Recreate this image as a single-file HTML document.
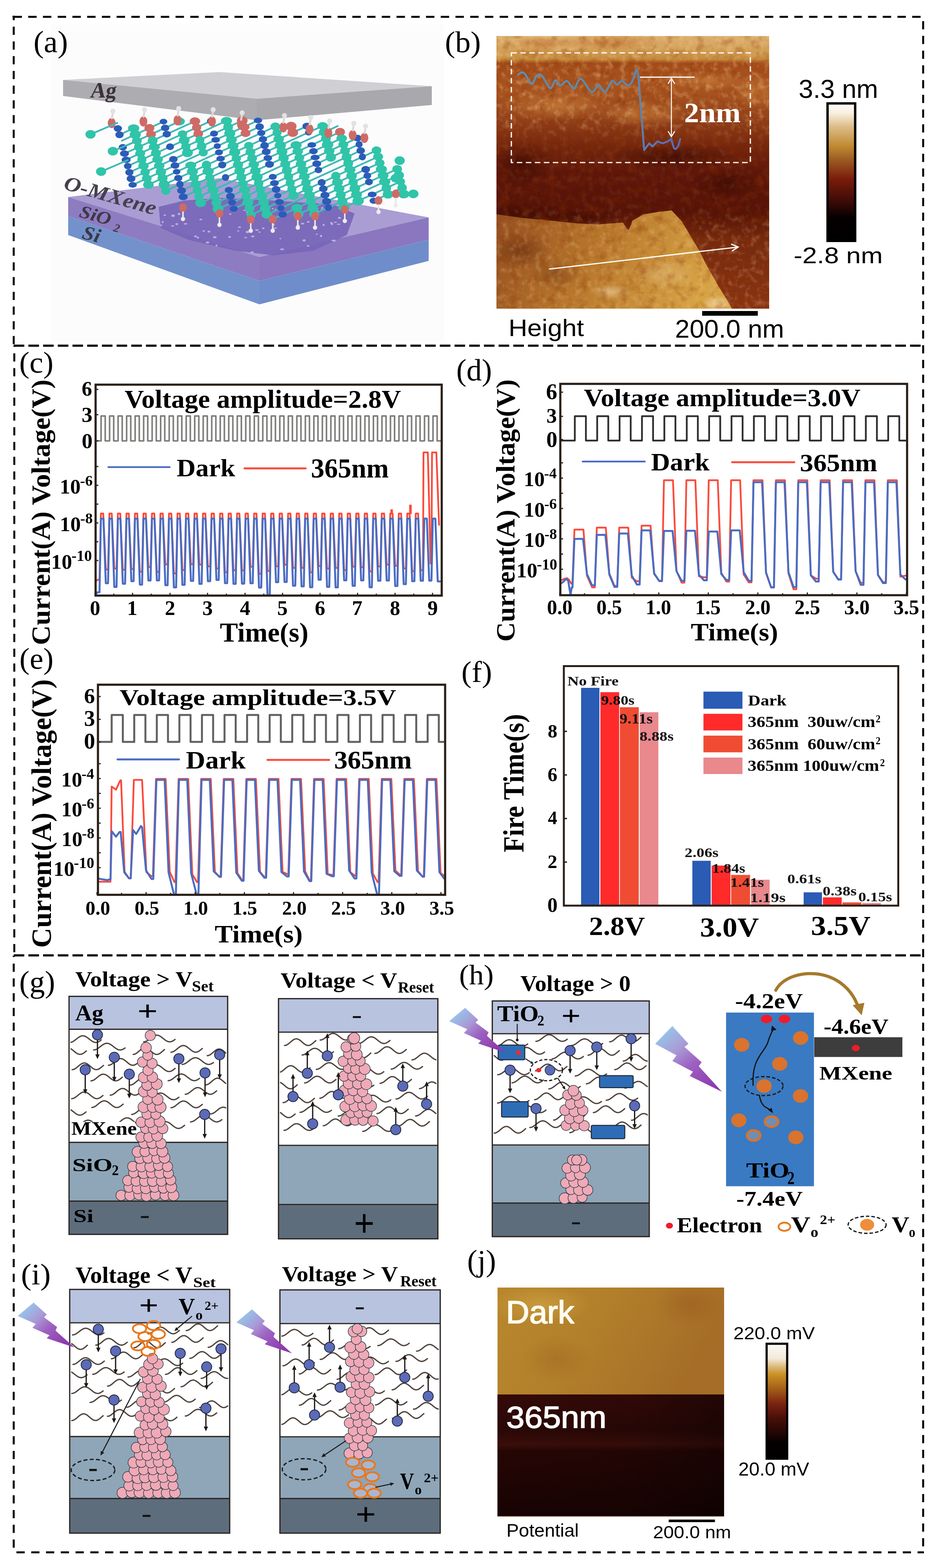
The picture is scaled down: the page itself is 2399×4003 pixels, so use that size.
<!DOCTYPE html>
<html><head><meta charset="utf-8"><title>Figure</title>
<style>html,body{margin:0;padding:0;background:#fff;}body{width:2399px;height:4003px;overflow:hidden}svg{display:block}</style>
</head><body>
<svg width="2399" height="4003" viewBox="0 0 2399 4003">
<rect width="2399" height="4003" fill="#fff"/>
<path d="M32 43H56" stroke="#000" stroke-width="5"/>
<line x1="72" y1="43" x2="2351" y2="43" stroke="#000" stroke-width="5" stroke-dasharray="21.5 16.1" />
<line x1="35" y1="40" x2="35" y2="883" stroke="#000" stroke-width="5" stroke-dasharray="21 16.6" stroke-dashoffset="9.5"/>
<line x1="36.5" y1="883" x2="36.5" y2="2440" stroke="#000" stroke-width="5" stroke-dasharray="21 16.7" stroke-dashoffset="-19"/>
<line x1="35" y1="2440" x2="35" y2="3953" stroke="#000" stroke-width="5" stroke-dasharray="21 16.7" stroke-dashoffset="-20"/>
<line x1="2356" y1="54" x2="2356" y2="3965" stroke="#000" stroke-width="5" stroke-dasharray="21 16.6" />
<line x1="42" y1="3963" x2="2358" y2="3963" stroke="#000" stroke-width="5" stroke-dasharray="21 16.7" />
<line x1="35" y1="882.5" x2="2358" y2="882.5" stroke="#000" stroke-width="5.5" stroke-dasharray="27 10.5" />
<line x1="35" y1="2439" x2="2358" y2="2439" stroke="#000" stroke-width="5.5" stroke-dasharray="27 10.5" />
<defs>
<clipPath id="clipb"><rect x="1267" y="92" width="696" height="696"/></clipPath>
<linearGradient id="afmb" x1="0" y1="0" x2="0" y2="1">
<stop offset="0" stop-color="#dcb070"/>
<stop offset="0.04" stop-color="#d6a65e"/>
<stop offset="0.085" stop-color="#c58a3c"/>
<stop offset="0.1" stop-color="#a34c1a"/>
<stop offset="0.2" stop-color="#a8541f"/>
<stop offset="0.3" stop-color="#94421a"/>
<stop offset="0.4" stop-color="#76270c"/>
<stop offset="0.5" stop-color="#5e1609"/>
<stop offset="0.65" stop-color="#561306"/>
<stop offset="0.75" stop-color="#762a0e"/>
<stop offset="1" stop-color="#8a3412"/>
</linearGradient>
<linearGradient id="afml" gradientUnits="userSpaceOnUse" x1="1280" y1="560" x2="1760" y2="800">
<stop offset="0" stop-color="#96501f"/>
<stop offset="0.45" stop-color="#b7772c"/>
<stop offset="1" stop-color="#d6a244"/>
</linearGradient>
<linearGradient id="cbar1" x1="0" y1="0" x2="0" y2="1">
<stop offset="0" stop-color="#fffef8"/>
<stop offset="0.07" stop-color="#f8f0e0"/>
<stop offset="0.17" stop-color="#dcbc88"/>
<stop offset="0.31" stop-color="#c08a32"/>
<stop offset="0.41" stop-color="#9c5c22"/>
<stop offset="0.55" stop-color="#7a1c0a"/>
<stop offset="0.72" stop-color="#3a0a08"/>
<stop offset="0.83" stop-color="#050000"/>
<stop offset="1" stop-color="#000"/>
</linearGradient>
<filter id="nzL" x="0" y="0" width="1" height="1">
<feTurbulence type="fractalNoise" baseFrequency="0.06" numOctaves="3" seed="3"/>
<feColorMatrix type="matrix" values="0 0 0 0 0.92  0 0 0 0 0.6  0 0 0 0 0.3  2.2 0 0 0 -1.05"/>
<feComposite in2="SourceGraphic" operator="in"/>
</filter>
<filter id="nzD" x="0" y="0" width="1" height="1">
<feTurbulence type="fractalNoise" baseFrequency="0.04" numOctaves="3" seed="11"/>
<feColorMatrix type="matrix" values="0 0 0 0 0.25  0 0 0 0 0.03  0 0 0 0 0  2.2 0 0 0 -1.05"/>
<feComposite in2="SourceGraphic" operator="in"/>
</filter>
<radialGradient id="spotO" cx="0.5" cy="0.5" r="0.5"><stop offset="0" stop-color="#c47a38" stop-opacity="0.85"/><stop offset="1" stop-color="#c47a38" stop-opacity="0"/></radialGradient>
<radialGradient id="spotD" cx="0.5" cy="0.5" r="0.5"><stop offset="0" stop-color="#3c0a02" stop-opacity="0.75"/><stop offset="1" stop-color="#3c0a02" stop-opacity="0"/></radialGradient>
<radialGradient id="spotW" cx="0.5" cy="0.5" r="0.5"><stop offset="0" stop-color="#fff4d8" stop-opacity="0.95"/><stop offset="1" stop-color="#fff4d8" stop-opacity="0"/></radialGradient>
<linearGradient id="nzmg" x1="0" y1="0" x2="0" y2="1">
<stop offset="0" stop-color="#fff"/><stop offset="0.3" stop-color="#fff"/><stop offset="0.38" stop-color="#444"/><stop offset="0.62" stop-color="#333"/><stop offset="0.7" stop-color="#bbb"/><stop offset="1" stop-color="#bbb"/>
</linearGradient>
<mask id="nzmask" maskUnits="userSpaceOnUse" x="1267" y="92" width="696" height="696"><rect x="1267" y="92" width="696" height="696" fill="url(#nzmg)"/></mask>
<linearGradient id="profg" gradientUnits="userSpaceOnUse" x1="1320" y1="190" x2="1740" y2="380"><stop offset="0" stop-color="#5d8fae"/><stop offset="0.7" stop-color="#5d86ae"/><stop offset="1" stop-color="#5a66b6"/></linearGradient>
</defs>
<g clip-path="url(#clipb)">
<rect x="1267" y="92" width="696" height="696" fill="url(#afmb)"/>
<ellipse cx="1420" cy="270" rx="150" ry="40" fill="url(#spotO)"/>
<ellipse cx="1640" cy="290" rx="120" ry="35" fill="url(#spotO)"/>
<ellipse cx="1930" cy="235" rx="60" ry="45" fill="url(#spotO)"/>
<ellipse cx="1800" cy="205" rx="120" ry="25" fill="url(#spotO)"/>
<ellipse cx="1340" cy="545" rx="120" ry="30" fill="url(#spotD)"/>
<ellipse cx="1480" cy="555" rx="100" ry="22" fill="url(#spotD)"/>
<ellipse cx="1720" cy="400" rx="170" ry="35" fill="url(#spotD)"/>
<ellipse cx="1330" cy="420" rx="80" ry="60" fill="url(#spotD)"/>
<ellipse cx="1850" cy="470" rx="90" ry="40" fill="url(#spotD)"/>
<ellipse cx="1560" cy="108" rx="140" ry="22" fill="url(#spotO)"/>
<ellipse cx="1380" cy="112" rx="80" ry="18" fill="url(#spotO)"/>
<polygon points="1267,547 1330,556 1403,563 1470,570 1528,573 1590,568 1597,580 1604,587 1610,575 1614,563 1643,547 1680,541 1714,537 1740,565 1762,602 1785,640 1801,673 1834,731 1855,765 1868,788 1267,788" fill="url(#afml)"/>
<ellipse cx="1330" cy="640" rx="80" ry="50" fill="url(#spotD)" opacity="0.5"/>
<ellipse cx="1420" cy="700" rx="70" ry="40" fill="url(#spotD)" opacity="0.35"/>
<ellipse cx="1560" cy="745" rx="50" ry="20" fill="url(#spotW)" opacity="0.45"/>
<ellipse cx="1830" cy="775" rx="40" ry="22" fill="url(#spotW)" opacity="0.6"/>
<ellipse cx="1700" cy="700" rx="80" ry="40" fill="url(#spotW)" opacity="0.25"/>
<rect x="1267" y="92" width="696" height="696" fill="#fff" filter="url(#nzL)" opacity="0.45" mask="url(#nzmask)"/>
<rect x="1267" y="92" width="696" height="696" fill="#fff" filter="url(#nzD)" opacity="0.4"/>
</g>
<rect x="1305" y="135" width="610" height="280" fill="none" stroke="#fff" stroke-width="3.2" stroke-dasharray="14 9"/>
<path d="M1322.0,191.0 C1323.5,190.0 1328.0,185.3 1331.0,185.0 C1334.0,184.7 1335.7,184.2 1340.0,189.0 C1344.3,193.8 1352.0,213.3 1357.0,214.0 C1362.0,214.7 1365.7,196.5 1370.0,193.0 C1374.3,189.5 1377.3,187.7 1383.0,193.0 C1388.7,198.3 1398.3,223.0 1404.0,225.0 C1409.7,227.0 1412.7,206.2 1417.0,205.0 C1421.3,203.8 1425.0,217.7 1430.0,218.0 C1435.0,218.3 1441.2,205.7 1447.0,207.0 C1452.8,208.3 1459.2,227.0 1465.0,226.0 C1470.8,225.0 1474.5,199.5 1482.0,201.0 C1489.5,202.5 1502.5,232.3 1510.0,235.0 C1517.5,237.7 1521.3,217.0 1527.0,217.0 C1532.7,217.0 1538.2,236.7 1544.0,235.0 C1549.8,233.3 1556.8,210.2 1562.0,207.0 C1567.2,203.8 1570.8,216.0 1575.0,216.0 C1579.2,216.0 1582.0,206.7 1587.0,207.0 C1592.0,207.3 1599.8,219.5 1605.0,218.0 C1610.2,216.5 1614.8,204.7 1618.0,198.0 C1621.2,191.3 1622.2,179.0 1624.0,178.0 C1625.8,177.0 1628.2,189.7 1629.0,192.0 L1644,383 L1657,366 L1665,374 L1678,361 L1691,366 L1704,361 L1713,355  C1714.3,359.0 1718.2,375.8 1721.0,379.0 C1723.8,382.2 1727.5,378.0 1730.0,374.0 C1732.5,370.0 1735.0,358.2 1736.0,355.0" fill="none" stroke="url(#profg)" stroke-width="5" stroke-linejoin="round" stroke-linecap="round"/>
<line x1="1633" y1="197" x2="1773" y2="197" stroke="#fff" stroke-width="3"/>
<line x1="1713.5" y1="203" x2="1713.5" y2="346" stroke="#fff" stroke-width="2.5"/>
<path d="M1705 214 L1713.5 200 L1722 214" fill="none" stroke="#fff" stroke-width="2.5"/>
<path d="M1705 335 L1713.5 349 L1722 335" fill="none" stroke="#fff" stroke-width="2.5"/>
<text x="1746.1" y="312.0" font-family='"Liberation Serif","Times New Roman",serif' font-size="72.0" font-weight="bold" textLength="144.3" lengthAdjust="spacingAndGlyphs" fill="#fff" >2nm</text>
<line x1="1401" y1="687" x2="1882" y2="631" stroke="#fff" stroke-width="3"/>
<path d="M1866 623 L1884 630.5 L1868 641" fill="none" stroke="#fff" stroke-width="3"/>
<rect x="2112" y="264" width="70.5" height="351" fill="url(#cbar1)" stroke="#000" stroke-width="6"/>
<text x="2038.3" y="249.7" font-family='"Liberation Sans",Arial,sans-serif' font-size="66.7" textLength="202.8" lengthAdjust="spacingAndGlyphs" fill="#000" >3.3 nm</text>
<text x="2025.4" y="672.0" font-family='"Liberation Sans",Arial,sans-serif' font-size="57.7" textLength="227.4" lengthAdjust="spacingAndGlyphs" fill="#000" >-2.8 nm</text>
<text x="1297.7" y="857.7" font-family='"Liberation Sans",Arial,sans-serif' font-size="61.0" textLength="192.6" lengthAdjust="spacingAndGlyphs" fill="#000" >Height</text>
<text x="1722.8" y="862.0" font-family='"Liberation Sans",Arial,sans-serif' font-size="64.3" textLength="278.4" lengthAdjust="spacingAndGlyphs" fill="#000" >200.0 nm</text>
<rect x="1792" y="794" width="142" height="12" fill="#000"/>
<defs>
<linearGradient id="jtop" x1="0" y1="0" x2="1" y2="0.3">
<stop offset="0" stop-color="#b6852a"/>
<stop offset="0.45" stop-color="#b17e28"/>
<stop offset="0.8" stop-color="#a97226"/>
<stop offset="1" stop-color="#a36a24"/>
</linearGradient>
<linearGradient id="jbot" x1="0" y1="0" x2="0" y2="1">
<stop offset="0" stop-color="#340a08"/>
<stop offset="0.3" stop-color="#2a0806"/>
<stop offset="0.41" stop-color="#3a0e0a"/>
<stop offset="0.46" stop-color="#260605"/>
<stop offset="1" stop-color="#170302"/>
</linearGradient>
<linearGradient id="cbar2" x1="0" y1="0" x2="0" y2="1">
<stop offset="0" stop-color="#fcfbf8"/>
<stop offset="0.13" stop-color="#f2ead8"/>
<stop offset="0.2" stop-color="#dcb878"/>
<stop offset="0.27" stop-color="#c89024"/>
<stop offset="0.39" stop-color="#a46018"/>
<stop offset="0.52" stop-color="#7a2412"/>
<stop offset="0.64" stop-color="#4a1008"/>
<stop offset="0.8" stop-color="#1a0404"/>
<stop offset="0.86" stop-color="#050000"/>
<stop offset="1" stop-color="#000"/>
</linearGradient>
<filter id="jnoise" x="0" y="0" width="1" height="1">
<feTurbulence type="fractalNoise" baseFrequency="0.6" numOctaves="1" seed="7" result="n"/>
<feColorMatrix type="matrix" values="0 0 0 0 0.9  0 0 0 0 0.75  0 0 0 0 0.4  0 0 0 0.5 -0.15"/>
<feComposite in2="SourceGraphic" operator="in"/>
</filter>
<linearGradient id="jbotr" x1="0" y1="0" x2="1" y2="0"><stop offset="0" stop-color="#000" stop-opacity="0"/><stop offset="0.6" stop-color="#000" stop-opacity="0.1"/><stop offset="1" stop-color="#000" stop-opacity="0.35"/></linearGradient>
<radialGradient id="jlite" cx="0.5" cy="0.5" r="0.5"><stop offset="0" stop-color="#d0a040" stop-opacity="0.7"/><stop offset="1" stop-color="#d0a040" stop-opacity="0"/></radialGradient>
<radialGradient id="jdk" cx="0.5" cy="0.5" r="0.5"><stop offset="0" stop-color="#9a5a1c" stop-opacity="0.6"/><stop offset="1" stop-color="#9a5a1c" stop-opacity="0"/></radialGradient>
</defs>
<clipPath id="clipj"><rect x="1269.5" y="3287" width="578.5" height="273"/></clipPath><g clip-path="url(#clipj)">
<rect x="1269.5" y="3287" width="578.5" height="273" fill="url(#jtop)"/>
<ellipse cx="1380" cy="3330" rx="130" ry="50" fill="url(#jlite)"/>
<ellipse cx="1760" cy="3330" rx="90" ry="60" fill="url(#jdk)"/>
<ellipse cx="1420" cy="3470" rx="90" ry="60" fill="url(#jdk)" opacity="0.6"/>
<rect x="1269.5" y="3287" width="578.5" height="273" fill="#fff" filter="url(#jnoise)" opacity="0.25"/>
</g>
<rect x="1269.5" y="3560" width="578.5" height="311.4000000000001" fill="url(#jbot)"/>
<rect x="1269.5" y="3560" width="578.5" height="311.4000000000001" fill="url(#jbotr)"/>
<line x1="1269.5" y1="3870.9" x2="1848" y2="3870.9" stroke="#b06a30" stroke-width="1.5" opacity="0.6"/>
<text x="1291.5" y="3378.0" font-family='"Liberation Sans",Arial,sans-serif' font-size="81.4" textLength="173.6" lengthAdjust="spacingAndGlyphs" fill="#fffdf0" stroke="#fffdf0" stroke-width="2.2">Dark</text>
<text x="1291.9" y="3645.0" font-family='"Liberation Sans",Arial,sans-serif' font-size="77.1" textLength="255.9" lengthAdjust="spacingAndGlyphs" fill="#fff" stroke="#fff" stroke-width="1.8">365nm</text>
<rect x="1706.6" y="3879.4" width="118" height="6.5" fill="#000"/>
<text x="1666.7" y="3926.6" font-family='"Liberation Sans",Arial,sans-serif' font-size="45.1" textLength="199.2" lengthAdjust="spacingAndGlyphs" fill="#000" >200.0 nm</text>
<text x="1292.4" y="3923.0" font-family='"Liberation Sans",Arial,sans-serif' font-size="45.5" textLength="184.7" lengthAdjust="spacingAndGlyphs" fill="#000" >Potential</text>
<rect x="1956.5" y="3430.5" width="52.5" height="293.5" fill="url(#cbar2)" stroke="#000" stroke-width="5.5"/>
<text x="1871.8" y="3419.2" font-family='"Liberation Sans",Arial,sans-serif' font-size="45.0" textLength="207.9" lengthAdjust="spacingAndGlyphs" fill="#000" >220.0 mV</text>
<text x="1884.6" y="3767.0" font-family='"Liberation Sans",Arial,sans-serif' font-size="47.7" textLength="180.4" lengthAdjust="spacingAndGlyphs" fill="#000" >20.0 mV</text>
<path d="M244.0,1125.5 L258.0,1125.5 L258.0,1062.0 L268.5,1062.0 L268.5,1125.5 L279.7,1125.5 L279.7,1062.0 L290.2,1062.0 L290.2,1125.5 L301.4,1125.5 L301.4,1062.0 L311.9,1062.0 L311.9,1125.5 L323.2,1125.5 L323.2,1062.0 L333.7,1062.0 L333.7,1125.5 L344.9,1125.5 L344.9,1062.0 L355.4,1062.0 L355.4,1125.5 L366.6,1125.5 L366.6,1062.0 L377.1,1062.0 L377.1,1125.5 L388.3,1125.5 L388.3,1062.0 L398.8,1062.0 L398.8,1125.5 L410.0,1125.5 L410.0,1062.0 L420.5,1062.0 L420.5,1125.5 L431.8,1125.5 L431.8,1062.0 L442.3,1062.0 L442.3,1125.5 L453.5,1125.5 L453.5,1062.0 L464.0,1062.0 L464.0,1125.5 L475.2,1125.5 L475.2,1062.0 L485.7,1062.0 L485.7,1125.5 L496.9,1125.5 L496.9,1062.0 L507.4,1062.0 L507.4,1125.5 L518.6,1125.5 L518.6,1062.0 L529.1,1062.0 L529.1,1125.5 L540.4,1125.5 L540.4,1062.0 L550.9,1062.0 L550.9,1125.5 L562.1,1125.5 L562.1,1062.0 L572.6,1062.0 L572.6,1125.5 L583.8,1125.5 L583.8,1062.0 L594.3,1062.0 L594.3,1125.5 L605.5,1125.5 L605.5,1062.0 L616.0,1062.0 L616.0,1125.5 L627.2,1125.5 L627.2,1062.0 L637.7,1062.0 L637.7,1125.5 L649.0,1125.5 L649.0,1062.0 L659.5,1062.0 L659.5,1125.5 L670.7,1125.5 L670.7,1062.0 L681.2,1062.0 L681.2,1125.5 L692.4,1125.5 L692.4,1062.0 L702.9,1062.0 L702.9,1125.5 L714.1,1125.5 L714.1,1062.0 L724.6,1062.0 L724.6,1125.5 L735.8,1125.5 L735.8,1062.0 L746.3,1062.0 L746.3,1125.5 L757.6,1125.5 L757.6,1062.0 L768.1,1062.0 L768.1,1125.5 L779.3,1125.5 L779.3,1062.0 L789.8,1062.0 L789.8,1125.5 L801.0,1125.5 L801.0,1062.0 L811.5,1062.0 L811.5,1125.5 L822.7,1125.5 L822.7,1062.0 L833.2,1062.0 L833.2,1125.5 L844.4,1125.5 L844.4,1062.0 L854.9,1062.0 L854.9,1125.5 L866.2,1125.5 L866.2,1062.0 L876.7,1062.0 L876.7,1125.5 L887.9,1125.5 L887.9,1062.0 L898.4,1062.0 L898.4,1125.5 L909.6,1125.5 L909.6,1062.0 L920.1,1062.0 L920.1,1125.5 L931.3,1125.5 L931.3,1062.0 L941.8,1062.0 L941.8,1125.5 L953.0,1125.5 L953.0,1062.0 L963.5,1062.0 L963.5,1125.5 L974.8,1125.5 L974.8,1062.0 L985.3,1062.0 L985.3,1125.5 L996.5,1125.5 L996.5,1062.0 L1007.0,1062.0 L1007.0,1125.5 L1018.2,1125.5 L1018.2,1062.0 L1028.7,1062.0 L1028.7,1125.5 L1039.9,1125.5 L1039.9,1062.0 L1050.4,1062.0 L1050.4,1125.5 L1061.6,1125.5 L1061.6,1062.0 L1072.1,1062.0 L1072.1,1125.5 L1083.4,1125.5 L1083.4,1062.0 L1093.9,1062.0 L1093.9,1125.5 L1105.1,1125.5 L1105.1,1062.0 L1115.6,1062.0 L1115.6,1125.5 L1125.3,1125.5" fill="none" stroke="#7e7e7c" stroke-width="4" stroke-linejoin="round" stroke-linecap="round" stroke-linejoin="miter" stroke-linecap="butt"/>
<path d="M245.0,1483.0 L250.0,1480.0 L254.0,1480.0 L257.5,1311.0 L263.5,1311.0 L270.0,1454.0 L275.7,1454.0 L275.7,1454.0 L279.2,1311.0 L285.2,1311.0 L291.7,1451.6 L297.4,1451.6 L297.4,1451.6 L300.9,1311.0 L306.9,1311.0 L313.4,1454.7 L319.1,1454.7 L319.2,1454.7 L322.7,1311.0 L328.7,1311.0 L335.2,1452.8 L340.9,1452.8 L340.9,1452.8 L344.4,1311.0 L350.4,1311.0 L356.9,1459.8 L362.6,1459.8 L362.6,1459.8 L366.1,1311.0 L372.1,1311.0 L378.6,1447.6 L384.3,1447.6 L384.3,1447.6 L387.8,1311.0 L393.8,1311.0 L400.3,1460.2 L406.0,1460.2 L406.0,1460.2 L409.5,1311.0 L415.5,1311.0 L422.0,1441.0 L427.7,1441.0 L427.8,1441.0 L431.3,1311.0 L437.3,1311.0 L443.8,1464.1 L449.5,1464.1 L449.5,1464.1 L453.0,1311.0 L459.0,1311.0 L465.5,1455.4 L471.2,1455.4 L471.2,1455.4 L474.7,1311.0 L480.7,1311.0 L487.2,1440.4 L492.9,1440.4 L492.9,1440.4 L496.4,1311.0 L502.4,1311.0 L508.9,1441.5 L514.6,1441.5 L514.6,1441.5 L518.1,1311.0 L524.1,1311.0 L530.6,1446.0 L536.3,1446.0 L536.4,1446.0 L539.9,1311.0 L545.9,1311.0 L552.4,1451.6 L558.1,1451.6 L558.1,1451.6 L561.6,1311.0 L567.6,1311.0 L574.1,1461.1 L579.8,1461.1 L579.8,1461.1 L583.3,1311.0 L589.3,1311.0 L595.8,1456.0 L601.5,1456.0 L601.5,1456.0 L605.0,1311.0 L611.0,1311.0 L617.5,1456.6 L623.2,1456.6 L623.2,1456.6 L626.7,1311.0 L632.7,1311.0 L639.2,1447.0 L644.9,1447.0 L645.0,1447.0 L648.5,1311.0 L654.5,1311.0 L661.0,1464.9 L666.7,1464.9 L666.7,1464.9 L670.2,1311.0 L676.2,1311.0 L682.7,1457.7 L688.4,1457.7 L688.4,1457.7 L691.9,1311.0 L697.9,1311.0 L704.4,1445.7 L710.1,1445.7 L710.1,1445.7 L713.6,1311.0 L719.6,1311.0 L726.1,1441.8 L731.8,1441.8 L731.8,1441.8 L735.3,1311.0 L741.3,1311.0 L747.8,1450.0 L753.5,1450.0 L753.6,1450.0 L757.1,1311.0 L763.1,1311.0 L769.6,1449.7 L775.3,1449.7 L775.3,1449.7 L778.8,1311.0 L784.8,1311.0 L791.3,1461.2 L797.0,1461.2 L797.0,1461.2 L800.5,1311.0 L806.5,1311.0 L813.0,1445.2 L818.7,1445.2 L818.7,1445.2 L822.2,1311.0 L828.2,1311.0 L834.7,1451.7 L840.4,1451.7 L840.4,1451.7 L843.9,1311.0 L849.9,1311.0 L856.4,1449.9 L862.1,1449.9 L862.2,1449.9 L865.7,1311.0 L871.7,1311.0 L878.2,1455.7 L883.9,1455.7 L883.9,1455.7 L887.4,1311.0 L893.4,1311.0 L899.9,1446.7 L905.6,1446.7 L905.6,1446.7 L909.1,1311.0 L915.1,1311.0 L921.6,1448.3 L927.3,1448.3 L927.3,1448.3 L930.8,1311.0 L936.8,1311.0 L943.3,1459.0 L949.0,1459.0 L949.0,1459.0 L952.5,1311.0 L958.5,1311.0 L965.0,1446.2 L970.7,1446.2 L970.8,1446.2 L974.3,1311.0 L980.3,1311.0 L986.8,1441.5 L992.5,1441.5 L992.5,1441.5 L996.0,1311.0 L1002.0,1311.0 L1008.5,1444.4 L1014.2,1444.4 L1014.2,1444.4 L1017.7,1311.0 L1023.7,1311.0 L1030.2,1451.2 L1035.9,1451.2 L1035.9,1451.2 L1039.4,1311.0 L1045.4,1311.0 L1051.9,1458.3 L1057.6,1458.3 L1057.6,1458.3 L1061.1,1311.0 L1067.1,1311.0 L1073.6,1456.1 L1079.3,1456.1 L1079.4,1456.1 L1080.9,1155.0 L1091.9,1155.0 L1098.9,1439.0 L1101.1,1439.0 L1102.6,1155.0 L1113.6,1155.0 L1120.6,1340.0" fill="none" stroke="#fb4a3a" stroke-width="4.5" stroke-linejoin="round" stroke-linecap="round" />
<path d="M245.0,1516.0 L249.0,1512.0 L254.0,1512.0 L257.5,1324.0 L264.0,1324.0 L270.0,1489.0 L275.7,1489.0 L275.7,1489.0 L279.2,1324.0 L285.7,1324.0 L291.7,1498.5 L297.4,1498.5 L297.4,1498.5 L300.9,1324.0 L307.4,1324.0 L313.4,1490.2 L319.1,1490.2 L319.2,1490.2 L322.7,1324.0 L329.2,1324.0 L335.2,1483.7 L340.9,1483.7 L340.9,1483.7 L344.4,1324.0 L350.9,1324.0 L356.9,1492.6 L362.6,1492.6 L362.6,1492.6 L366.1,1324.0 L372.6,1324.0 L378.6,1481.9 L384.3,1481.9 L384.3,1481.9 L387.8,1324.0 L394.3,1324.0 L400.3,1481.8 L406.0,1481.8 L406.0,1481.8 L409.5,1324.0 L416.0,1324.0 L422.0,1493.9 L427.7,1493.9 L427.8,1493.9 L431.3,1324.0 L437.8,1324.0 L443.8,1499.6 L449.5,1499.6 L449.5,1499.6 L453.0,1324.0 L459.5,1324.0 L465.5,1493.1 L471.2,1493.1 L471.2,1493.1 L474.7,1324.0 L481.2,1324.0 L487.2,1483.1 L492.9,1483.1 L492.9,1483.1 L496.4,1324.0 L502.9,1324.0 L508.9,1490.6 L514.6,1490.6 L514.6,1490.6 L518.1,1324.0 L524.6,1324.0 L530.6,1483.8 L536.3,1483.8 L536.4,1483.8 L539.9,1324.0 L546.4,1324.0 L552.4,1480.6 L558.1,1480.6 L558.1,1480.6 L561.6,1324.0 L568.1,1324.0 L574.1,1488.8 L579.8,1488.8 L579.8,1488.8 L583.3,1324.0 L589.8,1324.0 L595.8,1490.4 L601.5,1490.4 L601.5,1490.4 L605.0,1324.0 L611.5,1324.0 L617.5,1490.0 L623.2,1490.0 L623.2,1490.0 L626.7,1324.0 L633.2,1324.0 L639.2,1489.1 L644.9,1489.1 L645.0,1489.1 L648.5,1324.0 L655.0,1324.0 L661.0,1500.0 L666.7,1500.0 L666.7,1500.0 L670.2,1324.0 L676.7,1324.0 L682.7,1519.0 L688.4,1519.0 L688.4,1519.0 L691.9,1324.0 L698.4,1324.0 L704.4,1486.3 L710.1,1486.3 L710.1,1486.3 L713.6,1324.0 L720.1,1324.0 L726.1,1485.8 L731.8,1485.8 L731.8,1485.8 L735.3,1324.0 L741.8,1324.0 L747.8,1495.3 L753.5,1495.3 L753.6,1495.3 L757.1,1324.0 L763.6,1324.0 L769.6,1496.9 L775.3,1496.9 L775.3,1496.9 L778.8,1324.0 L785.3,1324.0 L791.3,1499.2 L797.0,1499.2 L797.0,1499.2 L800.5,1324.0 L807.0,1324.0 L813.0,1480.0 L818.7,1480.0 L818.7,1480.0 L822.2,1324.0 L828.7,1324.0 L834.7,1498.2 L840.4,1498.2 L840.4,1498.2 L843.9,1324.0 L850.4,1324.0 L856.4,1499.6 L862.1,1499.6 L862.2,1499.6 L865.7,1324.0 L872.2,1324.0 L878.2,1481.5 L883.9,1481.5 L883.9,1481.5 L887.4,1324.0 L893.9,1324.0 L899.9,1495.6 L905.6,1495.6 L905.6,1495.6 L909.1,1324.0 L915.6,1324.0 L921.6,1481.7 L927.3,1481.7 L927.3,1481.7 L930.8,1324.0 L937.3,1324.0 L943.3,1499.3 L949.0,1499.3 L949.0,1499.3 L952.5,1324.0 L959.0,1324.0 L965.0,1482.4 L970.7,1482.4 L970.8,1482.4 L974.3,1324.0 L980.8,1324.0 L986.8,1482.0 L992.5,1482.0 L992.5,1482.0 L996.0,1324.0 L1002.5,1324.0 L1008.5,1495.9 L1014.2,1495.9 L1014.2,1495.9 L1017.7,1324.0 L1024.2,1324.0 L1030.2,1491.2 L1035.9,1491.2 L1035.9,1491.2 L1039.4,1324.0 L1045.9,1324.0 L1051.9,1483.8 L1057.6,1483.8 L1057.6,1483.8 L1061.1,1324.0 L1067.6,1324.0 L1073.6,1482.6 L1079.3,1482.6 L1079.4,1482.6 L1082.9,1324.0 L1089.4,1324.0 L1095.4,1482.3 L1101.1,1482.3 L1101.1,1482.3 L1104.6,1324.0 L1111.1,1324.0 L1117.1,1484.3 L1122.8,1484.3" fill="none" stroke="#4a6cc2" stroke-width="5" stroke-linejoin="round" stroke-linecap="round" />
<path d="M998.0,1311.0 L998.0,1302.0 L1001.0,1302.0 L1001.0,1311.0" fill="none" stroke="#fb4a3a" stroke-width="3.5" stroke-linejoin="round" stroke-linecap="round" />
<path d="M1046.0,1311.0 L1046.0,1290.0 L1049.0,1290.0 L1049.0,1311.0" fill="none" stroke="#fb4a3a" stroke-width="3.5" stroke-linejoin="round" stroke-linecap="round" />
<rect x="244" y="982" width="883.3" height="538.5" fill="none" stroke="#2a2018" stroke-width="5.5"/>
<line x1="244" y1="994" x2="251" y2="994" stroke="#2a2018" stroke-width="3"/>
<line x1="244" y1="1058.7" x2="251" y2="1058.7" stroke="#2a2018" stroke-width="3"/>
<line x1="244" y1="1125.5" x2="251" y2="1125.5" stroke="#2a2018" stroke-width="3"/>
<line x1="244" y1="1191" x2="251" y2="1191" stroke="#2a2018" stroke-width="3"/>
<line x1="244" y1="1239" x2="251" y2="1239" stroke="#2a2018" stroke-width="3"/>
<line x1="244" y1="1287" x2="251" y2="1287" stroke="#2a2018" stroke-width="3"/>
<line x1="244" y1="1335" x2="251" y2="1335" stroke="#2a2018" stroke-width="3"/>
<line x1="244" y1="1383" x2="251" y2="1383" stroke="#2a2018" stroke-width="3"/>
<line x1="244" y1="1431" x2="251" y2="1431" stroke="#2a2018" stroke-width="3"/>
<line x1="242.6" y1="1520.5" x2="242.6" y2="1513.5" stroke="#2a2018" stroke-width="3"/>
<line x1="290.45" y1="1520.5" x2="290.45" y2="1515.5" stroke="#2a2018" stroke-width="3"/>
<line x1="338.3" y1="1520.5" x2="338.3" y2="1513.5" stroke="#2a2018" stroke-width="3"/>
<line x1="386.15" y1="1520.5" x2="386.15" y2="1515.5" stroke="#2a2018" stroke-width="3"/>
<line x1="434.0" y1="1520.5" x2="434.0" y2="1513.5" stroke="#2a2018" stroke-width="3"/>
<line x1="481.85" y1="1520.5" x2="481.85" y2="1515.5" stroke="#2a2018" stroke-width="3"/>
<line x1="529.7" y1="1520.5" x2="529.7" y2="1513.5" stroke="#2a2018" stroke-width="3"/>
<line x1="577.55" y1="1520.5" x2="577.55" y2="1515.5" stroke="#2a2018" stroke-width="3"/>
<line x1="625.4" y1="1520.5" x2="625.4" y2="1513.5" stroke="#2a2018" stroke-width="3"/>
<line x1="673.25" y1="1520.5" x2="673.25" y2="1515.5" stroke="#2a2018" stroke-width="3"/>
<line x1="721.1" y1="1520.5" x2="721.1" y2="1513.5" stroke="#2a2018" stroke-width="3"/>
<line x1="768.95" y1="1520.5" x2="768.95" y2="1515.5" stroke="#2a2018" stroke-width="3"/>
<line x1="816.8000000000001" y1="1520.5" x2="816.8000000000001" y2="1513.5" stroke="#2a2018" stroke-width="3"/>
<line x1="864.6500000000001" y1="1520.5" x2="864.6500000000001" y2="1515.5" stroke="#2a2018" stroke-width="3"/>
<line x1="912.5" y1="1520.5" x2="912.5" y2="1513.5" stroke="#2a2018" stroke-width="3"/>
<line x1="960.35" y1="1520.5" x2="960.35" y2="1515.5" stroke="#2a2018" stroke-width="3"/>
<line x1="1008.2" y1="1520.5" x2="1008.2" y2="1513.5" stroke="#2a2018" stroke-width="3"/>
<line x1="1056.05" y1="1520.5" x2="1056.05" y2="1515.5" stroke="#2a2018" stroke-width="3"/>
<line x1="1103.9" y1="1520.5" x2="1103.9" y2="1513.5" stroke="#2a2018" stroke-width="3"/>
<text x="208.6" y="1010.0" font-family='"Liberation Serif","Times New Roman",serif' font-size="53.0" font-weight="bold" fill="#000" >6</text>
<text x="208.2" y="1076.5" font-family='"Liberation Serif","Times New Roman",serif' font-size="55.3" font-weight="bold" fill="#000" >3</text>
<text x="208.6" y="1144.0" font-family='"Liberation Serif","Times New Roman",serif' font-size="55.6" font-weight="bold" fill="#000" >0</text>
<text x="152.4" y="1259.5" font-family='"Liberation Serif","Times New Roman",serif' font-size="53.4" font-weight="bold" fill="#000" >10</text>
<text x="204.3" y="1239.5" font-family='"Liberation Serif","Times New Roman",serif' font-size="38.6" font-weight="bold" fill="#000" >-6</text>
<text x="152.8" y="1355.5" font-family='"Liberation Serif","Times New Roman",serif' font-size="53.4" font-weight="bold" fill="#000" >10</text>
<text x="204.7" y="1335.5" font-family='"Liberation Serif","Times New Roman",serif' font-size="38.3" font-weight="bold" fill="#000" >-8</text>
<text x="130.5" y="1451.5" font-family='"Liberation Serif","Times New Roman",serif' font-size="53.4" font-weight="bold" fill="#000" >10</text>
<text x="182.4" y="1432.0" font-family='"Liberation Serif","Times New Roman",serif' font-size="39.1" font-weight="bold" fill="#000" >-10</text>
<text x="229.4" y="1570.0" font-family='"Liberation Serif","Times New Roman",serif' font-size="52.6" font-weight="bold" fill="#000" >0</text>
<text x="324.2" y="1570.0" font-family='"Liberation Serif","Times New Roman",serif' font-size="53.0" font-weight="bold" fill="#000" >1</text>
<text x="420.7" y="1570.0" font-family='"Liberation Serif","Times New Roman",serif' font-size="53.0" font-weight="bold" fill="#000" >2</text>
<text x="516.4" y="1570.0" font-family='"Liberation Serif","Times New Roman",serif' font-size="53.0" font-weight="bold" fill="#000" >3</text>
<text x="612.3" y="1570.0" font-family='"Liberation Serif","Times New Roman",serif' font-size="53.0" font-weight="bold" fill="#000" >4</text>
<text x="707.6" y="1570.0" font-family='"Liberation Serif","Times New Roman",serif' font-size="53.4" font-weight="bold" fill="#000" >5</text>
<text x="803.4" y="1570.0" font-family='"Liberation Serif","Times New Roman",serif' font-size="53.0" font-weight="bold" fill="#000" >6</text>
<text x="898.3" y="1570.0" font-family='"Liberation Serif","Times New Roman",serif' font-size="53.4" font-weight="bold" fill="#000" >7</text>
<text x="995.0" y="1570.0" font-family='"Liberation Serif","Times New Roman",serif' font-size="52.6" font-weight="bold" fill="#000" >8</text>
<text x="1090.9" y="1570.0" font-family='"Liberation Serif","Times New Roman",serif' font-size="53.0" font-weight="bold" fill="#000" >9</text>
<text x="561.0" y="1638.0" font-family='"Liberation Serif","Times New Roman",serif' font-size="69.1" font-weight="bold" textLength="226.1" lengthAdjust="spacingAndGlyphs" fill="#000" >Time(s)</text>
<text x="127.5" y="1646.9" transform="rotate(-90 127.5 1646.9)" font-family='"Liberation Serif","Times New Roman",serif' font-size="68.3" font-weight="bold" textLength="678.0" lengthAdjust="spacingAndGlyphs" fill="#000">Current(A) Voltage(V)</text>
<text x="317.9" y="1041.0" font-family='"Liberation Serif","Times New Roman",serif' font-size="65.6" font-weight="bold" textLength="705.6" lengthAdjust="spacingAndGlyphs" fill="#000" >Voltage amplitude=2.8V</text>
<path d="M276.5,1192.5 L433.0,1192.5" fill="none" stroke="#4a6cc2" stroke-width="4.5" stroke-linejoin="round" stroke-linecap="round" stroke-linecap="butt"/>
<text x="450.7" y="1216.0" font-family='"Liberation Serif","Times New Roman",serif' font-size="63.3" font-weight="bold" textLength="149.5" lengthAdjust="spacingAndGlyphs" fill="#000" >Dark</text>
<path d="M624.0,1195.8 L780.0,1195.8" fill="none" stroke="#fb4a3a" stroke-width="5" stroke-linejoin="round" stroke-linecap="round" stroke-linecap="butt"/>
<text x="793.6" y="1218.7" font-family='"Liberation Serif","Times New Roman",serif' font-size="69.2" font-weight="bold" textLength="198.6" lengthAdjust="spacingAndGlyphs" fill="#000" >365nm</text>
<path d="M1430.0,1124.8 L1467.0,1124.8 L1467.0,1062.5 L1495.3,1062.5 L1495.3,1124.8 L1524.1,1124.8 L1524.1,1062.5 L1552.4,1062.5 L1552.4,1124.8 L1581.3,1124.8 L1581.3,1062.5 L1609.6,1062.5 L1609.6,1124.8 L1638.4,1124.8 L1638.4,1062.5 L1666.7,1062.5 L1666.7,1124.8 L1695.5,1124.8 L1695.5,1062.5 L1723.8,1062.5 L1723.8,1124.8 L1752.7,1124.8 L1752.7,1062.5 L1781.0,1062.5 L1781.0,1124.8 L1809.8,1124.8 L1809.8,1062.5 L1838.1,1062.5 L1838.1,1124.8 L1866.9,1124.8 L1866.9,1062.5 L1895.2,1062.5 L1895.2,1124.8 L1924.0,1124.8 L1924.0,1062.5 L1952.3,1062.5 L1952.3,1124.8 L1981.2,1124.8 L1981.2,1062.5 L2009.5,1062.5 L2009.5,1124.8 L2038.3,1124.8 L2038.3,1062.5 L2066.6,1062.5 L2066.6,1124.8 L2095.4,1124.8 L2095.4,1062.5 L2123.7,1062.5 L2123.7,1124.8 L2152.6,1124.8 L2152.6,1062.5 L2180.9,1062.5 L2180.9,1124.8 L2209.7,1124.8 L2209.7,1062.5 L2238.0,1062.5 L2238.0,1124.8 L2266.8,1124.8 L2266.8,1062.5 L2295.1,1062.5 L2295.1,1124.8 L2313.0,1124.8" fill="none" stroke="#2e2e2e" stroke-width="4.5" stroke-linejoin="round" stroke-linecap="round" stroke-linejoin="miter" stroke-linecap="butt"/>
<path d="M1431.0,1482.0 L1440.0,1478.0 L1447.0,1476.0 L1452.0,1480.0 L1458.0,1490.0 L1461.0,1490.0 L1466.0,1352.0 L1489.0,1352.0 L1498.0,1469.6 L1511.0,1499.4 L1517.0,1499.4 L1518.1,1499.4 L1523.1,1347.0 L1546.1,1347.0 L1555.1,1464.1 L1568.1,1495.7 L1574.1,1495.7 L1575.3,1495.7 L1580.3,1347.0 L1603.3,1347.0 L1612.3,1474.4 L1625.3,1484.1 L1631.3,1484.1 L1632.4,1484.1 L1637.4,1342.0 L1660.4,1342.0 L1669.4,1465.5 L1682.4,1482.6 L1688.4,1482.6 L1689.5,1482.6 L1694.5,1226.0 L1717.5,1226.0 L1726.5,1457.7 L1739.5,1487.4 L1745.5,1487.4 L1746.7,1487.4 L1751.7,1226.0 L1774.7,1226.0 L1783.7,1471.4 L1796.7,1473.7 L1802.7,1473.7 L1803.8,1473.7 L1808.8,1226.0 L1831.8,1226.0 L1840.8,1462.4 L1853.8,1484.7 L1859.8,1484.7 L1860.9,1484.7 L1865.9,1226.0 L1888.9,1226.0 L1897.9,1466.4 L1910.9,1486.7 L1916.9,1486.7 L1918.0,1486.7 L1923.0,1226.0 L1946.0,1226.0 L1955.0,1463.3 L1968.0,1500.0 L1974.0,1500.0 L1975.2,1500.0 L1980.2,1226.0 L2003.2,1226.0 L2012.2,1463.7 L2025.2,1504.2 L2031.2,1504.2 L2032.3,1504.2 L2037.3,1226.0 L2060.3,1226.0 L2069.3,1469.0 L2082.3,1477.2 L2088.3,1477.2 L2089.4,1477.2 L2094.4,1226.0 L2117.4,1226.0 L2126.4,1459.5 L2139.4,1479.1 L2145.4,1479.1 L2146.6,1479.1 L2151.6,1226.0 L2174.6,1226.0 L2183.6,1458.1 L2196.6,1487.9 L2202.6,1487.9 L2203.7,1487.9 L2208.7,1226.0 L2231.7,1226.0 L2240.7,1467.7 L2253.7,1486.3 L2259.7,1486.3 L2260.8,1486.3 L2265.8,1226.0 L2288.8,1226.0 L2297.8,1472.2 L2310.8,1469.6 L2312.0,1469.6" fill="none" stroke="#fb4a3a" stroke-width="4.5" stroke-linejoin="round" stroke-linecap="round" />
<path d="M1431.0,1490.0 L1438.0,1485.0 L1445.0,1478.0 L1450.0,1482.0 L1456.0,1519.0 L1459.0,1500.0 L1461.0,1500.0 L1466.0,1375.7 L1488.0,1375.7 L1498.0,1465.5 L1511.0,1494.3 L1517.0,1494.3 L1518.1,1494.3 L1523.1,1365.6 L1545.1,1365.6 L1555.1,1466.9 L1568.1,1498.3 L1574.1,1498.3 L1575.3,1498.3 L1580.3,1362.0 L1602.3,1362.0 L1612.3,1469.3 L1625.3,1492.3 L1631.3,1492.3 L1632.4,1492.3 L1637.4,1354.0 L1659.4,1354.0 L1669.4,1463.6 L1682.4,1483.4 L1688.4,1483.4 L1689.5,1483.4 L1694.5,1355.5 L1716.5,1355.5 L1726.5,1458.2 L1739.5,1482.8 L1745.5,1482.8 L1746.7,1482.8 L1751.7,1355.0 L1773.7,1355.0 L1783.7,1467.2 L1796.7,1481.5 L1802.7,1481.5 L1803.8,1481.5 L1808.8,1357.0 L1830.8,1357.0 L1840.8,1465.4 L1853.8,1480.8 L1859.8,1480.8 L1860.9,1480.8 L1865.9,1354.0 L1887.9,1354.0 L1897.9,1460.5 L1910.9,1482.7 L1916.9,1482.7 L1918.0,1482.7 L1923.0,1231.0 L1945.0,1231.0 L1955.0,1461.5 L1968.0,1499.2 L1974.0,1499.2 L1975.2,1499.2 L1980.2,1231.0 L2002.2,1231.0 L2012.2,1460.5 L2025.2,1498.7 L2031.2,1498.7 L2032.3,1498.7 L2037.3,1231.0 L2059.3,1231.0 L2069.3,1468.7 L2082.3,1484.6 L2088.3,1484.6 L2089.4,1484.6 L2094.4,1231.0 L2116.4,1231.0 L2126.4,1459.7 L2139.4,1479.4 L2145.4,1479.4 L2146.6,1479.4 L2151.6,1231.0 L2173.6,1231.0 L2183.6,1458.0 L2196.6,1492.9 L2202.6,1492.9 L2203.7,1492.9 L2208.7,1231.0 L2230.7,1231.0 L2240.7,1467.8 L2253.7,1488.6 L2259.7,1488.6 L2260.8,1488.6 L2265.8,1231.0 L2287.8,1231.0 L2297.8,1466.5 L2310.8,1479.3 L2312.0,1479.3" fill="none" stroke="#4a6cc2" stroke-width="5" stroke-linejoin="round" stroke-linecap="round" />
<rect x="1430" y="980" width="885" height="539.5" fill="none" stroke="#2a2018" stroke-width="5.5"/>
<line x1="1430" y1="1001.2" x2="1437" y2="1001.2" stroke="#2a2018" stroke-width="3"/>
<line x1="1430" y1="1063" x2="1437" y2="1063" stroke="#2a2018" stroke-width="3"/>
<line x1="1430" y1="1122" x2="1437" y2="1122" stroke="#2a2018" stroke-width="3"/>
<line x1="1430" y1="1181.7" x2="1437" y2="1181.7" stroke="#2a2018" stroke-width="3"/>
<line x1="1430" y1="1220.5" x2="1437" y2="1220.5" stroke="#2a2018" stroke-width="3"/>
<line x1="1430" y1="1259.3" x2="1437" y2="1259.3" stroke="#2a2018" stroke-width="3"/>
<line x1="1430" y1="1298.1000000000001" x2="1437" y2="1298.1000000000001" stroke="#2a2018" stroke-width="3"/>
<line x1="1430" y1="1336.9" x2="1437" y2="1336.9" stroke="#2a2018" stroke-width="3"/>
<line x1="1430" y1="1375.7" x2="1437" y2="1375.7" stroke="#2a2018" stroke-width="3"/>
<line x1="1430" y1="1414.5" x2="1437" y2="1414.5" stroke="#2a2018" stroke-width="3"/>
<line x1="1430" y1="1453.3" x2="1437" y2="1453.3" stroke="#2a2018" stroke-width="3"/>
<line x1="1428.5" y1="1519.5" x2="1428.5" y2="1512.5" stroke="#2a2018" stroke-width="3"/>
<line x1="1491.7" y1="1519.5" x2="1491.7" y2="1514.5" stroke="#2a2018" stroke-width="3"/>
<line x1="1554.9" y1="1519.5" x2="1554.9" y2="1512.5" stroke="#2a2018" stroke-width="3"/>
<line x1="1618.1000000000001" y1="1519.5" x2="1618.1000000000001" y2="1514.5" stroke="#2a2018" stroke-width="3"/>
<line x1="1681.3" y1="1519.5" x2="1681.3" y2="1512.5" stroke="#2a2018" stroke-width="3"/>
<line x1="1744.5" y1="1519.5" x2="1744.5" y2="1514.5" stroke="#2a2018" stroke-width="3"/>
<line x1="1807.7" y1="1519.5" x2="1807.7" y2="1512.5" stroke="#2a2018" stroke-width="3"/>
<line x1="1870.9" y1="1519.5" x2="1870.9" y2="1514.5" stroke="#2a2018" stroke-width="3"/>
<line x1="1934.1" y1="1519.5" x2="1934.1" y2="1512.5" stroke="#2a2018" stroke-width="3"/>
<line x1="1997.3" y1="1519.5" x2="1997.3" y2="1514.5" stroke="#2a2018" stroke-width="3"/>
<line x1="2060.5" y1="1519.5" x2="2060.5" y2="1512.5" stroke="#2a2018" stroke-width="3"/>
<line x1="2123.7" y1="1519.5" x2="2123.7" y2="1514.5" stroke="#2a2018" stroke-width="3"/>
<line x1="2186.9" y1="1519.5" x2="2186.9" y2="1512.5" stroke="#2a2018" stroke-width="3"/>
<line x1="2250.1" y1="1519.5" x2="2250.1" y2="1514.5" stroke="#2a2018" stroke-width="3"/>
<line x1="2313.3" y1="1519.5" x2="2313.3" y2="1512.5" stroke="#2a2018" stroke-width="3"/>
<text x="1393.5" y="1019.4" font-family='"Liberation Serif","Times New Roman",serif' font-size="57.3" font-weight="bold" fill="#000" >6</text>
<text x="1394.6" y="1079.4" font-family='"Liberation Serif","Times New Roman",serif' font-size="53.6" font-weight="bold" fill="#000" >3</text>
<text x="1394.2" y="1141.0" font-family='"Liberation Serif","Times New Roman",serif' font-size="56.5" font-weight="bold" fill="#000" >0</text>
<text x="1336.7" y="1241.0" font-family='"Liberation Serif","Times New Roman",serif' font-size="53.4" font-weight="bold" fill="#000" >10</text>
<text x="1388.6" y="1221.0" font-family='"Liberation Serif","Times New Roman",serif' font-size="38.6" font-weight="bold" fill="#000" >-4</text>
<text x="1337.1" y="1318.6" font-family='"Liberation Serif","Times New Roman",serif' font-size="53.4" font-weight="bold" fill="#000" >10</text>
<text x="1389.0" y="1298.6" font-family='"Liberation Serif","Times New Roman",serif' font-size="38.6" font-weight="bold" fill="#000" >-6</text>
<text x="1337.5" y="1396.2" font-family='"Liberation Serif","Times New Roman",serif' font-size="53.4" font-weight="bold" fill="#000" >10</text>
<text x="1389.4" y="1376.2" font-family='"Liberation Serif","Times New Roman",serif' font-size="38.3" font-weight="bold" fill="#000" >-8</text>
<text x="1318.1" y="1473.8" font-family='"Liberation Serif","Times New Roman",serif' font-size="53.4" font-weight="bold" fill="#000" >10</text>
<text x="1370.0" y="1454.3" font-family='"Liberation Serif","Times New Roman",serif' font-size="39.1" font-weight="bold" fill="#000" >-10</text>
<text x="1396.1" y="1568.2" font-family='"Liberation Serif","Times New Roman",serif' font-size="51.9" font-weight="bold" fill="#000" >0.0</text>
<text x="1522.3" y="1568.2" font-family='"Liberation Serif","Times New Roman",serif' font-size="51.9" font-weight="bold" fill="#000" >0.5</text>
<text x="1647.8" y="1568.2" font-family='"Liberation Serif","Times New Roman",serif' font-size="51.9" font-weight="bold" fill="#000" >1.0</text>
<text x="1773.9" y="1568.2" font-family='"Liberation Serif","Times New Roman",serif' font-size="52.3" font-weight="bold" fill="#000" >1.5</text>
<text x="1901.7" y="1568.2" font-family='"Liberation Serif","Times New Roman",serif' font-size="51.9" font-weight="bold" fill="#000" >2.0</text>
<text x="2027.7" y="1568.2" font-family='"Liberation Serif","Times New Roman",serif' font-size="52.3" font-weight="bold" fill="#000" >2.5</text>
<text x="2154.6" y="1568.2" font-family='"Liberation Serif","Times New Roman",serif' font-size="51.9" font-weight="bold" fill="#000" >3.0</text>
<text x="2280.6" y="1568.2" font-family='"Liberation Serif","Times New Roman",serif' font-size="52.3" font-weight="bold" fill="#000" >3.5</text>
<text x="1763.1" y="1635.4" font-family='"Liberation Serif","Times New Roman",serif' font-size="63.0" font-weight="bold" textLength="222.7" lengthAdjust="spacingAndGlyphs" fill="#000" >Time(s)</text>
<text x="1313.0" y="1638.2" transform="rotate(-90 1313.0 1638.2)" font-family='"Liberation Serif","Times New Roman",serif' font-size="67.6" font-weight="bold" textLength="669.7" lengthAdjust="spacingAndGlyphs" fill="#000">Current(A) Voltage(V)</text>
<text x="1490.0" y="1037.4" font-family='"Liberation Serif","Times New Roman",serif' font-size="63.0" font-weight="bold" textLength="706.1" lengthAdjust="spacingAndGlyphs" fill="#000" >Voltage amplitude=3.0V</text>
<path d="M1487.0,1178.2 L1645.6,1178.2" fill="none" stroke="#4a6cc2" stroke-width="4.5" stroke-linejoin="round" stroke-linecap="round" stroke-linecap="butt"/>
<text x="1661.6" y="1200.8" font-family='"Liberation Serif","Times New Roman",serif' font-size="63.0" font-weight="bold" textLength="149.3" lengthAdjust="spacingAndGlyphs" fill="#000" >Dark</text>
<path d="M1868.5,1180.0 L2027.0,1180.0" fill="none" stroke="#fb4a3a" stroke-width="5" stroke-linejoin="round" stroke-linecap="round" stroke-linecap="butt"/>
<text x="2041.5" y="1202.7" font-family='"Liberation Serif","Times New Roman",serif' font-size="63.8" font-weight="bold" textLength="197.3" lengthAdjust="spacingAndGlyphs" fill="#000" >365nm</text>
<path d="M250.0,1894.0 L285.0,1894.0 L285.0,1825.3 L313.5,1825.3 L313.5,1894.0 L342.6,1894.0 L342.6,1825.3 L371.1,1825.3 L371.1,1894.0 L400.2,1894.0 L400.2,1825.3 L428.7,1825.3 L428.7,1894.0 L457.8,1894.0 L457.8,1825.3 L486.3,1825.3 L486.3,1894.0 L515.4,1894.0 L515.4,1825.3 L543.9,1825.3 L543.9,1894.0 L573.0,1894.0 L573.0,1825.3 L601.5,1825.3 L601.5,1894.0 L630.6,1894.0 L630.6,1825.3 L659.1,1825.3 L659.1,1894.0 L688.2,1894.0 L688.2,1825.3 L716.7,1825.3 L716.7,1894.0 L745.8,1894.0 L745.8,1825.3 L774.3,1825.3 L774.3,1894.0 L803.4,1894.0 L803.4,1825.3 L831.9,1825.3 L831.9,1894.0 L861.0,1894.0 L861.0,1825.3 L889.5,1825.3 L889.5,1894.0 L918.6,1894.0 L918.6,1825.3 L947.1,1825.3 L947.1,1894.0 L976.2,1894.0 L976.2,1825.3 L1004.7,1825.3 L1004.7,1894.0 L1033.8,1894.0 L1033.8,1825.3 L1062.3,1825.3 L1062.3,1894.0 L1091.4,1894.0 L1091.4,1825.3 L1119.9,1825.3 L1119.9,1894.0 L1134.0,1894.0" fill="none" stroke="#616161" stroke-width="5" stroke-linejoin="round" stroke-linecap="round" stroke-linejoin="miter" stroke-linecap="butt"/>
<path d="M251.0,2251.0 L279.0,2251.0 L282.0,2251.0 L285.0,2008.0 L296.0,2016.0 L306.8,1992.6 L309.0,1992.0 L318.0,2225.6 L329.0,2242.6 L333.6,2242.6 L333.6,2242.6 L341.6,1991.0 L362.6,1991.0 L373.6,2226.4 L386.6,2236.9 L391.2,2236.9 L390.2,2236.9 L398.2,1988.5 L422.7,1988.5 L433.2,2225.8 L445.2,2252.0 L448.8,2252.0 L447.8,2252.0 L455.8,1988.5 L480.3,1988.5 L490.8,2232.1 L502.8,2252.0 L506.4,2252.0 L505.4,2252.0 L513.4,1988.5 L537.9,1988.5 L548.4,2225.9 L560.4,2239.0 L564.0,2239.0 L563.0,2239.0 L571.0,1988.5 L595.5,1988.5 L606.0,2228.6 L618.0,2247.8 L621.6,2247.8 L620.6,2247.8 L628.6,1988.5 L653.1,1988.5 L663.6,2225.7 L675.6,2239.9 L679.2,2239.9 L678.2,2239.9 L686.2,1988.5 L710.7,1988.5 L721.2,2226.1 L733.2,2231.5 L736.8,2231.5 L735.8,2231.5 L743.8,1988.5 L768.3,1988.5 L778.8,2224.2 L790.8,2249.8 L794.4,2249.8 L793.4,2249.8 L801.4,1988.5 L825.9,1988.5 L836.4,2231.4 L848.4,2233.8 L852.0,2233.8 L851.0,2233.8 L859.0,1988.5 L883.5,1988.5 L894.0,2226.6 L906.0,2235.9 L909.6,2235.9 L908.6,2235.9 L916.6,1988.5 L941.1,1988.5 L951.6,2230.0 L963.6,2252.0 L967.2,2252.0 L966.2,2252.0 L974.2,1988.5 L998.7,1988.5 L1009.2,2222.6 L1021.2,2233.5 L1024.8,2233.5 L1023.8,2233.5 L1031.8,1988.5 L1056.3,1988.5 L1066.8,2223.7 L1078.8,2238.6 L1082.4,2238.6 L1081.4,2238.6 L1089.4,1988.5 L1113.9,1988.5 L1124.4,2228.7 L1133.0,2235.3 L1133.0,2235.3" fill="none" stroke="#fb4a3a" stroke-width="4.5" stroke-linejoin="round" stroke-linecap="round" />
<path d="M251.0,2243.0 L262.0,2245.0 L275.0,2247.0 L279.0,2245.0 L282.0,2245.0 L285.0,2122.0 L296.0,2136.0 L305.0,2124.0 L308.0,2124.0 L317.0,2226.6 L329.0,2242.0 L333.6,2242.0 L333.6,2242.0 L339.6,2119.0 L347.6,2129.0 L359.6,2109.0 L362.6,2112.0 L372.6,2222.1 L386.6,2244.0 L391.2,2244.0 L391.2,2244.0 L399.2,1991.0 L420.2,1991.0 L430.2,2227.5 L444.2,2284.0 L448.8,2284.0 L448.8,2284.0 L456.8,1991.0 L477.8,1991.0 L487.8,2229.0 L501.8,2284.0 L506.4,2284.0 L506.4,2284.0 L514.4,1991.0 L535.4,1991.0 L545.4,2224.4 L559.4,2237.8 L564.0,2237.8 L564.0,2237.8 L572.0,1991.0 L593.0,1991.0 L603.0,2227.9 L617.0,2248.4 L621.6,2248.4 L621.6,2248.4 L629.6,1991.0 L650.6,1991.0 L660.6,2223.0 L674.6,2240.7 L679.2,2240.7 L679.2,2240.7 L687.2,1991.0 L708.2,1991.0 L718.2,2226.2 L732.2,2237.4 L736.8,2237.4 L736.8,2237.4 L744.8,1991.0 L765.8,1991.0 L775.8,2224.8 L789.8,2249.0 L794.4,2249.0 L794.4,2249.0 L802.4,1991.0 L823.4,1991.0 L833.4,2230.8 L847.4,2236.9 L852.0,2236.9 L852.0,2236.9 L860.0,1991.0 L881.0,1991.0 L891.0,2222.2 L905.0,2242.8 L909.6,2242.8 L909.6,2242.8 L917.6,1991.0 L938.6,1991.0 L948.6,2228.0 L962.6,2284.0 L967.2,2284.0 L967.2,2284.0 L975.2,1991.0 L996.2,1991.0 L1006.2,2224.0 L1020.2,2236.1 L1024.8,2236.1 L1024.8,2236.1 L1032.8,1991.0 L1053.8,1991.0 L1063.8,2222.2 L1077.8,2237.4 L1082.4,2237.4 L1082.4,2237.4 L1090.4,1991.0 L1111.4,1991.0 L1121.4,2226.2 L1133.0,2242.4 L1133.0,2242.4" fill="none" stroke="#4a6cc2" stroke-width="5" stroke-linejoin="round" stroke-linecap="round" />
<rect x="250" y="1748" width="886" height="536.4000000000001" fill="none" stroke="#2a2018" stroke-width="5.5"/>
<line x1="250" y1="1778.2" x2="257" y2="1778.2" stroke="#2a2018" stroke-width="3"/>
<line x1="250" y1="1836.4" x2="257" y2="1836.4" stroke="#2a2018" stroke-width="3"/>
<line x1="250" y1="1894" x2="257" y2="1894" stroke="#2a2018" stroke-width="3"/>
<line x1="250" y1="1949.6999999999998" x2="257" y2="1949.6999999999998" stroke="#2a2018" stroke-width="3"/>
<line x1="250" y1="1987.6" x2="257" y2="1987.6" stroke="#2a2018" stroke-width="3"/>
<line x1="250" y1="2025.5" x2="257" y2="2025.5" stroke="#2a2018" stroke-width="3"/>
<line x1="250" y1="2063.4" x2="257" y2="2063.4" stroke="#2a2018" stroke-width="3"/>
<line x1="250" y1="2101.2999999999997" x2="257" y2="2101.2999999999997" stroke="#2a2018" stroke-width="3"/>
<line x1="250" y1="2139.2" x2="257" y2="2139.2" stroke="#2a2018" stroke-width="3"/>
<line x1="250" y1="2177.1" x2="257" y2="2177.1" stroke="#2a2018" stroke-width="3"/>
<line x1="250" y1="2215.0" x2="257" y2="2215.0" stroke="#2a2018" stroke-width="3"/>
<line x1="247.5" y1="2284.4" x2="247.5" y2="2277.4" stroke="#2a2018" stroke-width="3"/>
<line x1="310.2" y1="2284.4" x2="310.2" y2="2279.4" stroke="#2a2018" stroke-width="3"/>
<line x1="372.9" y1="2284.4" x2="372.9" y2="2277.4" stroke="#2a2018" stroke-width="3"/>
<line x1="435.59999999999997" y1="2284.4" x2="435.59999999999997" y2="2279.4" stroke="#2a2018" stroke-width="3"/>
<line x1="498.3" y1="2284.4" x2="498.3" y2="2277.4" stroke="#2a2018" stroke-width="3"/>
<line x1="561.0" y1="2284.4" x2="561.0" y2="2279.4" stroke="#2a2018" stroke-width="3"/>
<line x1="623.7" y1="2284.4" x2="623.7" y2="2277.4" stroke="#2a2018" stroke-width="3"/>
<line x1="686.4000000000001" y1="2284.4" x2="686.4000000000001" y2="2279.4" stroke="#2a2018" stroke-width="3"/>
<line x1="749.1" y1="2284.4" x2="749.1" y2="2277.4" stroke="#2a2018" stroke-width="3"/>
<line x1="811.8000000000001" y1="2284.4" x2="811.8000000000001" y2="2279.4" stroke="#2a2018" stroke-width="3"/>
<line x1="874.5" y1="2284.4" x2="874.5" y2="2277.4" stroke="#2a2018" stroke-width="3"/>
<line x1="937.2" y1="2284.4" x2="937.2" y2="2279.4" stroke="#2a2018" stroke-width="3"/>
<line x1="999.9000000000001" y1="2284.4" x2="999.9000000000001" y2="2277.4" stroke="#2a2018" stroke-width="3"/>
<line x1="1062.6000000000001" y1="2284.4" x2="1062.6000000000001" y2="2279.4" stroke="#2a2018" stroke-width="3"/>
<line x1="1125.3000000000002" y1="2284.4" x2="1125.3000000000002" y2="2277.4" stroke="#2a2018" stroke-width="3"/>
<text x="214.5" y="1794.9" font-family='"Liberation Serif","Times New Roman",serif' font-size="55.6" font-weight="bold" fill="#000" >6</text>
<text x="214.4" y="1853.4" font-family='"Liberation Serif","Times New Roman",serif' font-size="56.2" font-weight="bold" fill="#000" >3</text>
<text x="214.2" y="1911.0" font-family='"Liberation Serif","Times New Roman",serif' font-size="57.1" font-weight="bold" fill="#000" >0</text>
<text x="156.2" y="2008.1" font-family='"Liberation Serif","Times New Roman",serif' font-size="53.4" font-weight="bold" fill="#000" >10</text>
<text x="208.1" y="1988.1" font-family='"Liberation Serif","Times New Roman",serif' font-size="38.6" font-weight="bold" fill="#000" >-4</text>
<text x="156.6" y="2083.9" font-family='"Liberation Serif","Times New Roman",serif' font-size="53.4" font-weight="bold" fill="#000" >10</text>
<text x="208.5" y="2063.9" font-family='"Liberation Serif","Times New Roman",serif' font-size="38.6" font-weight="bold" fill="#000" >-6</text>
<text x="157.0" y="2159.7" font-family='"Liberation Serif","Times New Roman",serif' font-size="53.4" font-weight="bold" fill="#000" >10</text>
<text x="208.9" y="2139.7" font-family='"Liberation Serif","Times New Roman",serif' font-size="38.3" font-weight="bold" fill="#000" >-8</text>
<text x="136.5" y="2235.5" font-family='"Liberation Serif","Times New Roman",serif' font-size="53.4" font-weight="bold" fill="#000" >10</text>
<text x="188.4" y="2216.0" font-family='"Liberation Serif","Times New Roman",serif' font-size="39.1" font-weight="bold" fill="#000" >-10</text>
<text x="218.3" y="2335.4" font-family='"Liberation Serif","Times New Roman",serif' font-size="50.2" font-weight="bold" fill="#000" >0.0</text>
<text x="343.6" y="2335.4" font-family='"Liberation Serif","Times New Roman",serif' font-size="50.2" font-weight="bold" fill="#000" >0.5</text>
<text x="468.1" y="2335.4" font-family='"Liberation Serif","Times New Roman",serif' font-size="50.2" font-weight="bold" fill="#000" >1.0</text>
<text x="593.1" y="2335.4" font-family='"Liberation Serif","Times New Roman",serif' font-size="50.6" font-weight="bold" fill="#000" >1.5</text>
<text x="719.9" y="2335.4" font-family='"Liberation Serif","Times New Roman",serif' font-size="50.2" font-weight="bold" fill="#000" >2.0</text>
<text x="844.9" y="2335.4" font-family='"Liberation Serif","Times New Roman",serif' font-size="50.6" font-weight="bold" fill="#000" >2.5</text>
<text x="970.8" y="2335.4" font-family='"Liberation Serif","Times New Roman",serif' font-size="50.2" font-weight="bold" fill="#000" >3.0</text>
<text x="1095.9" y="2335.4" font-family='"Liberation Serif","Times New Roman",serif' font-size="50.6" font-weight="bold" fill="#000" >3.5</text>
<text x="548.1" y="2406.0" font-family='"Liberation Serif","Times New Roman",serif' font-size="63.3" font-weight="bold" textLength="224.4" lengthAdjust="spacingAndGlyphs" fill="#000" >Time(s)</text>
<text x="130.0" y="2419.8" transform="rotate(-90 130.0 2419.8)" font-family='"Liberation Serif","Times New Roman",serif' font-size="71.5" font-weight="bold" textLength="685.6" lengthAdjust="spacingAndGlyphs" fill="#000">Current(A)  Voltage(V)</text>
<text x="304.9" y="1800.0" font-family='"Liberation Serif","Times New Roman",serif' font-size="58.0" font-weight="bold" textLength="706.3" lengthAdjust="spacingAndGlyphs" fill="#000" >Voltage amplitude=3.5V</text>
<path d="M300.0,1938.7 L456.7,1938.7" fill="none" stroke="#4a6cc2" stroke-width="5" stroke-linejoin="round" stroke-linecap="round" stroke-linecap="butt"/>
<text x="474.3" y="1962.3" font-family='"Liberation Serif","Times New Roman",serif' font-size="63.0" font-weight="bold" textLength="152.8" lengthAdjust="spacingAndGlyphs" fill="#000" >Dark</text>
<path d="M682.6,1940.0 L840.0,1940.0" fill="none" stroke="#fb4a3a" stroke-width="5" stroke-linejoin="round" stroke-linecap="round" stroke-linecap="butt"/>
<text x="852.7" y="1962.4" font-family='"Liberation Serif","Times New Roman",serif' font-size="64.5" font-weight="bold" textLength="198.1" lengthAdjust="spacingAndGlyphs" fill="#000" >365nm</text>
<rect x="1483.0" y="1756.0" width="46.8" height="556.0" fill="#2a5bb5"/>
<rect x="1532.2" y="1767.1" width="48" height="544.9" fill="#ff2b2b"/>
<rect x="1582.0" y="1805.5" width="48.3" height="506.5" fill="#f04c34"/>
<rect x="1632.7" y="1818.3" width="47.5" height="493.7" fill="#e9888d"/>
<rect x="1767.0" y="2197.5" width="46.8" height="114.5" fill="#2a5bb5"/>
<rect x="1816.2" y="2209.7" width="48" height="102.3" fill="#ff2b2b"/>
<rect x="1866.0" y="2233.6" width="48.3" height="78.4" fill="#f04c34"/>
<rect x="1916.7" y="2245.8" width="47.5" height="66.2" fill="#e9888d"/>
<rect x="2051.0" y="2278.1" width="46.8" height="33.9" fill="#2a5bb5"/>
<rect x="2100.2" y="2290.9" width="48" height="21.1" fill="#ff2b2b"/>
<rect x="2150.0" y="2303.7" width="48.3" height="8.3" fill="#f04c34"/>
<rect x="2200.7" y="2305.3" width="47.5" height="6.7" fill="#e9888d"/>
<rect x="1439" y="1700.5" width="853.5" height="611.5" fill="none" stroke="#2a2018" stroke-width="5"/>
<line x1="1439" y1="2200.8" x2="1447" y2="2200.8" stroke="#2a2018" stroke-width="3.5"/>
<line x1="1439" y1="2089.6" x2="1447" y2="2089.6" stroke="#2a2018" stroke-width="3.5"/>
<line x1="1439" y1="1978.4" x2="1447" y2="1978.4" stroke="#2a2018" stroke-width="3.5"/>
<line x1="1439" y1="1867.2" x2="1447" y2="1867.2" stroke="#2a2018" stroke-width="3.5"/>
<text x="1397.7" y="1882.8" font-family='"Liberation Serif","Times New Roman",serif' font-size="49.3" font-weight="bold" fill="#000" >8</text>
<text x="1397.4" y="1994.0" font-family='"Liberation Serif","Times New Roman",serif' font-size="50.0" font-weight="bold" fill="#000" >6</text>
<text x="1398.2" y="2104.0" font-family='"Liberation Serif","Times New Roman",serif' font-size="47.7" font-weight="bold" fill="#000" >4</text>
<text x="1397.6" y="2216.4" font-family='"Liberation Serif","Times New Roman",serif' font-size="49.5" font-weight="bold" fill="#000" >2</text>
<text x="1397.0" y="2327.6" font-family='"Liberation Serif","Times New Roman",serif' font-size="52.0" font-weight="bold" fill="#000" >0</text>
<text x="1336.0" y="2176.1" transform="rotate(-90 1336.0 2176.1)" font-family='"Liberation Serif","Times New Roman",serif' font-size="74.8" font-weight="bold" textLength="353.4" lengthAdjust="spacingAndGlyphs" fill="#000">Fire Time(s)</text>
<text x="1448.0" y="1749.5" font-family='"Liberation Serif","Times New Roman",serif' font-size="33.1" font-weight="bold" textLength="130.8" lengthAdjust="spacingAndGlyphs" fill="#111" >No Fire</text>
<text x="1534.1" y="1799.0" font-family='"Liberation Serif","Times New Roman",serif' font-size="34.6" font-weight="bold" textLength="85.2" lengthAdjust="spacingAndGlyphs" fill="#111" >9.80s</text>
<text x="1581.1" y="1846.6" font-family='"Liberation Serif","Times New Roman",serif' font-size="35.0" font-weight="bold" textLength="84.7" lengthAdjust="spacingAndGlyphs" fill="#111" >9.11s</text>
<text x="1632.3" y="1891.0" font-family='"Liberation Serif","Times New Roman",serif' font-size="34.6" font-weight="bold" textLength="86.9" lengthAdjust="spacingAndGlyphs" fill="#111" >8.88s</text>
<text x="1747.3" y="2188.0" font-family='"Liberation Serif","Times New Roman",serif' font-size="34.6" font-weight="bold" textLength="86.5" lengthAdjust="spacingAndGlyphs" fill="#111" >2.06s</text>
<text x="1817.2" y="2228.0" font-family='"Liberation Serif","Times New Roman",serif' font-size="34.6" font-weight="bold" textLength="84.6" lengthAdjust="spacingAndGlyphs" fill="#111" >1.84s</text>
<text x="1863.7" y="2263.8" font-family='"Liberation Serif","Times New Roman",serif' font-size="34.5" font-weight="bold" textLength="86.1" lengthAdjust="spacingAndGlyphs" fill="#111" >1.41s</text>
<text x="1914.3" y="2302.6" font-family='"Liberation Serif","Times New Roman",serif' font-size="34.2" font-weight="bold" textLength="90.6" lengthAdjust="spacingAndGlyphs" fill="#111" >1.19s</text>
<text x="2009.3" y="2255.0" font-family='"Liberation Serif","Times New Roman",serif' font-size="34.6" font-weight="bold" textLength="86.5" lengthAdjust="spacingAndGlyphs" fill="#111" >0.61s</text>
<text x="2099.6" y="2286.4" font-family='"Liberation Serif","Times New Roman",serif' font-size="34.4" font-weight="bold" textLength="86.6" lengthAdjust="spacingAndGlyphs" fill="#111" >0.38s</text>
<text x="2190.6" y="2300.6" font-family='"Liberation Serif","Times New Roman",serif' font-size="34.6" font-weight="bold" textLength="86.2" lengthAdjust="spacingAndGlyphs" fill="#111" >0.15s</text>
<text x="1503.3" y="2386.7" font-family='"Liberation Serif","Times New Roman",serif' font-size="68.7" font-weight="bold" textLength="142.6" lengthAdjust="spacingAndGlyphs" fill="#000" >2.8V</text>
<text x="1786.6" y="2391.0" font-family='"Liberation Serif","Times New Roman",serif' font-size="69.2" font-weight="bold" textLength="150.3" lengthAdjust="spacingAndGlyphs" fill="#000" >3.0V</text>
<text x="2069.6" y="2386.7" font-family='"Liberation Serif","Times New Roman",serif' font-size="69.2" font-weight="bold" textLength="152.3" lengthAdjust="spacingAndGlyphs" fill="#000" >3.5V</text>
<rect x="1795.3" y="1765.7" width="99.5" height="43.7" fill="#2a5bb5"/>
<rect x="1795.3" y="1822.3" width="99.5" height="42.5" fill="#ff2b2b"/>
<rect x="1795.3" y="1878" width="99.5" height="42.6" fill="#f04c34"/>
<rect x="1795.3" y="1934" width="99.5" height="42.0" fill="#e9888d"/>
<text x="1909.1" y="1801.3" font-family='"Liberation Serif","Times New Roman",serif' font-size="37.8" font-weight="bold" textLength="98.0" lengthAdjust="spacingAndGlyphs" fill="#000" >Dark</text>
<text x="1908.3" y="1856.0" font-family='"Liberation Serif","Times New Roman",serif' font-size="39.8" font-weight="bold" textLength="325.4" lengthAdjust="spacingAndGlyphs" fill="#000" >365nm  30uw/cm</text>
<text x="1908.3" y="1912.5" font-family='"Liberation Serif","Times New Roman",serif' font-size="39.8" font-weight="bold" textLength="325.4" lengthAdjust="spacingAndGlyphs" fill="#000" >365nm  60uw/cm</text>
<text x="1908.3" y="1968.0" font-family='"Liberation Serif","Times New Roman",serif' font-size="39.8" font-weight="bold" textLength="335.4" lengthAdjust="spacingAndGlyphs" fill="#000" >365nm 100uw/cm</text>
<text x="2234.9" y="1843.5" font-family='"Liberation Serif","Times New Roman",serif' font-size="27.3" font-weight="bold" textLength="12.2" lengthAdjust="spacingAndGlyphs" fill="#000" >2</text>
<text x="2234.9" y="1900.0" font-family='"Liberation Serif","Times New Roman",serif' font-size="27.3" font-weight="bold" textLength="12.2" lengthAdjust="spacingAndGlyphs" fill="#000" >2</text>
<text x="2245.9" y="1955.5" font-family='"Liberation Serif","Times New Roman",serif' font-size="27.3" font-weight="bold" textLength="12.2" lengthAdjust="spacingAndGlyphs" fill="#000" >2</text>
<rect x="176.2" y="2543.6" width="404.8" height="84.0" fill="#b8c3e0"/>
<rect x="176.2" y="2627.6" width="404.8" height="288.8000000000002" fill="#ffffff"/>
<rect x="176.2" y="2916.4" width="404.8" height="150.0" fill="#8ea6b8"/>
<rect x="176.2" y="3066.4" width="404.8" height="84.90000000000009" fill="#5e6d7c"/>
<rect x="176.2" y="2543.6" width="404.8" height="607.7000000000003" fill="none" stroke="#2b2622" stroke-width="3.2"/>
<line x1="176.2" y1="2627.6" x2="581" y2="2627.6" stroke="#2b2622" stroke-width="3.2"/>
<line x1="176.2" y1="2916.4" x2="581" y2="2916.4" stroke="#2b2622" stroke-width="3.2"/>
<line x1="176.2" y1="3066.4" x2="581" y2="3066.4" stroke="#2b2622" stroke-width="3.2"/>
<polyline points="181.2,2660.9 183.2,2660.4 185.2,2659.5 187.1,2658.4 189.1,2657.1 191.1,2655.7 193.1,2654.2 195.0,2652.6 197.0,2651.0 199.0,2649.5 201.0,2648.1 203.0,2646.8 204.9,2645.8 206.9,2645.0 208.9,2644.5 210.9,2644.3 212.9,2644.4 214.8,2644.8 216.8,2645.4 218.8,2646.3 220.8,2647.5 222.7,2648.8 224.7,2650.3 226.7,2651.9 228.7,2653.5 230.7,2655.0 232.6,2656.5 234.6,2657.9 236.6,2659.1 238.6,2660.0 240.5,2660.7 242.5,2661.1 244.5,2661.3 246.5,2661.1 248.5,2660.6 250.4,2659.9 252.4,2658.9 254.4,2657.7 256.4,2656.3 258.3,2654.8" fill="none" stroke="#4f433b" stroke-width="3.3" stroke-linecap="round" stroke-linejoin="round"/>
<polyline points="366.8,2659.7 368.8,2659.6 370.7,2659.1 372.7,2658.4 374.6,2657.5 376.6,2656.3 378.5,2655.0 380.5,2653.5 382.4,2652.0 384.4,2650.4 386.3,2648.9 388.3,2647.4 390.2,2646.1 392.2,2644.9 394.1,2644.0 396.1,2643.3 398.0,2642.9 400.0,2642.7 401.9,2642.9 403.9,2643.3 405.8,2644.0 407.8,2644.9 409.7,2646.1 411.7,2647.4 413.6,2648.9 415.6,2650.4 417.5,2652.0 419.5,2653.6 421.4,2655.0 423.4,2656.4 425.3,2657.5 427.3,2658.5 429.2,2659.1 431.2,2659.6 433.1,2659.7 435.1,2659.6 437.0,2659.1 439.0,2658.4 441.0,2657.5 442.9,2656.3 444.9,2655.0 446.8,2653.5" fill="none" stroke="#4f433b" stroke-width="3.3" stroke-linecap="round" stroke-linejoin="round"/>
<polyline points="181.2,2677.7 183.2,2679.0 185.1,2680.5 187.1,2682.1 189.0,2683.8 191.0,2685.4 193.0,2686.9 194.9,2688.3 196.9,2689.5 198.8,2690.5 200.8,2691.2 202.8,2691.6 204.7,2691.7 206.7,2691.4 208.6,2690.9 210.6,2690.1 212.6,2689.0 214.5,2687.7 216.5,2686.2 218.4,2684.6 220.4,2683.0" fill="none" stroke="#4f433b" stroke-width="3.3" stroke-linecap="round" stroke-linejoin="round"/>
<polyline points="239.1,2680.5 241.0,2680.4 243.0,2679.9 244.9,2679.3 246.9,2678.4 248.8,2677.2 250.8,2675.9 252.7,2674.5 254.7,2673.0 256.6,2671.5 258.6,2669.9 260.5,2668.5 262.5,2667.2 264.4,2666.0 266.4,2665.0 268.3,2664.2 270.3,2663.7 272.2,2663.5 274.2,2663.6 276.1,2663.9 278.1,2664.5 280.0,2665.3 282.0,2666.4 283.9,2667.6 285.9,2669.0 287.8,2670.5 289.8,2672.0 291.7,2673.6 293.7,2675.1 295.6,2676.4 297.6,2677.7 299.5,2678.7 301.5,2679.6 303.4,2680.1 305.4,2680.4 307.3,2680.5 309.3,2680.2 311.3,2679.7 313.2,2679.0 315.2,2678.0 317.1,2676.8 319.1,2675.4" fill="none" stroke="#4f433b" stroke-width="3.3" stroke-linecap="round" stroke-linejoin="round"/>
<polyline points="339.9,2691.9 341.8,2691.7 343.8,2691.2 345.7,2690.4 347.7,2689.2 349.6,2687.9 351.6,2686.3 353.5,2684.6 355.5,2682.9 357.4,2681.2 359.4,2679.6 361.3,2678.1 363.3,2676.9 365.2,2675.9 367.2,2675.3 369.1,2674.9 371.1,2675.0 373.0,2675.3 375.0,2676.1 376.9,2677.1 378.9,2678.3 380.8,2679.8 382.8,2681.5 384.8,2683.2 386.7,2684.9 388.7,2686.6 390.6,2688.1 392.6,2689.4 394.5,2690.5 396.5,2691.3 398.4,2691.8 400.4,2691.9 402.3,2691.7 404.3,2691.1 406.2,2690.2 408.2,2689.1 410.1,2687.7 412.1,2686.1 414.0,2684.4 416.0,2682.7 417.9,2681.0 419.9,2679.4" fill="none" stroke="#4f433b" stroke-width="3.3" stroke-linecap="round" stroke-linejoin="round"/>
<polyline points="436.4,2686.2 438.3,2686.0 440.3,2685.5 442.2,2684.8 444.2,2683.7 446.1,2682.5 448.1,2681.0 450.0,2679.5 452.0,2677.8 453.9,2676.2 455.9,2674.6 457.8,2673.1 459.8,2671.8 461.7,2670.7 463.7,2669.9 465.6,2669.4 467.6,2669.2 469.5,2669.3 471.5,2669.7 473.4,2670.5 475.4,2671.4 477.3,2672.7 479.3,2674.1 481.2,2675.7 483.2,2677.3 485.1,2678.9 487.1,2680.5 489.1,2682.0 491.0,2683.4 493.0,2684.5 494.9,2685.3 496.9,2685.9 498.8,2686.2 500.8,2686.1 502.7,2685.7 504.7,2685.1 506.6,2684.1 508.6,2682.9 510.5,2681.5 512.5,2680.0 514.4,2678.3 516.4,2676.7" fill="none" stroke="#4f433b" stroke-width="3.3" stroke-linecap="round" stroke-linejoin="round"/>
<polyline points="529.0,2695.0 530.9,2694.9 532.9,2694.3 534.8,2693.5 536.8,2692.4 538.8,2691.0 540.7,2689.4 542.7,2687.7 544.6,2686.0 546.6,2684.3 548.6,2682.7 550.5,2681.2 552.5,2680.0 554.4,2679.0 556.4,2678.4 558.4,2678.1 560.3,2678.1 562.3,2678.5 564.2,2679.2 566.2,2680.3 568.2,2681.6 570.1,2683.1 572.1,2684.7 574.0,2686.5 576.0,2688.2" fill="none" stroke="#4f433b" stroke-width="3.3" stroke-linecap="round" stroke-linejoin="round"/>
<polyline points="184.1,2730.7 186.1,2730.6 188.0,2730.1 190.0,2729.3 191.9,2728.2 193.9,2726.9 195.8,2725.4 197.8,2723.8 199.7,2722.1 201.7,2720.4 203.6,2718.8 205.6,2717.4 207.5,2716.1 209.5,2715.0 211.5,2714.3 213.4,2713.8 215.4,2713.7 217.3,2713.9 219.3,2714.5 221.2,2715.3 223.2,2716.4 225.1,2717.8 227.1,2719.3 229.0,2720.9 231.0,2722.6 232.9,2724.3 234.9,2725.9 236.8,2727.3 238.8,2728.5 240.7,2729.5 242.7,2730.3 244.6,2730.6 246.6,2730.7 248.5,2730.4 250.5,2729.9 252.4,2729.0 254.4,2727.8 256.3,2726.4 258.3,2724.9 260.2,2723.3 262.2,2721.6 264.1,2719.9" fill="none" stroke="#4f433b" stroke-width="3.3" stroke-linecap="round" stroke-linejoin="round"/>
<polyline points="276.8,2719.5 278.7,2719.4 280.7,2718.9 282.6,2718.1 284.6,2717.0 286.5,2715.7 288.5,2714.3 290.4,2712.7 292.4,2711.0 294.3,2709.4 296.3,2707.8 298.2,2706.3 300.2,2705.0 302.1,2703.9 304.1,2703.2 306.0,2702.7 308.0,2702.5 309.9,2702.7 311.9,2703.2 313.8,2704.0 315.8,2705.1 317.7,2706.4 319.7,2707.9 321.6,2709.5 323.6,2711.1 325.5,2712.8 327.5,2714.4 329.4,2715.8 331.4,2717.1 333.3,2718.2 335.3,2718.9 337.2,2719.4 339.2,2719.5 341.1,2719.4 343.1,2718.8 345.1,2718.0 347.0,2717.0 349.0,2715.7 350.9,2714.2 352.9,2712.6 354.8,2710.9 356.8,2709.3" fill="none" stroke="#4f433b" stroke-width="3.3" stroke-linecap="round" stroke-linejoin="round"/>
<polyline points="367.0,2735.6 369.0,2735.4 370.9,2735.0 372.9,2734.2 374.8,2733.2 376.8,2732.0 378.7,2730.6 380.7,2729.1 382.6,2727.5 384.6,2725.9 386.5,2724.3 388.5,2722.8 390.4,2721.5 392.4,2720.4 394.3,2719.5 396.3,2718.9 398.2,2718.6 400.2,2718.6 402.1,2718.9 404.1,2719.5 406.0,2720.4 408.0,2721.5 409.9,2722.8 411.9,2724.2 413.8,2725.8 415.8,2727.4 417.7,2729.0 419.7,2730.6 421.7,2732.0 423.6,2733.2 425.6,2734.2 427.5,2734.9 429.5,2735.4 431.4,2735.6 433.4,2735.4 435.3,2735.0 437.3,2734.2 439.2,2733.3 441.2,2732.0 443.1,2730.6 445.1,2729.1 447.0,2727.5" fill="none" stroke="#4f433b" stroke-width="3.3" stroke-linecap="round" stroke-linejoin="round"/>
<polyline points="464.7,2717.3 466.7,2717.2 468.6,2716.8 470.6,2716.1 472.5,2715.2 474.5,2714.1 476.4,2712.8 478.4,2711.4 480.3,2709.9 482.3,2708.4 484.2,2706.9 486.2,2705.4 488.1,2704.1 490.1,2702.9 492.0,2701.9 494.0,2701.1 495.9,2700.6 497.9,2700.4 499.8,2700.4 501.8,2700.7 503.7,2701.3 505.7,2702.1 507.7,2703.1 509.6,2704.3 511.6,2705.7 513.5,2707.2 515.5,2708.7 517.4,2710.2 519.4,2711.7 521.3,2713.1 523.3,2714.3 525.2,2715.4 527.2,2716.3 529.1,2716.9 531.1,2717.3 533.0,2717.3 535.0,2717.2 536.9,2716.7 538.9,2716.0 540.8,2715.0 542.8,2713.9 544.7,2712.6" fill="none" stroke="#4f433b" stroke-width="3.3" stroke-linecap="round" stroke-linejoin="round"/>
<polyline points="232.1,2759.3 234.0,2759.1 236.0,2758.6 237.9,2757.9 239.9,2756.9 241.8,2755.6 243.8,2754.2 245.7,2752.6 247.7,2751.0 249.6,2749.3 251.6,2747.8 253.5,2746.3 255.5,2745.0 257.4,2743.9 259.4,2743.1 261.3,2742.5 263.3,2742.3 265.2,2742.4 267.2,2742.8 269.1,2743.5 271.1,2744.4 273.0,2745.6 275.0,2747.0 276.9,2748.6 278.9,2750.2 280.8,2751.8 282.8,2753.4 284.7,2754.9 286.7,2756.3 288.6,2757.4 290.6,2758.3 292.5,2758.9 294.5,2759.2 296.4,2759.2 298.4,2758.9 300.4,2758.3 302.3,2757.4 304.3,2756.2 306.2,2754.9 308.2,2753.4 310.1,2751.8 312.1,2750.1" fill="none" stroke="#4f433b" stroke-width="3.3" stroke-linecap="round" stroke-linejoin="round"/>
<polyline points="332.0,2770.1 334.0,2770.0 335.9,2769.5 337.9,2768.7 339.8,2767.7 341.8,2766.4 343.7,2764.9 345.7,2763.3 347.6,2761.6 349.6,2760.0 351.5,2758.4 353.5,2756.9 355.4,2755.6 357.4,2754.6 359.3,2753.8 361.3,2753.3 363.2,2753.1 365.2,2753.3 367.1,2753.8 369.1,2754.6 371.0,2755.6 373.0,2756.9 374.9,2758.4 376.9,2760.0 378.8,2761.7 380.8,2763.3 382.7,2764.9 384.7,2766.4 386.7,2767.7 388.6,2768.7 390.6,2769.5 392.5,2770.0 394.5,2770.1 396.4,2770.0 398.4,2769.5 400.3,2768.7 402.3,2767.7 404.2,2766.4 406.2,2764.9 408.1,2763.3 410.1,2761.6 412.0,2760.0" fill="none" stroke="#4f433b" stroke-width="3.3" stroke-linecap="round" stroke-linejoin="round"/>
<polyline points="429.1,2758.8 431.0,2758.7 433.0,2758.3 434.9,2757.6 436.9,2756.7 438.8,2755.5 440.8,2754.2 442.7,2752.7 444.7,2751.2 446.6,2749.7 448.6,2748.1 450.5,2746.7 452.5,2745.3 454.4,2744.2 456.4,2743.2 458.3,2742.5 460.3,2742.0 462.2,2741.8 464.2,2742.0 466.1,2742.4 468.1,2743.0 470.0,2743.9 472.0,2745.0 473.9,2746.4 475.9,2747.8 477.8,2749.3 479.8,2750.9 481.8,2752.4 483.7,2753.9 485.7,2755.2 487.6,2756.4 489.6,2757.4 491.5,2758.1 493.5,2758.6 495.4,2758.8 497.4,2758.8 499.3,2758.4 501.3,2757.8 503.2,2756.9 505.2,2755.8 507.1,2754.5 509.1,2753.1" fill="none" stroke="#4f433b" stroke-width="3.3" stroke-linecap="round" stroke-linejoin="round"/>
<polyline points="525.1,2769.5 527.1,2769.3 529.0,2768.8 531.0,2768.0 533.0,2766.8 534.9,2765.4 536.9,2763.9 538.8,2762.2 540.8,2760.5 542.7,2758.8 544.7,2757.2 546.7,2755.7 548.6,2754.5 550.6,2753.5 552.5,2752.8 554.5,2752.5 556.4,2752.6 558.4,2752.9 560.3,2753.7 562.3,2754.7 564.3,2756.0 566.2,2757.5 568.2,2759.1 570.1,2760.8 572.1,2762.5 574.0,2764.2 576.0,2765.7" fill="none" stroke="#4f433b" stroke-width="3.3" stroke-linecap="round" stroke-linejoin="round"/>
<polyline points="182.8,2804.8 184.8,2804.6 186.7,2804.2 188.7,2803.5 190.6,2802.5 192.6,2801.2 194.5,2799.8 196.5,2798.3 198.4,2796.7 200.4,2795.1 202.3,2793.5 204.3,2792.0 206.2,2790.7 208.2,2789.6 210.1,2788.7 212.1,2788.1 214.0,2787.8 216.0,2787.8 218.0,2788.1 219.9,2788.7 221.9,2789.6 223.8,2790.7 225.8,2792.0 227.7,2793.5 229.7,2795.1 231.6,2796.7 233.6,2798.3 235.5,2799.8 237.5,2801.2 239.4,2802.5 241.4,2803.5 243.3,2804.2 245.3,2804.6 247.2,2804.8 249.2,2804.6 251.1,2804.2 253.1,2803.5 255.0,2802.5 257.0,2801.2 258.9,2799.8 260.9,2798.3 262.8,2796.7" fill="none" stroke="#4f433b" stroke-width="3.3" stroke-linecap="round" stroke-linejoin="round"/>
<polyline points="281.3,2795.8 283.2,2795.7 285.2,2795.2 287.1,2794.4 289.1,2793.4 291.0,2792.1 293.0,2790.6 294.9,2789.1 296.9,2787.4 298.8,2785.8 300.8,2784.2 302.7,2782.7 304.7,2781.4 306.6,2780.4 308.6,2779.5 310.5,2779.0 312.5,2778.8 314.4,2778.9 316.4,2779.4 318.3,2780.1 320.3,2781.1 322.2,2782.3 324.2,2783.8 326.1,2785.3 328.1,2787.0 330.0,2788.6 332.0,2790.2 333.9,2791.7 335.9,2793.0 337.9,2794.1 339.8,2795.0 341.8,2795.5 343.7,2795.8 345.7,2795.7 347.6,2795.3 349.6,2794.7 351.5,2793.7 353.5,2792.5 355.4,2791.1 357.4,2789.5 359.3,2787.9 361.3,2786.3" fill="none" stroke="#4f433b" stroke-width="3.3" stroke-linecap="round" stroke-linejoin="round"/>
<polyline points="376.5,2807.5 378.5,2807.3 380.4,2806.9 382.4,2806.2 384.3,2805.3 386.3,2804.1 388.2,2802.8 390.2,2801.3 392.1,2799.7 394.1,2798.2 396.0,2796.6 398.0,2795.2 399.9,2793.8 401.9,2792.7 403.9,2791.7 405.8,2791.0 407.8,2790.6 409.7,2790.5 411.7,2790.6 413.6,2791.1 415.6,2791.8 417.5,2792.7 419.5,2793.9 421.4,2795.3 423.4,2796.7 425.3,2798.3 427.3,2799.8 429.2,2801.4 431.2,2802.8 433.1,2804.2 435.1,2805.3 437.0,2806.3 439.0,2806.9 440.9,2807.4 442.9,2807.5 444.8,2807.3 446.8,2806.9 448.7,2806.2 450.7,2805.2 452.6,2804.0 454.6,2802.7 456.5,2801.2" fill="none" stroke="#4f433b" stroke-width="3.3" stroke-linecap="round" stroke-linejoin="round"/>
<polyline points="472.8,2793.6 474.7,2793.4 476.7,2792.9 478.6,2792.2 480.6,2791.2 482.5,2789.9 484.5,2788.5 486.4,2787.0 488.4,2785.4 490.3,2783.7 492.3,2782.2 494.2,2780.7 496.2,2779.4 498.2,2778.3 500.1,2777.4 502.1,2776.9 504.0,2776.6 506.0,2776.6 507.9,2777.0 509.9,2777.6 511.8,2778.5 513.8,2779.7 515.7,2781.0 517.7,2782.5 519.6,2784.1 521.6,2785.8 523.5,2787.4 525.5,2788.9 527.4,2790.3 529.4,2791.4 531.3,2792.4 533.3,2793.1 535.2,2793.5 537.2,2793.6 539.1,2793.3 541.1,2792.8 543.0,2792.0 545.0,2790.9 546.9,2789.6 548.9,2788.2 550.8,2786.6 552.8,2785.0" fill="none" stroke="#4f433b" stroke-width="3.3" stroke-linecap="round" stroke-linejoin="round"/>
<polyline points="181.2,2833.5 183.1,2834.9 185.0,2836.4 186.9,2837.9 188.9,2839.5 190.8,2841.0 192.7,2842.5 194.6,2843.8 196.5,2844.9 198.4,2845.8 200.3,2846.4 202.2,2846.8 204.2,2846.9 206.1,2846.7 208.0,2846.2 209.9,2845.4 211.8,2844.4 213.7,2843.2 215.6,2841.8 217.5,2840.3 219.5,2838.8" fill="none" stroke="#4f433b" stroke-width="3.3" stroke-linecap="round" stroke-linejoin="round"/>
<polyline points="234.2,2827.4 236.1,2827.2 238.1,2826.8 240.0,2826.0 242.0,2825.0 243.9,2823.8 245.9,2822.4 247.8,2820.8 249.8,2819.2 251.7,2817.6 253.7,2816.0 255.6,2814.6 257.6,2813.2 259.5,2812.1 261.5,2811.3 263.4,2810.7 265.4,2810.4 267.3,2810.4 269.3,2810.8 271.3,2811.4 273.2,2812.3 275.2,2813.5 277.1,2814.8 279.1,2816.3 281.0,2817.9 283.0,2819.5 284.9,2821.1 286.9,2822.7 288.8,2824.0 290.8,2825.2 292.7,2826.2 294.7,2826.9 296.6,2827.3 298.6,2827.4 300.5,2827.2 302.5,2826.7 304.4,2825.9 306.4,2824.8 308.3,2823.5 310.3,2822.1 312.2,2820.5 314.2,2818.9" fill="none" stroke="#4f433b" stroke-width="3.3" stroke-linecap="round" stroke-linejoin="round"/>
<polyline points="336.0,2845.2 337.9,2845.0 339.9,2844.6 341.8,2843.8 343.8,2842.8 345.7,2841.6 347.7,2840.2 349.6,2838.7 351.6,2837.1 353.5,2835.5 355.5,2833.9 357.4,2832.4 359.4,2831.1 361.3,2830.0 363.3,2829.1 365.2,2828.5 367.2,2828.2 369.1,2828.2 371.1,2828.5 373.0,2829.2 375.0,2830.0 376.9,2831.2 378.9,2832.5 380.8,2834.0 382.8,2835.5 384.7,2837.1 386.7,2838.7 388.6,2840.3 390.6,2841.7 392.5,2842.9 394.5,2843.9 396.5,2844.6 398.4,2845.1 400.4,2845.2 402.3,2845.0 404.3,2844.6 406.2,2843.8 408.2,2842.8 410.1,2841.6 412.1,2840.2 414.0,2838.6 416.0,2837.0" fill="none" stroke="#4f433b" stroke-width="3.3" stroke-linecap="round" stroke-linejoin="round"/>
<polyline points="436.3,2827.9 438.2,2827.7 440.2,2827.3 442.1,2826.5 444.1,2825.5 446.0,2824.3 448.0,2822.9 449.9,2821.3 451.9,2819.7 453.8,2818.1 455.8,2816.5 457.7,2815.1 459.7,2813.8 461.7,2812.6 463.6,2811.8 465.6,2811.2 467.5,2810.9 469.5,2810.9 471.4,2811.3 473.4,2811.9 475.3,2812.8 477.3,2813.9 479.2,2815.3 481.2,2816.8 483.1,2818.3 485.1,2820.0 487.0,2821.6 489.0,2823.1 490.9,2824.5 492.9,2825.7 494.8,2826.7 496.8,2827.4 498.7,2827.8 500.7,2827.9 502.6,2827.7 504.6,2827.2 506.5,2826.4 508.5,2825.4 510.4,2824.1 512.4,2822.7 514.3,2821.1 516.3,2819.5" fill="none" stroke="#4f433b" stroke-width="3.3" stroke-linecap="round" stroke-linejoin="round"/>
<polyline points="537.7,2843.7 539.6,2843.5 541.5,2843.1 543.5,2842.3 545.4,2841.3 547.3,2840.1 549.2,2838.8 551.1,2837.2 553.0,2835.7 554.9,2834.1 556.9,2832.5 558.8,2831.0 560.7,2829.7 562.6,2828.6 564.5,2827.7 566.4,2827.1 568.3,2826.7 570.3,2826.7 572.2,2826.9 574.1,2827.5 576.0,2828.3" fill="none" stroke="#4f433b" stroke-width="3.3" stroke-linecap="round" stroke-linejoin="round"/>
<polyline points="191.5,2876.7 193.5,2876.6 195.4,2876.1 197.4,2875.4 199.3,2874.5 201.3,2873.3 203.2,2872.0 205.2,2870.5 207.1,2869.0 209.1,2867.4 211.0,2865.9 213.0,2864.4 214.9,2863.1 216.9,2861.9 218.8,2861.0 220.8,2860.3 222.7,2859.8 224.7,2859.7 226.6,2859.9 228.6,2860.3 230.5,2861.0 232.5,2862.0 234.4,2863.1 236.4,2864.5 238.3,2865.9 240.3,2867.5 242.2,2869.0 244.2,2870.6 246.1,2872.0 248.1,2873.4 250.1,2874.5 252.0,2875.5 254.0,2876.2 255.9,2876.6 257.9,2876.7 259.8,2876.6 261.8,2876.1 263.7,2875.4 265.7,2874.4 267.6,2873.3 269.6,2871.9 271.5,2870.5" fill="none" stroke="#4f433b" stroke-width="3.3" stroke-linecap="round" stroke-linejoin="round"/>
<polyline points="291.4,2870.8 293.3,2870.6 295.3,2870.2 297.2,2869.5 299.2,2868.5 301.1,2867.3 303.1,2866.0 305.0,2864.5 307.0,2863.0 308.9,2861.4 310.9,2859.8 312.8,2858.4 314.8,2857.0 316.7,2855.9 318.7,2855.0 320.6,2854.3 322.6,2853.9 324.5,2853.8 326.5,2853.9 328.4,2854.4 330.4,2855.1 332.3,2856.1 334.3,2857.3 336.2,2858.7 338.2,2860.2 340.1,2861.7 342.1,2863.3 344.0,2864.8 346.0,2866.3 347.9,2867.6 349.9,2868.7 351.8,2869.6 353.8,2870.3 355.7,2870.7 357.7,2870.7 359.7,2870.5 361.6,2870.0 363.6,2869.3 365.5,2868.3 367.5,2867.1 369.4,2865.7 371.4,2864.2" fill="none" stroke="#4f433b" stroke-width="3.3" stroke-linecap="round" stroke-linejoin="round"/>
<polyline points="391.1,2880.8 393.0,2880.7 395.0,2880.2 396.9,2879.5 398.9,2878.5 400.8,2877.3 402.8,2875.9 404.7,2874.3 406.7,2872.7 408.6,2871.1 410.6,2869.6 412.5,2868.1 414.5,2866.8 416.4,2865.7 418.4,2864.8 420.3,2864.2 422.3,2863.9 424.2,2863.8 426.2,2864.1 428.1,2864.7 430.1,2865.6 432.0,2866.7 434.0,2868.0 435.9,2869.5 437.9,2871.0 439.8,2872.7 441.8,2874.3 443.8,2875.8 445.7,2877.2 447.7,2878.4 449.6,2879.4 451.6,2880.2 453.5,2880.6 455.5,2880.8 457.4,2880.7 459.4,2880.2 461.3,2879.5 463.3,2878.5 465.2,2877.3 467.2,2875.9 469.1,2874.4 471.1,2872.8" fill="none" stroke="#4f433b" stroke-width="3.3" stroke-linecap="round" stroke-linejoin="round"/>
<polyline points="486.2,2864.1 488.1,2864.0 490.1,2863.5 492.0,2862.9 494.0,2861.9 495.9,2860.8 497.9,2859.5 499.8,2858.0 501.8,2856.5 503.7,2855.0 505.7,2853.4 507.6,2852.0 509.6,2850.6 511.5,2849.5 513.5,2848.5 515.5,2847.8 517.4,2847.3 519.4,2847.1 521.3,2847.2 523.3,2847.6 525.2,2848.2 527.2,2849.1 529.1,2850.2 531.1,2851.5 533.0,2853.0 535.0,2854.5 536.9,2856.0 538.9,2857.6 540.8,2859.0 542.8,2860.4 544.7,2861.6 546.7,2862.6 548.6,2863.4 550.6,2863.9 552.5,2864.1 554.5,2864.0 556.4,2863.7 558.4,2863.1 560.3,2862.3 562.3,2861.2 564.2,2859.9 566.2,2858.5" fill="none" stroke="#4f433b" stroke-width="3.3" stroke-linecap="round" stroke-linejoin="round"/>
<circle cx="309.2" cy="3051.7" r="13.3" fill="#f0a9b6" stroke="#2c3e48" stroke-width="1.5"/>
<circle cx="331.6" cy="3051.9" r="13.2" fill="#f0a9b6" stroke="#2c3e48" stroke-width="1.5"/>
<circle cx="354.5" cy="3049.8" r="13.3" fill="#f0a9b6" stroke="#2c3e48" stroke-width="1.5"/>
<circle cx="373.9" cy="3052.8" r="13.7" fill="#f0a9b6" stroke="#2c3e48" stroke-width="1.5"/>
<circle cx="396.8" cy="3050.4" r="13.2" fill="#f0a9b6" stroke="#2c3e48" stroke-width="1.5"/>
<circle cx="421.6" cy="3051.4" r="13.3" fill="#f0a9b6" stroke="#2c3e48" stroke-width="1.5"/>
<circle cx="442.8" cy="3051.4" r="13.9" fill="#f0a9b6" stroke="#2c3e48" stroke-width="1.5"/>
<circle cx="329.0" cy="3031.3" r="12.7" fill="#f0a9b6" stroke="#2c3e48" stroke-width="1.5"/>
<circle cx="350.8" cy="3034.2" r="13.6" fill="#f0a9b6" stroke="#2c3e48" stroke-width="1.5"/>
<circle cx="372.2" cy="3033.7" r="13.9" fill="#f0a9b6" stroke="#2c3e48" stroke-width="1.5"/>
<circle cx="394.7" cy="3030.9" r="13.2" fill="#f0a9b6" stroke="#2c3e48" stroke-width="1.5"/>
<circle cx="416.9" cy="3033.1" r="13.1" fill="#f0a9b6" stroke="#2c3e48" stroke-width="1.5"/>
<circle cx="437.0" cy="3030.8" r="14.0" fill="#f0a9b6" stroke="#2c3e48" stroke-width="1.5"/>
<circle cx="326.1" cy="3013.8" r="13.1" fill="#f0a9b6" stroke="#2c3e48" stroke-width="1.5"/>
<circle cx="347.4" cy="3015.4" r="13.0" fill="#f0a9b6" stroke="#2c3e48" stroke-width="1.5"/>
<circle cx="369.3" cy="3015.6" r="13.4" fill="#f0a9b6" stroke="#2c3e48" stroke-width="1.5"/>
<circle cx="389.9" cy="3015.1" r="13.8" fill="#f0a9b6" stroke="#2c3e48" stroke-width="1.5"/>
<circle cx="411.9" cy="3015.6" r="12.9" fill="#f0a9b6" stroke="#2c3e48" stroke-width="1.5"/>
<circle cx="435.5" cy="3012.3" r="13.2" fill="#f0a9b6" stroke="#2c3e48" stroke-width="1.5"/>
<circle cx="341.4" cy="2993.9" r="13.2" fill="#f0a9b6" stroke="#2c3e48" stroke-width="1.5"/>
<circle cx="366.5" cy="2994.8" r="14.0" fill="#f0a9b6" stroke="#2c3e48" stroke-width="1.5"/>
<circle cx="387.1" cy="2994.3" r="13.4" fill="#f0a9b6" stroke="#2c3e48" stroke-width="1.5"/>
<circle cx="408.5" cy="2994.6" r="14.1" fill="#f0a9b6" stroke="#2c3e48" stroke-width="1.5"/>
<circle cx="429.7" cy="2995.4" r="13.0" fill="#f0a9b6" stroke="#2c3e48" stroke-width="1.5"/>
<circle cx="338.8" cy="2977.9" r="13.2" fill="#f0a9b6" stroke="#2c3e48" stroke-width="1.5"/>
<circle cx="361.1" cy="2978.0" r="13.7" fill="#f0a9b6" stroke="#2c3e48" stroke-width="1.5"/>
<circle cx="383.7" cy="2978.2" r="14.1" fill="#f0a9b6" stroke="#2c3e48" stroke-width="1.5"/>
<circle cx="404.8" cy="2974.9" r="13.4" fill="#f0a9b6" stroke="#2c3e48" stroke-width="1.5"/>
<circle cx="427.4" cy="2978.1" r="13.1" fill="#f0a9b6" stroke="#2c3e48" stroke-width="1.5"/>
<circle cx="356.7" cy="2957.7" r="12.9" fill="#f0a9b6" stroke="#2c3e48" stroke-width="1.5"/>
<circle cx="377.8" cy="2956.3" r="13.5" fill="#f0a9b6" stroke="#2c3e48" stroke-width="1.5"/>
<circle cx="400.1" cy="2957.8" r="13.0" fill="#f0a9b6" stroke="#2c3e48" stroke-width="1.5"/>
<circle cx="419.8" cy="2955.7" r="14.0" fill="#f0a9b6" stroke="#2c3e48" stroke-width="1.5"/>
<circle cx="351.2" cy="2940.6" r="14.0" fill="#f0a9b6" stroke="#2c3e48" stroke-width="1.5"/>
<circle cx="370.0" cy="2939.9" r="13.0" fill="#f0a9b6" stroke="#2c3e48" stroke-width="1.5"/>
<circle cx="393.1" cy="2937.3" r="13.1" fill="#f0a9b6" stroke="#2c3e48" stroke-width="1.5"/>
<circle cx="414.5" cy="2939.7" r="14.0" fill="#f0a9b6" stroke="#2c3e48" stroke-width="1.5"/>
<circle cx="367.8" cy="2918.0" r="13.7" fill="#f0a9b6" stroke="#2c3e48" stroke-width="1.5"/>
<circle cx="388.6" cy="2918.0" r="14.0" fill="#f0a9b6" stroke="#2c3e48" stroke-width="1.5"/>
<circle cx="410.9" cy="2919.2" r="13.3" fill="#f0a9b6" stroke="#2c3e48" stroke-width="1.5"/>
<circle cx="359.6" cy="2903.0" r="12.9" fill="#f0a9b6" stroke="#2c3e48" stroke-width="1.5"/>
<circle cx="380.0" cy="2903.0" r="13.2" fill="#f0a9b6" stroke="#2c3e48" stroke-width="1.5"/>
<circle cx="401.1" cy="2899.3" r="14.0" fill="#f0a9b6" stroke="#2c3e48" stroke-width="1.5"/>
<circle cx="371.4" cy="2880.4" r="13.1" fill="#f0a9b6" stroke="#2c3e48" stroke-width="1.5"/>
<circle cx="391.7" cy="2881.9" r="13.3" fill="#f0a9b6" stroke="#2c3e48" stroke-width="1.5"/>
<circle cx="415.2" cy="2880.9" r="13.4" fill="#f0a9b6" stroke="#2c3e48" stroke-width="1.5"/>
<circle cx="360.3" cy="2864.9" r="13.4" fill="#f0a9b6" stroke="#2c3e48" stroke-width="1.5"/>
<circle cx="383.2" cy="2865.3" r="13.4" fill="#f0a9b6" stroke="#2c3e48" stroke-width="1.5"/>
<circle cx="407.4" cy="2862.9" r="14.2" fill="#f0a9b6" stroke="#2c3e48" stroke-width="1.5"/>
<circle cx="374.9" cy="2844.7" r="12.9" fill="#f0a9b6" stroke="#2c3e48" stroke-width="1.5"/>
<circle cx="397.5" cy="2845.0" r="12.7" fill="#f0a9b6" stroke="#2c3e48" stroke-width="1.5"/>
<circle cx="366.4" cy="2826.3" r="14.2" fill="#f0a9b6" stroke="#2c3e48" stroke-width="1.5"/>
<circle cx="389.8" cy="2825.8" r="14.1" fill="#f0a9b6" stroke="#2c3e48" stroke-width="1.5"/>
<circle cx="409.6" cy="2826.7" r="14.3" fill="#f0a9b6" stroke="#2c3e48" stroke-width="1.5"/>
<circle cx="377.3" cy="2806.2" r="13.4" fill="#f0a9b6" stroke="#2c3e48" stroke-width="1.5"/>
<circle cx="402.1" cy="2807.1" r="14.2" fill="#f0a9b6" stroke="#2c3e48" stroke-width="1.5"/>
<circle cx="367.3" cy="2786.2" r="14.2" fill="#f0a9b6" stroke="#2c3e48" stroke-width="1.5"/>
<circle cx="388.6" cy="2788.5" r="13.1" fill="#f0a9b6" stroke="#2c3e48" stroke-width="1.5"/>
<circle cx="375.7" cy="2769.8" r="13.9" fill="#f0a9b6" stroke="#2c3e48" stroke-width="1.5"/>
<circle cx="400.1" cy="2767.6" r="14.0" fill="#f0a9b6" stroke="#2c3e48" stroke-width="1.5"/>
<circle cx="366.9" cy="2750.4" r="13.8" fill="#f0a9b6" stroke="#2c3e48" stroke-width="1.5"/>
<circle cx="389.0" cy="2750.0" r="13.5" fill="#f0a9b6" stroke="#2c3e48" stroke-width="1.5"/>
<circle cx="377.8" cy="2732.7" r="13.2" fill="#f0a9b6" stroke="#2c3e48" stroke-width="1.5"/>
<circle cx="363.8" cy="2711.2" r="13.2" fill="#f0a9b6" stroke="#2c3e48" stroke-width="1.5"/>
<circle cx="388.3" cy="2714.8" r="13.1" fill="#f0a9b6" stroke="#2c3e48" stroke-width="1.5"/>
<circle cx="377.1" cy="2694.0" r="12.8" fill="#f0a9b6" stroke="#2c3e48" stroke-width="1.5"/>
<circle cx="372.9" cy="2674.6" r="13.6" fill="#f0a9b6" stroke="#2c3e48" stroke-width="1.5"/>
<circle cx="383.6" cy="2643.5" r="13.2" fill="#f0a9b6" stroke="#2c3e48" stroke-width="1.5"/>
<line x1="248.7" y1="2654.8" x2="248.7" y2="2696.8" stroke="#1e1a18" stroke-width="3.2"/>
<path d="M243.2,2691.8 L254.2,2691.8 L248.7,2703.8 Z" fill="#1e1a18"/>
<circle cx="248.7" cy="2641.8" r="13" fill="#5c6bb6" stroke="#1f2440" stroke-width="2"/>
<line x1="291.7" y1="2712.3" x2="291.7" y2="2754.3" stroke="#1e1a18" stroke-width="3.2"/>
<path d="M286.2,2749.3 L297.2,2749.3 L291.7,2761.3 Z" fill="#1e1a18"/>
<circle cx="291.7" cy="2699.3" r="13" fill="#5c6bb6" stroke="#1f2440" stroke-width="2"/>
<line x1="217.5" y1="2744" x2="217.5" y2="2786" stroke="#1e1a18" stroke-width="3.2"/>
<path d="M212.0,2781 L223.0,2781 L217.5,2793 Z" fill="#1e1a18"/>
<circle cx="217.5" cy="2731" r="13" fill="#5c6bb6" stroke="#1f2440" stroke-width="2"/>
<line x1="330" y1="2755.3" x2="330" y2="2797.3" stroke="#1e1a18" stroke-width="3.2"/>
<path d="M324.5,2792.3 L335.5,2792.3 L330,2804.3 Z" fill="#1e1a18"/>
<circle cx="330" cy="2742.3" r="13" fill="#5c6bb6" stroke="#1f2440" stroke-width="2"/>
<line x1="456.5" y1="2716" x2="456.5" y2="2758" stroke="#1e1a18" stroke-width="3.2"/>
<path d="M451.0,2753 L462.0,2753 L456.5,2765 Z" fill="#1e1a18"/>
<circle cx="456.5" cy="2703" r="13" fill="#5c6bb6" stroke="#1f2440" stroke-width="2"/>
<line x1="560.6" y1="2705.7" x2="560.6" y2="2747.7" stroke="#1e1a18" stroke-width="3.2"/>
<path d="M555.1,2742.7 L566.1,2742.7 L560.6,2754.7 Z" fill="#1e1a18"/>
<circle cx="560.6" cy="2692.7" r="13" fill="#5c6bb6" stroke="#1f2440" stroke-width="2"/>
<line x1="523.3" y1="2752" x2="523.3" y2="2794" stroke="#1e1a18" stroke-width="3.2"/>
<path d="M517.8,2789 L528.8,2789 L523.3,2801 Z" fill="#1e1a18"/>
<circle cx="523.3" cy="2739" r="13" fill="#5c6bb6" stroke="#1f2440" stroke-width="2"/>
<line x1="522.4" y1="2858" x2="522.4" y2="2900" stroke="#1e1a18" stroke-width="3.2"/>
<path d="M516.9,2895 L527.9,2895 L522.4,2907 Z" fill="#1e1a18"/>
<circle cx="522.4" cy="2845" r="13" fill="#5c6bb6" stroke="#1f2440" stroke-width="2"/>
<rect x="178.2" y="2864" width="166" height="38" fill="#fff"/>
<text x="182.0" y="2896.5" font-family='"Liberation Serif","Times New Roman",serif' font-size="48.1" font-weight="bold" textLength="167.2" lengthAdjust="spacingAndGlyphs" fill="#000" >MXene</text>
<text x="192.0" y="2605.0" font-family='"Liberation Serif","Times New Roman",serif' font-size="57.9" font-weight="bold" textLength="72.1" lengthAdjust="spacingAndGlyphs" fill="#000" >Ag</text>
<text x="350.4" y="2605.0" font-family='"Liberation Serif","Times New Roman",serif' font-size="72.6" font-weight="bold" textLength="52.2" lengthAdjust="spacingAndGlyphs" fill="#000" >+</text>
<text x="184.4" y="2990.0" font-family='"Liberation Serif","Times New Roman",serif' font-size="46.9" font-weight="bold" textLength="102.8" lengthAdjust="spacingAndGlyphs" fill="#000" >SiO</text>
<text x="285.5" y="3000.0" font-family='"Liberation Serif","Times New Roman",serif' font-size="37.9" font-weight="bold" textLength="17.6" lengthAdjust="spacingAndGlyphs" fill="#000" >2</text>
<text x="187.2" y="3120.0" font-family='"Liberation Serif","Times New Roman",serif' font-size="46.6" font-weight="bold" textLength="51.4" lengthAdjust="spacingAndGlyphs" fill="#000" >Si</text>
<rect x="359.6" y="3104.5" width="20" height="5" fill="#111"/>
<text x="192.0" y="2517.8" font-family='"Liberation Serif","Times New Roman",serif' font-size="55.8" font-weight="bold" textLength="299.3" lengthAdjust="spacingAndGlyphs" fill="#000" >Voltage &gt; V</text>
<text x="489.8" y="2531.0" font-family='"Liberation Serif","Times New Roman",serif' font-size="39.4" font-weight="bold" textLength="55.7" lengthAdjust="spacingAndGlyphs" fill="#000" >Set</text>
<rect x="710.8" y="2549.5" width="406.70000000000005" height="85.5" fill="#b8c3e0"/>
<rect x="710.8" y="2635" width="406.70000000000005" height="289" fill="#ffffff"/>
<rect x="710.8" y="2924" width="406.70000000000005" height="151" fill="#8ea6b8"/>
<rect x="710.8" y="3075" width="406.70000000000005" height="87.59999999999991" fill="#5e6d7c"/>
<rect x="710.8" y="2549.5" width="406.70000000000005" height="613.0999999999999" fill="none" stroke="#2b2622" stroke-width="3.2"/>
<line x1="710.8" y1="2635" x2="1117.5" y2="2635" stroke="#2b2622" stroke-width="3.2"/>
<line x1="710.8" y1="2924" x2="1117.5" y2="2924" stroke="#2b2622" stroke-width="3.2"/>
<line x1="710.8" y1="3075" x2="1117.5" y2="3075" stroke="#2b2622" stroke-width="3.2"/>
<polyline points="726.1,2669.1 728.0,2668.9 730.0,2668.4 732.0,2667.6 733.9,2666.4 735.9,2665.1 737.8,2663.5 739.8,2661.9 741.7,2660.1 743.7,2658.4 745.6,2656.8 747.6,2655.4 749.5,2654.1 751.5,2653.1 753.4,2652.5 755.4,2652.1 757.3,2652.1 759.3,2652.5 761.2,2653.2 763.2,2654.1 765.1,2655.4 767.1,2656.9 769.0,2658.5 771.0,2660.2 772.9,2661.9 774.9,2663.6 776.8,2665.1 778.8,2666.5 780.7,2667.6 782.7,2668.4 784.6,2668.9 786.6,2669.1 788.5,2668.9 790.5,2668.4 792.4,2667.5 794.4,2666.4 796.3,2665.0 798.3,2663.5 800.2,2661.8 802.2,2660.1 804.1,2658.4 806.1,2656.8" fill="none" stroke="#4f433b" stroke-width="3.3" stroke-linecap="round" stroke-linejoin="round"/>
<polyline points="817.1,2655.2 819.1,2655.0 821.0,2654.6 823.0,2653.9 824.9,2652.9 826.9,2651.8 828.8,2650.4 830.8,2648.9 832.7,2647.4 834.7,2645.8 836.6,2644.3 838.6,2642.8 840.5,2641.5 842.5,2640.3 844.4,2639.4 846.4,2638.7 848.3,2638.3 850.3,2638.2 852.2,2638.4 854.2,2638.8 856.1,2639.6 858.1,2640.6 860.0,2641.8 862.0,2643.1 863.9,2644.6 865.9,2646.2 867.8,2647.7 869.8,2649.3 871.7,2650.7 873.7,2652.1 875.7,2653.2 877.6,2654.1 879.6,2654.7 881.5,2655.1 883.5,2655.2 885.4,2655.0 887.4,2654.5 889.3,2653.7 891.3,2652.7 893.2,2651.5 895.2,2650.1 897.1,2648.6" fill="none" stroke="#4f433b" stroke-width="3.3" stroke-linecap="round" stroke-linejoin="round"/>
<polyline points="915.2,2664.0 917.1,2663.8 919.1,2663.4 921.0,2662.6 923.0,2661.6 924.9,2660.4 926.9,2659.1 928.8,2657.5 930.8,2656.0 932.7,2654.4 934.7,2652.8 936.6,2651.3 938.6,2650.0 940.5,2648.9 942.5,2648.0 944.4,2647.4 946.4,2647.0 948.3,2647.0 950.3,2647.3 952.2,2647.8 954.2,2648.6 956.1,2649.7 958.1,2651.0 960.0,2652.4 962.0,2654.0 963.9,2655.6 965.9,2657.2 967.8,2658.7 969.8,2660.1 971.7,2661.4 973.7,2662.4 975.6,2663.2 977.6,2663.7 979.5,2664.0 981.5,2663.9 983.4,2663.5 985.4,2662.8 987.3,2661.9 989.3,2660.7 991.2,2659.4 993.2,2657.9 995.2,2656.3" fill="none" stroke="#4f433b" stroke-width="3.3" stroke-linecap="round" stroke-linejoin="round"/>
<polyline points="771.0,2693.3 773.0,2693.1 774.9,2692.6 776.9,2691.9 778.8,2690.9 780.8,2689.7 782.7,2688.3 784.7,2686.8 786.6,2685.2 788.6,2683.5 790.5,2682.0 792.5,2680.5 794.4,2679.2 796.4,2678.1 798.4,2677.2 800.3,2676.6 802.3,2676.3 804.2,2676.3 806.2,2676.6 808.1,2677.2 810.1,2678.1 812.0,2679.2 814.0,2680.5 815.9,2682.0 817.9,2683.6 819.8,2685.2 821.8,2686.8 823.7,2688.3 825.7,2689.7 827.6,2690.9 829.6,2691.9 831.5,2692.7 833.5,2693.1 835.4,2693.3 837.4,2693.1 839.3,2692.6 841.3,2691.9 843.2,2690.9 845.2,2689.7 847.1,2688.3 849.1,2686.7 851.0,2685.1" fill="none" stroke="#4f433b" stroke-width="3.3" stroke-linecap="round" stroke-linejoin="round"/>
<polyline points="866.4,2700.8 868.3,2700.6 870.3,2700.1 872.2,2699.3 874.2,2698.1 876.1,2696.8 878.1,2695.2 880.0,2693.6 882.0,2691.8 883.9,2690.1 885.9,2688.5 887.8,2687.1 889.8,2685.8 891.7,2684.8 893.7,2684.2 895.6,2683.8 897.6,2683.9 899.5,2684.2 901.5,2684.9 903.4,2685.9 905.4,2687.2 907.3,2688.7 909.3,2690.3 911.3,2692.0 913.2,2693.7 915.2,2695.4 917.1,2696.9 919.1,2698.3 921.0,2699.4 923.0,2700.2 924.9,2700.7 926.9,2700.8 928.8,2700.6 930.8,2700.0 932.7,2699.2 934.7,2698.0 936.6,2696.6 938.6,2695.1 940.5,2693.4 942.5,2691.7 944.4,2690.0 946.4,2688.4" fill="none" stroke="#4f433b" stroke-width="3.3" stroke-linecap="round" stroke-linejoin="round"/>
<polyline points="956.7,2689.4 958.7,2689.2 960.6,2688.7 962.6,2688.0 964.5,2686.9 966.5,2685.6 968.4,2684.2 970.4,2682.6 972.3,2680.9 974.3,2679.2 976.2,2677.7 978.2,2676.2 980.1,2674.9 982.1,2673.8 984.0,2673.0 986.0,2672.6 987.9,2672.4 989.9,2672.5 991.8,2673.0 993.8,2673.8 995.7,2674.8 997.7,2676.1 999.6,2677.6 1001.6,2679.2 1003.5,2680.8 1005.5,2682.5 1007.4,2684.1 1009.4,2685.5 1011.3,2686.8 1013.3,2687.9 1015.2,2688.7 1017.2,2689.2 1019.1,2689.4 1021.1,2689.2 1023.0,2688.8 1025.0,2688.0 1026.9,2687.0 1028.9,2685.7 1030.8,2684.2 1032.8,2682.7 1034.8,2681.0 1036.7,2679.3" fill="none" stroke="#4f433b" stroke-width="3.3" stroke-linecap="round" stroke-linejoin="round"/>
<polyline points="1051.3,2705.8 1053.2,2705.6 1055.2,2705.2 1057.2,2704.4 1059.2,2703.4 1061.1,2702.1 1063.1,2700.7 1065.1,2699.1 1067.1,2697.5 1069.0,2695.9 1071.0,2694.3 1073.0,2692.8 1075.0,2691.5 1076.9,2690.4 1078.9,2689.6 1080.9,2689.0 1082.9,2688.8 1084.8,2688.9 1086.8,2689.3 1088.8,2690.0 1090.8,2690.9 1092.7,2692.1 1094.7,2693.5 1096.7,2695.1 1098.7,2696.7 1100.6,2698.3 1102.6,2699.9 1104.6,2701.4 1106.6,2702.8 1108.5,2703.9 1110.5,2704.8 1112.5,2705.4" fill="none" stroke="#4f433b" stroke-width="3.3" stroke-linecap="round" stroke-linejoin="round"/>
<polyline points="715.8,2736.8 717.8,2735.9 719.8,2734.7 721.8,2733.3 723.7,2731.7 725.7,2730.0 727.7,2728.2 729.7,2726.5 731.7,2725.0 733.7,2723.6 735.6,2722.4 737.6,2721.5 739.6,2720.9 741.6,2720.7 743.6,2720.8 745.6,2721.2 747.5,2722.0 749.5,2723.1 751.5,2724.4 753.5,2726.0 755.5,2727.6 757.5,2729.4 759.4,2731.1 761.4,2732.7 763.4,2734.2 765.4,2735.5 767.4,2736.5 769.4,2737.2 771.3,2737.6 773.3,2737.6 775.3,2737.3 777.3,2736.6 779.3,2735.7 781.3,2734.4 783.2,2733.0 785.2,2731.3 787.2,2729.6 789.2,2727.9 791.2,2726.2" fill="none" stroke="#4f433b" stroke-width="3.3" stroke-linecap="round" stroke-linejoin="round"/>
<polyline points="807.3,2730.0 809.3,2729.9 811.2,2729.4 813.2,2728.7 815.1,2727.8 817.1,2726.6 819.0,2725.2 821.0,2723.7 822.9,2722.1 824.9,2720.5 826.8,2719.0 828.8,2717.5 830.7,2716.2 832.7,2715.1 834.6,2714.1 836.6,2713.5 838.5,2713.1 840.5,2713.0 842.4,2713.3 844.4,2713.8 846.3,2714.6 848.3,2715.6 850.2,2716.8 852.2,2718.2 854.1,2719.7 856.1,2721.3 858.0,2722.9 860.0,2724.4 861.9,2725.9 863.9,2727.2 865.8,2728.3 867.8,2729.1 869.7,2729.7 871.7,2730.0 873.6,2730.0 875.6,2729.7 877.5,2729.1 879.5,2728.3 881.5,2727.2 883.4,2725.9 885.4,2724.5 887.3,2723.0" fill="none" stroke="#4f433b" stroke-width="3.3" stroke-linecap="round" stroke-linejoin="round"/>
<polyline points="899.5,2742.2 901.4,2742.1 903.4,2741.6 905.3,2740.9 907.3,2740.0 909.2,2738.8 911.2,2737.5 913.1,2736.0 915.1,2734.5 917.0,2732.9 919.0,2731.4 920.9,2729.9 922.9,2728.6 924.9,2727.4 926.8,2726.5 928.8,2725.8 930.7,2725.3 932.7,2725.2 934.6,2725.3 936.6,2725.8 938.5,2726.5 940.5,2727.4 942.4,2728.6 944.4,2729.9 946.3,2731.4 948.3,2732.9 950.2,2734.5 952.2,2736.0 954.1,2737.5 956.1,2738.8 958.0,2740.0 960.0,2740.9 961.9,2741.6 963.9,2742.0 965.8,2742.2 967.8,2742.1 969.7,2741.6 971.7,2740.9 973.6,2740.0 975.6,2738.8 977.5,2737.5 979.5,2736.1" fill="none" stroke="#4f433b" stroke-width="3.3" stroke-linecap="round" stroke-linejoin="round"/>
<polyline points="998.3,2729.3 1000.3,2729.2 1002.2,2728.7 1004.2,2728.0 1006.1,2727.1 1008.1,2725.9 1010.0,2724.6 1012.0,2723.1 1013.9,2721.5 1015.9,2720.0 1017.8,2718.4 1019.8,2717.0 1021.7,2715.6 1023.7,2714.5 1025.6,2713.5 1027.6,2712.8 1029.5,2712.4 1031.5,2712.3 1033.4,2712.5 1035.4,2712.9 1037.3,2713.6 1039.3,2714.6 1041.2,2715.8 1043.2,2717.1 1045.1,2718.6 1047.1,2720.2 1049.0,2721.7 1051.0,2723.3 1052.9,2724.7 1054.9,2726.1 1056.8,2727.2 1058.8,2728.1 1060.7,2728.8 1062.7,2729.2 1064.6,2729.3 1066.6,2729.1 1068.5,2728.6 1070.5,2727.9 1072.4,2726.9 1074.4,2725.7 1076.3,2724.4 1078.3,2722.9" fill="none" stroke="#4f433b" stroke-width="3.3" stroke-linecap="round" stroke-linejoin="round"/>
<polyline points="715.8,2763.7 717.7,2764.7 719.7,2765.9 721.6,2767.4 723.6,2769.0 725.5,2770.6 727.4,2772.3 729.4,2774.0 731.3,2775.5 733.3,2776.8 735.2,2778.0 737.1,2778.8 739.1,2779.4 741.0,2779.6 743.0,2779.5 744.9,2779.0 746.9,2778.3 748.8,2777.3 750.7,2776.0 752.7,2774.5 754.6,2772.9 756.6,2771.2 758.5,2769.5" fill="none" stroke="#4f433b" stroke-width="3.3" stroke-linecap="round" stroke-linejoin="round"/>
<polyline points="777.5,2764.6 779.5,2764.5 781.4,2764.0 783.4,2763.2 785.3,2762.2 787.3,2761.0 789.3,2759.6 791.2,2758.0 793.2,2756.4 795.1,2754.8 797.1,2753.2 799.0,2751.7 801.0,2750.4 802.9,2749.3 804.9,2748.5 806.8,2747.9 808.8,2747.6 810.7,2747.7 812.7,2748.1 814.6,2748.7 816.6,2749.7 818.5,2750.8 820.5,2752.2 822.4,2753.7 824.4,2755.3 826.3,2757.0 828.3,2758.6 830.2,2760.1 832.2,2761.5 834.1,2762.6 836.1,2763.5 838.0,2764.2 840.0,2764.6 841.9,2764.6 843.9,2764.3 845.8,2763.8 847.8,2762.9 849.7,2761.8 851.7,2760.5 853.6,2759.0 855.6,2757.4 857.5,2755.8" fill="none" stroke="#4f433b" stroke-width="3.3" stroke-linecap="round" stroke-linejoin="round"/>
<polyline points="873.9,2775.8 875.9,2775.7 877.8,2775.3 879.8,2774.6 881.7,2773.7 883.7,2772.5 885.6,2771.2 887.6,2769.8 889.5,2768.3 891.5,2766.8 893.4,2765.2 895.4,2763.8 897.3,2762.4 899.3,2761.3 901.2,2760.3 903.2,2759.5 905.1,2759.0 907.1,2758.8 909.0,2758.9 911.0,2759.2 912.9,2759.8 914.9,2760.7 916.8,2761.8 918.8,2763.0 920.7,2764.4 922.7,2765.9 924.6,2767.5 926.6,2769.0 928.5,2770.5 930.5,2771.9 932.4,2773.1 934.4,2774.1 936.3,2774.9 938.3,2775.5 940.2,2775.8 942.2,2775.8 944.2,2775.5 946.1,2775.0 948.1,2774.2 950.0,2773.2 952.0,2772.0 953.9,2770.6" fill="none" stroke="#4f433b" stroke-width="3.3" stroke-linecap="round" stroke-linejoin="round"/>
<polyline points="969.9,2765.6 971.9,2765.4 973.8,2764.9 975.8,2764.1 977.7,2763.1 979.7,2761.8 981.6,2760.4 983.6,2758.8 985.5,2757.1 987.5,2755.5 989.4,2753.9 991.4,2752.4 993.3,2751.1 995.3,2750.1 997.2,2749.3 999.2,2748.7 1001.1,2748.6 1003.1,2748.7 1005.0,2749.1 1007.0,2749.9 1008.9,2750.9 1010.9,2752.2 1012.8,2753.6 1014.8,2755.2 1016.7,2756.8 1018.7,2758.5 1020.6,2760.1 1022.6,2761.5 1024.6,2762.9 1026.5,2763.9 1028.5,2764.8 1030.4,2765.3 1032.4,2765.5 1034.3,2765.5 1036.3,2765.0 1038.2,2764.3 1040.2,2763.3 1042.1,2762.1 1044.1,2760.7 1046.0,2759.1 1048.0,2757.5 1049.9,2755.8" fill="none" stroke="#4f433b" stroke-width="3.3" stroke-linecap="round" stroke-linejoin="round"/>
<polyline points="1070.5,2779.1 1072.5,2778.9 1074.5,2778.4 1076.5,2777.7 1078.5,2776.6 1080.5,2775.3 1082.5,2773.8 1084.5,2772.2 1086.5,2770.5 1088.5,2768.9 1090.5,2767.3 1092.5,2765.8 1094.5,2764.5 1096.5,2763.5 1098.5,2762.7 1100.5,2762.2 1102.5,2762.1 1104.5,2762.3 1106.5,2762.8 1108.5,2763.6 1110.5,2764.7 1112.5,2766.0" fill="none" stroke="#4f433b" stroke-width="3.3" stroke-linecap="round" stroke-linejoin="round"/>
<polyline points="722.4,2814.9 724.3,2814.7 726.3,2814.3 728.2,2813.5 730.2,2812.4 732.1,2811.1 734.1,2809.6 736.0,2808.0 738.0,2806.3 739.9,2804.6 741.9,2803.0 743.8,2801.5 745.8,2800.3 747.7,2799.2 749.7,2798.5 751.6,2798.0 753.6,2797.9 755.6,2798.1 757.5,2798.7 759.5,2799.5 761.4,2800.7 763.4,2802.0 765.3,2803.5 767.3,2805.2 769.2,2806.8 771.2,2808.5 773.1,2810.1 775.1,2811.5 777.0,2812.8 779.0,2813.8 780.9,2814.5 782.9,2814.8 784.8,2814.9 786.8,2814.6 788.7,2814.0 790.7,2813.1 792.6,2812.0 794.6,2810.6 796.5,2809.0 798.5,2807.4 800.4,2805.7 802.4,2804.0" fill="none" stroke="#4f433b" stroke-width="3.3" stroke-linecap="round" stroke-linejoin="round"/>
<polyline points="816.3,2803.6 818.2,2803.5 820.2,2802.9 822.1,2802.1 824.1,2801.0 826.0,2799.7 828.0,2798.2 829.9,2796.6 831.9,2794.9 833.8,2793.2 835.8,2791.6 837.7,2790.1 839.7,2788.9 841.6,2787.8 843.6,2787.1 845.5,2786.7 847.5,2786.6 849.4,2786.9 851.4,2787.5 853.3,2788.4 855.3,2789.6 857.3,2790.9 859.2,2792.5 861.2,2794.1 863.1,2795.8 865.1,2797.5 867.0,2799.1 869.0,2800.5 870.9,2801.7 872.9,2802.6 874.8,2803.3 876.8,2803.6 878.7,2803.6 880.7,2803.2 882.6,2802.5 884.6,2801.5 886.5,2800.3 888.5,2798.9 890.4,2797.3 892.4,2795.6 894.3,2793.9 896.3,2792.3" fill="none" stroke="#4f433b" stroke-width="3.3" stroke-linecap="round" stroke-linejoin="round"/>
<polyline points="917.2,2813.2 919.1,2813.0 921.1,2812.6 923.0,2811.9 925.0,2811.0 926.9,2809.9 928.9,2808.6 930.8,2807.1 932.8,2805.6 934.7,2804.1 936.7,2802.6 938.6,2801.1 940.6,2799.8 942.5,2798.6 944.5,2797.6 946.4,2796.9 948.4,2796.4 950.3,2796.2 952.3,2796.2 954.2,2796.6 956.2,2797.2 958.1,2798.1 960.1,2799.2 962.0,2800.4 964.0,2801.8 966.0,2803.3 967.9,2804.9 969.9,2806.4 971.8,2807.9 973.8,2809.3 975.7,2810.5 977.7,2811.5 979.6,2812.3 981.6,2812.9 983.5,2813.1 985.5,2813.1 987.4,2812.8 989.4,2812.3 991.3,2811.5 993.3,2810.5 995.2,2809.2 997.2,2807.9" fill="none" stroke="#4f433b" stroke-width="3.3" stroke-linecap="round" stroke-linejoin="round"/>
<polyline points="1010.9,2805.7 1012.8,2805.5 1014.8,2805.1 1016.7,2804.4 1018.7,2803.4 1020.6,2802.2 1022.6,2800.9 1024.5,2799.4 1026.5,2797.8 1028.4,2796.3 1030.4,2794.7 1032.3,2793.2 1034.3,2791.9 1036.3,2790.8 1038.2,2789.8 1040.2,2789.2 1042.1,2788.8 1044.1,2788.7 1046.0,2788.9 1048.0,2789.4 1049.9,2790.1 1051.9,2791.1 1053.8,2792.4 1055.8,2793.7 1057.7,2795.2 1059.7,2796.8 1061.6,2798.4 1063.6,2799.9 1065.5,2801.4 1067.5,2802.7 1069.4,2803.8 1071.4,2804.7 1073.3,2805.3 1075.3,2805.6 1077.2,2805.7 1079.2,2805.4 1081.1,2804.9 1083.1,2804.1 1085.0,2803.0 1087.0,2801.8 1088.9,2800.4 1090.9,2798.8" fill="none" stroke="#4f433b" stroke-width="3.3" stroke-linecap="round" stroke-linejoin="round"/>
<polyline points="715.8,2840.4 717.8,2841.9 719.7,2843.6 721.7,2845.3 723.7,2846.9 725.6,2848.5 727.6,2849.9 729.6,2851.1 731.6,2852.1 733.5,2852.8 735.5,2853.2 737.5,2853.2 739.4,2852.9 741.4,2852.3 743.4,2851.4 745.3,2850.2 747.3,2848.9 749.3,2847.3 751.3,2845.7 753.2,2844.0" fill="none" stroke="#4f433b" stroke-width="3.3" stroke-linecap="round" stroke-linejoin="round"/>
<polyline points="765.7,2839.6 767.7,2839.5 769.6,2839.1 771.6,2838.4 773.5,2837.5 775.5,2836.4 777.4,2835.1 779.4,2833.6 781.3,2832.1 783.3,2830.6 785.2,2829.1 787.2,2827.6 789.1,2826.3 791.1,2825.1 793.0,2824.1 795.0,2823.4 796.9,2822.9 798.9,2822.6 800.8,2822.7 802.8,2823.0 804.7,2823.6 806.7,2824.5 808.6,2825.6 810.6,2826.8 812.5,2828.2 814.5,2829.7 816.4,2831.2 818.4,2832.8 820.4,2834.2 822.3,2835.6 824.3,2836.9 826.2,2837.9 828.2,2838.7 830.1,2839.3 832.1,2839.6 834.0,2839.6 836.0,2839.3 837.9,2838.8 839.9,2838.0 841.8,2837.0 843.8,2835.8 845.7,2834.5" fill="none" stroke="#4f433b" stroke-width="3.3" stroke-linecap="round" stroke-linejoin="round"/>
<polyline points="863.2,2849.1 865.1,2849.0 867.1,2848.6 869.0,2847.9 871.0,2846.9 873.0,2845.8 874.9,2844.5 876.9,2843.0 878.8,2841.5 880.8,2839.9 882.7,2838.4 884.7,2836.9 886.6,2835.6 888.6,2834.4 890.5,2833.4 892.5,2832.7 894.4,2832.3 896.4,2832.1 898.3,2832.3 900.3,2832.7 902.2,2833.4 904.2,2834.3 906.1,2835.4 908.1,2836.7 910.0,2838.2 912.0,2839.7 913.9,2841.3 915.9,2842.8 917.8,2844.3 919.8,2845.6 921.7,2846.8 923.7,2847.8 925.6,2848.5 927.6,2849.0 929.5,2849.1 931.5,2849.0 933.4,2848.6 935.4,2848.0 937.3,2847.1 939.3,2845.9 941.2,2844.6 943.2,2843.2" fill="none" stroke="#4f433b" stroke-width="3.3" stroke-linecap="round" stroke-linejoin="round"/>
<polyline points="961.9,2842.8 963.9,2842.6 965.8,2842.1 967.8,2841.3 969.7,2840.2 971.7,2838.9 973.6,2837.4 975.6,2835.8 977.5,2834.1 979.5,2832.4 981.4,2830.8 983.4,2829.4 985.3,2828.1 987.3,2827.1 989.2,2826.3 991.2,2825.9 993.1,2825.8 995.1,2826.1 997.0,2826.6 999.0,2827.5 1000.9,2828.6 1002.9,2830.0 1004.8,2831.5 1006.8,2833.2 1008.7,2834.9 1010.7,2836.6 1012.6,2838.1 1014.6,2839.6 1016.5,2840.8 1018.5,2841.7 1020.4,2842.4 1022.4,2842.7 1024.3,2842.8 1026.3,2842.4 1028.2,2841.8 1030.2,2840.8 1032.2,2839.6 1034.1,2838.2 1036.1,2836.7 1038.0,2835.0 1040.0,2833.3 1041.9,2831.7" fill="none" stroke="#4f433b" stroke-width="3.3" stroke-linecap="round" stroke-linejoin="round"/>
<polyline points="1060.8,2849.0 1062.8,2848.8 1064.8,2848.4 1066.8,2847.6 1068.8,2846.6 1070.8,2845.4 1072.8,2844.0 1074.8,2842.5 1076.7,2840.8 1078.7,2839.2 1080.7,2837.6 1082.7,2836.2 1084.7,2834.9 1086.7,2833.8 1088.7,2832.9 1090.6,2832.3 1092.6,2832.0 1094.6,2832.1 1096.6,2832.4 1098.6,2833.0 1100.6,2833.9 1102.6,2835.1 1104.6,2836.4 1106.5,2837.9 1108.5,2839.5 1110.5,2841.1 1112.5,2842.7" fill="none" stroke="#4f433b" stroke-width="3.3" stroke-linecap="round" stroke-linejoin="round"/>
<polyline points="724.8,2885.7 726.8,2885.6 728.7,2885.1 730.7,2884.4 732.6,2883.4 734.6,2882.1 736.5,2880.7 738.5,2879.2 740.4,2877.6 742.4,2876.0 744.3,2874.4 746.3,2872.9 748.2,2871.6 750.2,2870.5 752.1,2869.6 754.1,2869.1 756.0,2868.8 758.0,2868.8 759.9,2869.1 761.9,2869.7 763.8,2870.6 765.8,2871.7 767.7,2873.1 769.7,2874.6 771.6,2876.1 773.6,2877.8 775.5,2879.4 777.5,2880.9 779.4,2882.3 781.4,2883.5 783.3,2884.5 785.3,2885.2 787.2,2885.6 789.2,2885.7 791.1,2885.5 793.1,2885.1 795.1,2884.3 797.0,2883.2 799.0,2882.0 800.9,2880.6 802.9,2879.0 804.8,2877.4" fill="none" stroke="#4f433b" stroke-width="3.3" stroke-linecap="round" stroke-linejoin="round"/>
<polyline points="825.1,2873.8 827.0,2873.7 829.0,2873.2 830.9,2872.4 832.9,2871.3 834.8,2870.0 836.8,2868.5 838.7,2866.9 840.7,2865.2 842.6,2863.5 844.6,2861.9 846.5,2860.4 848.5,2859.2 850.4,2858.1 852.4,2857.4 854.3,2856.9 856.3,2856.8 858.2,2857.1 860.2,2857.6 862.1,2858.5 864.1,2859.6 866.0,2861.0 868.0,2862.5 869.9,2864.1 871.9,2865.8 873.8,2867.5 875.8,2869.1 877.7,2870.5 879.7,2871.7 881.6,2872.7 883.6,2873.4 885.5,2873.8 887.5,2873.8 889.4,2873.5 891.4,2872.9 893.3,2872.0 895.3,2870.8 897.3,2869.4 899.2,2867.9 901.2,2866.2 903.1,2864.5 905.1,2862.9" fill="none" stroke="#4f433b" stroke-width="3.3" stroke-linecap="round" stroke-linejoin="round"/>
<polyline points="925.6,2888.3 927.6,2888.1 929.5,2887.7 931.5,2887.0 933.4,2886.0 935.4,2884.8 937.3,2883.5 939.3,2882.0 941.2,2880.4 943.2,2878.9 945.1,2877.3 947.1,2875.8 949.0,2874.5 951.0,2873.4 952.9,2872.4 954.9,2871.8 956.8,2871.4 958.8,2871.3 960.7,2871.5 962.7,2871.9 964.6,2872.7 966.6,2873.7 968.5,2874.9 970.5,2876.3 972.5,2877.8 974.4,2879.3 976.4,2880.9 978.3,2882.5 980.3,2883.9 982.2,2885.2 984.2,2886.3 986.1,2887.2 988.1,2887.8 990.0,2888.2 992.0,2888.3 993.9,2888.0 995.9,2887.5 997.8,2886.7 999.8,2885.7 1001.7,2884.4 1003.7,2883.0 1005.6,2881.5" fill="none" stroke="#4f433b" stroke-width="3.3" stroke-linecap="round" stroke-linejoin="round"/>
<polyline points="1016.0,2874.8 1018.0,2874.6 1019.9,2874.1 1021.9,2873.3 1023.8,2872.2 1025.8,2870.9 1027.7,2869.4 1029.7,2867.7 1031.6,2866.0 1033.6,2864.4 1035.5,2862.8 1037.5,2861.3 1039.4,2860.0 1041.4,2859.0 1043.3,2858.3 1045.3,2857.9 1047.2,2857.8 1049.2,2858.1 1051.1,2858.6 1053.1,2859.5 1055.0,2860.7 1057.0,2862.1 1058.9,2863.6 1060.9,2865.3 1062.8,2867.0 1064.8,2868.6 1066.7,2870.2 1068.7,2871.6 1070.6,2872.8 1072.6,2873.8 1074.5,2874.4 1076.5,2874.7 1078.4,2874.7 1080.4,2874.4 1082.3,2873.7 1084.3,2872.7 1086.2,2871.5 1088.2,2870.1 1090.2,2868.5 1092.1,2866.8 1094.1,2865.1 1096.0,2863.5" fill="none" stroke="#4f433b" stroke-width="3.3" stroke-linecap="round" stroke-linejoin="round"/>
<circle cx="883.6" cy="2858.9" r="13.9" fill="#f0a9b6" stroke="#2c3e48" stroke-width="1.5"/>
<circle cx="906.1" cy="2859.1" r="13.7" fill="#f0a9b6" stroke="#2c3e48" stroke-width="1.5"/>
<circle cx="926.7" cy="2860.1" r="13.1" fill="#f0a9b6" stroke="#2c3e48" stroke-width="1.5"/>
<circle cx="952.0" cy="2861.7" r="13.2" fill="#f0a9b6" stroke="#2c3e48" stroke-width="1.5"/>
<circle cx="895.5" cy="2840.6" r="13.0" fill="#f0a9b6" stroke="#2c3e48" stroke-width="1.5"/>
<circle cx="916.4" cy="2840.8" r="13.4" fill="#f0a9b6" stroke="#2c3e48" stroke-width="1.5"/>
<circle cx="936.8" cy="2840.1" r="12.8" fill="#f0a9b6" stroke="#2c3e48" stroke-width="1.5"/>
<circle cx="881.1" cy="2824.6" r="13.8" fill="#f0a9b6" stroke="#2c3e48" stroke-width="1.5"/>
<circle cx="905.5" cy="2824.1" r="14.1" fill="#f0a9b6" stroke="#2c3e48" stroke-width="1.5"/>
<circle cx="927.2" cy="2821.7" r="14.2" fill="#f0a9b6" stroke="#2c3e48" stroke-width="1.5"/>
<circle cx="947.1" cy="2823.4" r="13.9" fill="#f0a9b6" stroke="#2c3e48" stroke-width="1.5"/>
<circle cx="892.9" cy="2805.5" r="14.2" fill="#f0a9b6" stroke="#2c3e48" stroke-width="1.5"/>
<circle cx="915.4" cy="2802.4" r="12.7" fill="#f0a9b6" stroke="#2c3e48" stroke-width="1.5"/>
<circle cx="936.2" cy="2804.8" r="13.2" fill="#f0a9b6" stroke="#2c3e48" stroke-width="1.5"/>
<circle cx="879.9" cy="2784.0" r="14.2" fill="#f0a9b6" stroke="#2c3e48" stroke-width="1.5"/>
<circle cx="901.6" cy="2783.6" r="13.9" fill="#f0a9b6" stroke="#2c3e48" stroke-width="1.5"/>
<circle cx="925.3" cy="2786.7" r="13.4" fill="#f0a9b6" stroke="#2c3e48" stroke-width="1.5"/>
<circle cx="889.9" cy="2765.7" r="14.2" fill="#f0a9b6" stroke="#2c3e48" stroke-width="1.5"/>
<circle cx="913.3" cy="2766.7" r="13.7" fill="#f0a9b6" stroke="#2c3e48" stroke-width="1.5"/>
<circle cx="935.0" cy="2767.9" r="14.0" fill="#f0a9b6" stroke="#2c3e48" stroke-width="1.5"/>
<circle cx="877.9" cy="2747.3" r="13.2" fill="#f0a9b6" stroke="#2c3e48" stroke-width="1.5"/>
<circle cx="900.1" cy="2747.4" r="13.0" fill="#f0a9b6" stroke="#2c3e48" stroke-width="1.5"/>
<circle cx="920.3" cy="2746.9" r="13.4" fill="#f0a9b6" stroke="#2c3e48" stroke-width="1.5"/>
<circle cx="889.1" cy="2727.0" r="12.9" fill="#f0a9b6" stroke="#2c3e48" stroke-width="1.5"/>
<circle cx="907.9" cy="2729.3" r="13.3" fill="#f0a9b6" stroke="#2c3e48" stroke-width="1.5"/>
<circle cx="930.7" cy="2729.0" r="14.2" fill="#f0a9b6" stroke="#2c3e48" stroke-width="1.5"/>
<circle cx="875.9" cy="2709.4" r="13.2" fill="#f0a9b6" stroke="#2c3e48" stroke-width="1.5"/>
<circle cx="899.9" cy="2708.8" r="12.7" fill="#f0a9b6" stroke="#2c3e48" stroke-width="1.5"/>
<circle cx="919.4" cy="2708.8" r="12.8" fill="#f0a9b6" stroke="#2c3e48" stroke-width="1.5"/>
<circle cx="889.8" cy="2690.3" r="13.0" fill="#f0a9b6" stroke="#2c3e48" stroke-width="1.5"/>
<circle cx="910.5" cy="2692.2" r="14.0" fill="#f0a9b6" stroke="#2c3e48" stroke-width="1.5"/>
<circle cx="883.5" cy="2672.7" r="13.3" fill="#f0a9b6" stroke="#2c3e48" stroke-width="1.5"/>
<circle cx="907.7" cy="2670.8" r="13.2" fill="#f0a9b6" stroke="#2c3e48" stroke-width="1.5"/>
<circle cx="899.4" cy="2652.5" r="12.9" fill="#f0a9b6" stroke="#2c3e48" stroke-width="1.5"/>
<circle cx="903.8" cy="2650.5" r="14.3" fill="#f0a9b6" stroke="#2c3e48" stroke-width="1.5"/>
<line x1="835.3" y1="2682.7" x2="835.3" y2="2644.7" stroke="#1e1a18" stroke-width="3.2"/>
<path d="M829.8,2649.7 L840.8,2649.7 L835.3,2637.7 Z" fill="#1e1a18"/>
<circle cx="835.3" cy="2695.7" r="13" fill="#5c6bb6" stroke="#1f2440" stroke-width="2"/>
<line x1="784.3" y1="2727" x2="784.3" y2="2689" stroke="#1e1a18" stroke-width="3.2"/>
<path d="M778.8,2694 L789.8,2694 L784.3,2682 Z" fill="#1e1a18"/>
<circle cx="784.3" cy="2740" r="13" fill="#5c6bb6" stroke="#1f2440" stroke-width="2"/>
<line x1="747.8" y1="2786.5" x2="747.8" y2="2748.5" stroke="#1e1a18" stroke-width="3.2"/>
<path d="M742.3,2753.5 L753.3,2753.5 L747.8,2741.5 Z" fill="#1e1a18"/>
<circle cx="747.8" cy="2799.5" r="13" fill="#5c6bb6" stroke="#1f2440" stroke-width="2"/>
<line x1="863.4" y1="2782" x2="863.4" y2="2744" stroke="#1e1a18" stroke-width="3.2"/>
<path d="M857.9,2749 L868.9,2749 L863.4,2737 Z" fill="#1e1a18"/>
<circle cx="863.4" cy="2795" r="13" fill="#5c6bb6" stroke="#1f2440" stroke-width="2"/>
<line x1="798" y1="2856" x2="798" y2="2818" stroke="#1e1a18" stroke-width="3.2"/>
<path d="M792.5,2823 L803.5,2823 L798,2811 Z" fill="#1e1a18"/>
<circle cx="798" cy="2869" r="13" fill="#5c6bb6" stroke="#1f2440" stroke-width="2"/>
<line x1="1028" y1="2759.8" x2="1028" y2="2721.8" stroke="#1e1a18" stroke-width="3.2"/>
<path d="M1022.5,2726.8 L1033.5,2726.8 L1028,2714.8 Z" fill="#1e1a18"/>
<circle cx="1028" cy="2772.8" r="13" fill="#5c6bb6" stroke="#1f2440" stroke-width="2"/>
<line x1="1088.7" y1="2805.7" x2="1088.7" y2="2767.7" stroke="#1e1a18" stroke-width="3.2"/>
<path d="M1083.2,2772.7 L1094.2,2772.7 L1088.7,2760.7 Z" fill="#1e1a18"/>
<circle cx="1088.7" cy="2818.7" r="13" fill="#5c6bb6" stroke="#1f2440" stroke-width="2"/>
<line x1="1010" y1="2871" x2="1010" y2="2833" stroke="#1e1a18" stroke-width="3.2"/>
<path d="M1004.5,2838 L1015.5,2838 L1010,2826 Z" fill="#1e1a18"/>
<circle cx="1010" cy="2884" r="13" fill="#5c6bb6" stroke="#1f2440" stroke-width="2"/>
<rect x="900.5" y="2594" width="20.5" height="5" fill="#111"/>
<text x="902.9" y="3156.7" font-family='"Liberation Serif","Times New Roman",serif' font-size="102.1" font-weight="bold" textLength="53.2" lengthAdjust="spacingAndGlyphs" fill="#000" >+</text>
<text x="716.1" y="2520.8" font-family='"Liberation Serif","Times New Roman",serif' font-size="55.8" font-weight="bold" textLength="297.6" lengthAdjust="spacingAndGlyphs" fill="#000" >Voltage &lt; V</text>
<text x="1015.4" y="2533.5" font-family='"Liberation Serif","Times New Roman",serif' font-size="40.5" font-weight="bold" textLength="92.7" lengthAdjust="spacingAndGlyphs" fill="#000" >Reset</text>
<rect x="1256.4" y="2555.4" width="400.5999999999999" height="83.59999999999991" fill="#b8c3e0"/>
<rect x="1256.4" y="2639" width="400.5999999999999" height="284" fill="#ffffff"/>
<rect x="1256.4" y="2923" width="400.5999999999999" height="148.4000000000001" fill="#8ea6b8"/>
<rect x="1256.4" y="3071.4" width="400.5999999999999" height="85.59999999999991" fill="#5e6d7c"/>
<rect x="1256.4" y="2555.4" width="400.5999999999999" height="601.5999999999999" fill="none" stroke="#2b2622" stroke-width="3.2"/>
<line x1="1256.4" y1="2639" x2="1657" y2="2639" stroke="#2b2622" stroke-width="3.2"/>
<line x1="1256.4" y1="2923" x2="1657" y2="2923" stroke="#2b2622" stroke-width="3.2"/>
<line x1="1256.4" y1="3071.4" x2="1657" y2="3071.4" stroke="#2b2622" stroke-width="3.2"/>
<polyline points="1266.4,2671.4 1268.3,2671.3 1270.3,2670.9 1272.2,2670.2 1274.2,2669.2 1276.1,2668.1 1278.1,2666.7 1280.0,2665.3 1282.0,2663.7 1283.9,2662.2 1285.9,2660.6 1287.8,2659.2 1289.8,2657.8 1291.7,2656.7 1293.7,2655.7 1295.6,2655.0 1297.6,2654.6 1299.5,2654.4 1301.5,2654.6 1303.4,2655.0 1305.4,2655.7 1307.3,2656.6 1309.3,2657.8 1311.2,2659.1 1313.2,2660.6 1315.1,2662.1 1317.1,2663.7 1319.0,2665.2 1321.0,2666.7 1323.0,2668.0 1324.9,2669.2 1326.9,2670.2 1328.8,2670.9 1330.8,2671.3 1332.7,2671.4 1334.7,2671.3 1336.6,2670.9 1338.6,2670.2 1340.5,2669.2 1342.5,2668.1 1344.4,2666.7 1346.4,2665.3" fill="none" stroke="#4f433b" stroke-width="3.3" stroke-linecap="round" stroke-linejoin="round"/>
<polyline points="1367.7,2658.4 1369.6,2658.3 1371.6,2657.9 1373.5,2657.2 1375.5,2656.3 1377.4,2655.1 1379.4,2653.8 1381.3,2652.4 1383.3,2650.9 1385.2,2649.4 1387.2,2647.8 1389.1,2646.4 1391.1,2645.0 1393.0,2643.9 1395.0,2642.9 1396.9,2642.1 1398.9,2641.6 1400.8,2641.4 1402.8,2641.5 1404.7,2641.8 1406.7,2642.4 1408.7,2643.3 1410.6,2644.4 1412.6,2645.6 1414.5,2647.0 1416.5,2648.5 1418.4,2650.1 1420.4,2651.6 1422.3,2653.1 1424.3,2654.5 1426.2,2655.7 1428.2,2656.7 1430.1,2657.5 1432.1,2658.1 1434.0,2658.4 1436.0,2658.4 1437.9,2658.1 1439.9,2657.6 1441.8,2656.8 1443.8,2655.8 1445.7,2654.5 1447.7,2653.2" fill="none" stroke="#4f433b" stroke-width="3.3" stroke-linecap="round" stroke-linejoin="round"/>
<polyline points="1458.0,2669.2 1460.0,2669.1 1461.9,2668.7 1463.9,2668.0 1465.8,2667.1 1467.8,2666.0 1469.7,2664.7 1471.7,2663.2 1473.6,2661.7 1475.6,2660.2 1477.5,2658.7 1479.5,2657.2 1481.4,2655.9 1483.4,2654.7 1485.3,2653.7 1487.3,2653.0 1489.2,2652.5 1491.2,2652.2 1493.1,2652.3 1495.1,2652.6 1497.0,2653.2 1499.0,2654.1 1501.0,2655.1 1502.9,2656.4 1504.9,2657.8 1506.8,2659.2 1508.8,2660.8 1510.7,2662.3 1512.7,2663.8 1514.6,2665.2 1516.6,2666.4 1518.5,2667.5 1520.5,2668.3 1522.4,2668.9 1524.4,2669.2 1526.3,2669.2 1528.3,2669.0 1530.2,2668.4 1532.2,2667.7 1534.1,2666.7 1536.1,2665.5 1538.0,2664.1" fill="none" stroke="#4f433b" stroke-width="3.3" stroke-linecap="round" stroke-linejoin="round"/>
<polyline points="1555.8,2659.7 1557.8,2659.5 1559.7,2659.0 1561.7,2658.2 1563.6,2657.1 1565.6,2655.8 1567.5,2654.2 1569.5,2652.6 1571.4,2650.9 1573.4,2649.2 1575.3,2647.6 1577.3,2646.1 1579.2,2644.9 1581.2,2643.9 1583.1,2643.1 1585.1,2642.8 1587.0,2642.7 1589.0,2643.0 1590.9,2643.7 1592.9,2644.6 1594.8,2645.8 1596.8,2647.2 1598.7,2648.8 1600.7,2650.5 1602.6,2652.2 1604.6,2653.9 1606.5,2655.4 1608.5,2656.8 1610.4,2658.0 1612.4,2658.9 1614.3,2659.5 1616.3,2659.7 1618.3,2659.6 1620.2,2659.2 1622.2,2658.4 1624.1,2657.4 1626.1,2656.1 1628.0,2654.6 1630.0,2652.9 1631.9,2651.2 1633.9,2649.5 1635.8,2647.9" fill="none" stroke="#4f433b" stroke-width="3.3" stroke-linecap="round" stroke-linejoin="round"/>
<polyline points="1261.4,2695.0 1263.4,2696.7 1265.4,2698.5 1267.4,2700.2 1269.3,2701.8 1271.3,2703.3 1273.3,2704.6 1275.3,2705.5 1277.3,2706.2 1279.3,2706.5 1281.2,2706.4 1283.2,2706.0 1285.2,2705.2 1287.2,2704.2 1289.2,2702.8 1291.2,2701.3 1293.1,2699.6 1295.1,2697.8 1297.1,2696.1" fill="none" stroke="#4f433b" stroke-width="3.3" stroke-linecap="round" stroke-linejoin="round"/>
<polyline points="1309.7,2691.2 1311.7,2691.0 1313.6,2690.6 1315.6,2689.9 1317.5,2689.0 1319.5,2687.9 1321.4,2686.6 1323.4,2685.1 1325.3,2683.6 1327.3,2682.1 1329.2,2680.6 1331.2,2679.1 1333.1,2677.8 1335.1,2676.6 1337.0,2675.6 1339.0,2674.9 1340.9,2674.4 1342.9,2674.2 1344.8,2674.2 1346.8,2674.6 1348.7,2675.2 1350.7,2676.1 1352.6,2677.1 1354.6,2678.4 1356.5,2679.8 1358.5,2681.3 1360.4,2682.8 1362.4,2684.4 1364.3,2685.9 1366.3,2687.2 1368.2,2688.5 1370.2,2689.5 1372.1,2690.3 1374.1,2690.8 1376.0,2691.1 1378.0,2691.1 1379.9,2690.8 1381.9,2690.3 1383.8,2689.5 1385.8,2688.5 1387.7,2687.3 1389.7,2685.9" fill="none" stroke="#4f433b" stroke-width="3.3" stroke-linecap="round" stroke-linejoin="round"/>
<polyline points="1408.9,2703.2 1410.8,2703.1 1412.8,2702.6 1414.7,2701.9 1416.7,2701.0 1418.6,2699.8 1420.6,2698.5 1422.5,2697.0 1424.5,2695.5 1426.5,2693.9 1428.4,2692.4 1430.4,2690.9 1432.3,2689.6 1434.3,2688.4 1436.2,2687.5 1438.2,2686.8 1440.1,2686.4 1442.1,2686.2 1444.0,2686.3 1446.0,2686.8 1447.9,2687.5 1449.9,2688.4 1451.8,2689.6 1453.8,2690.9 1455.7,2692.4 1457.7,2693.9 1459.6,2695.5 1461.6,2697.0 1463.5,2698.5 1465.5,2699.8 1467.4,2701.0 1469.4,2701.9 1471.3,2702.6 1473.3,2703.1 1475.2,2703.2 1477.2,2703.1 1479.1,2702.6 1481.1,2701.9 1483.0,2701.0 1485.0,2699.9 1486.9,2698.5 1488.9,2697.1" fill="none" stroke="#4f433b" stroke-width="3.3" stroke-linecap="round" stroke-linejoin="round"/>
<polyline points="1500.6,2693.9 1502.5,2693.7 1504.5,2693.2 1506.4,2692.4 1508.4,2691.3 1510.3,2689.9 1512.3,2688.4 1514.2,2686.8 1516.2,2685.1 1518.1,2683.4 1520.1,2681.8 1522.0,2680.3 1524.0,2679.0 1525.9,2678.0 1527.9,2677.3 1529.8,2676.9 1531.8,2676.9 1533.7,2677.2 1535.7,2677.8 1537.6,2678.7 1539.6,2679.9 1541.5,2681.3 1543.5,2682.9 1545.4,2684.6 1547.4,2686.3 1549.3,2688.0 1551.3,2689.5 1553.2,2690.9 1555.2,2692.1 1557.1,2693.0 1559.1,2693.6 1561.0,2693.9 1563.0,2693.8 1564.9,2693.4 1566.9,2692.6 1568.8,2691.6 1570.8,2690.3 1572.7,2688.8 1574.7,2687.2 1576.7,2685.5 1578.6,2683.8 1580.6,2682.2" fill="none" stroke="#4f433b" stroke-width="3.3" stroke-linecap="round" stroke-linejoin="round"/>
<polyline points="1590.6,2708.9 1592.6,2708.7 1594.5,2708.2 1596.5,2707.4 1598.5,2706.3 1600.5,2704.9 1602.5,2703.4 1604.4,2701.7 1606.4,2700.0 1608.4,2698.3 1610.4,2696.7 1612.4,2695.3 1614.4,2694.0 1616.3,2693.0 1618.3,2692.3 1620.3,2692.0 1622.3,2691.9 1624.3,2692.3 1626.2,2692.9 1628.2,2693.9 1630.2,2695.1 1632.2,2696.5 1634.2,2698.1 1636.1,2699.8 1638.1,2701.5 1640.1,2703.2 1642.1,2704.7 1644.1,2706.1 1646.1,2707.3 1648.0,2708.1 1650.0,2708.7 1652.0,2708.9" fill="none" stroke="#4f433b" stroke-width="3.3" stroke-linecap="round" stroke-linejoin="round"/>
<polyline points="1270.4,2743.6 1272.3,2743.5 1274.3,2743.1 1276.2,2742.4 1278.2,2741.5 1280.1,2740.4 1282.1,2739.1 1284.0,2737.6 1286.0,2736.1 1287.9,2734.6 1289.9,2733.1 1291.8,2731.6 1293.8,2730.3 1295.7,2729.1 1297.7,2728.1 1299.6,2727.4 1301.6,2726.9 1303.5,2726.6 1305.5,2726.7 1307.4,2727.0 1309.4,2727.6 1311.3,2728.4 1313.3,2729.5 1315.2,2730.7 1317.2,2732.1 1319.1,2733.6 1321.1,2735.1 1323.0,2736.6 1325.0,2738.1 1326.9,2739.5 1328.9,2740.7 1330.8,2741.8 1332.8,2742.6 1334.7,2743.2 1336.7,2743.5 1338.7,2743.6 1340.6,2743.4 1342.6,2742.9 1344.5,2742.1 1346.5,2741.2 1348.4,2740.0 1350.4,2738.6" fill="none" stroke="#4f433b" stroke-width="3.3" stroke-linecap="round" stroke-linejoin="round"/>
<polyline points="1366.8,2733.7 1368.8,2733.6 1370.7,2733.1 1372.7,2732.2 1374.6,2731.2 1376.6,2729.9 1378.5,2728.4 1380.5,2726.7 1382.4,2725.0 1384.4,2723.4 1386.3,2721.8 1388.3,2720.3 1390.2,2719.0 1392.2,2718.0 1394.1,2717.3 1396.1,2716.8 1398.0,2716.7 1400.0,2717.0 1402.0,2717.5 1403.9,2718.4 1405.9,2719.5 1407.8,2720.9 1409.8,2722.4 1411.7,2724.1 1413.7,2725.7 1415.6,2727.4 1417.6,2729.0 1419.5,2730.4 1421.5,2731.6 1423.4,2732.6 1425.4,2733.3 1427.3,2733.7 1429.3,2733.7 1431.2,2733.4 1433.2,2732.8 1435.1,2731.8 1437.1,2730.7 1439.0,2729.3 1441.0,2727.7 1442.9,2726.0 1444.9,2724.4 1446.8,2722.7" fill="none" stroke="#4f433b" stroke-width="3.3" stroke-linecap="round" stroke-linejoin="round"/>
<polyline points="1468.1,2746.8 1470.1,2746.7 1472.0,2746.3 1474.0,2745.6 1475.9,2744.7 1477.9,2743.6 1479.8,2742.3 1481.8,2740.9 1483.7,2739.4 1485.7,2737.8 1487.6,2736.3 1489.6,2734.9 1491.5,2733.5 1493.5,2732.3 1495.4,2731.3 1497.4,2730.6 1499.3,2730.1 1501.3,2729.8 1503.2,2729.9 1505.2,2730.2 1507.1,2730.8 1509.1,2731.6 1511.0,2732.7 1513.0,2733.9 1515.0,2735.3 1516.9,2736.7 1518.9,2738.3 1520.8,2739.8 1522.8,2741.3 1524.7,2742.7 1526.7,2743.9 1528.6,2745.0 1530.6,2745.8 1532.5,2746.4 1534.5,2746.8 1536.4,2746.8 1538.4,2746.6 1540.3,2746.1 1542.3,2745.4 1544.2,2744.4 1546.2,2743.2 1548.1,2741.9" fill="none" stroke="#4f433b" stroke-width="3.3" stroke-linecap="round" stroke-linejoin="round"/>
<polyline points="1568.8,2730.7 1570.8,2730.5 1572.7,2730.0 1574.7,2729.3 1576.7,2728.2 1578.6,2727.0 1580.6,2725.5 1582.5,2723.9 1584.5,2722.3 1586.4,2720.6 1588.4,2719.0 1590.3,2717.6 1592.3,2716.3 1594.2,2715.2 1596.2,2714.4 1598.1,2713.9 1600.1,2713.7 1602.0,2713.8 1604.0,2714.3 1605.9,2715.0 1607.9,2716.0 1609.8,2717.3 1611.8,2718.7 1613.7,2720.3 1615.7,2721.9 1617.6,2723.6 1619.6,2725.1 1621.5,2726.6 1623.5,2728.0 1625.4,2729.1 1627.4,2729.9 1629.3,2730.4 1631.3,2730.7 1633.2,2730.6 1635.2,2730.2 1637.1,2729.5 1639.1,2728.5 1641.0,2727.3 1643.0,2725.9 1644.9,2724.3 1646.9,2722.7 1648.8,2721.0" fill="none" stroke="#4f433b" stroke-width="3.3" stroke-linecap="round" stroke-linejoin="round"/>
<polyline points="1306.7,2764.3 1308.6,2764.2 1310.6,2763.8 1312.5,2763.0 1314.5,2762.1 1316.4,2760.9 1318.4,2759.5 1320.3,2758.0 1322.3,2756.5 1324.2,2754.9 1326.2,2753.3 1328.1,2751.8 1330.1,2750.5 1332.0,2749.4 1334.0,2748.5 1335.9,2747.8 1337.9,2747.4 1339.9,2747.4 1341.8,2747.6 1343.8,2748.1 1345.7,2748.9 1347.7,2749.9 1349.6,2751.1 1351.6,2752.5 1353.5,2754.0 1355.5,2755.6 1357.4,2757.2 1359.4,2758.7 1361.3,2760.2 1363.3,2761.5 1365.2,2762.6 1367.2,2763.4 1369.1,2764.0 1371.1,2764.3 1373.0,2764.3 1375.0,2764.0 1376.9,2763.5 1378.9,2762.6 1380.8,2761.5 1382.8,2760.3 1384.7,2758.8 1386.7,2757.3" fill="none" stroke="#4f433b" stroke-width="3.3" stroke-linecap="round" stroke-linejoin="round"/>
<polyline points="1400.7,2779.8 1402.7,2779.7 1404.6,2779.2 1406.6,2778.5 1408.5,2777.6 1410.5,2776.4 1412.4,2775.1 1414.4,2773.7 1416.3,2772.1 1418.3,2770.6 1420.2,2769.0 1422.2,2767.6 1424.1,2766.2 1426.1,2765.1 1428.1,2764.1 1430.0,2763.4 1432.0,2763.0 1433.9,2762.8 1435.9,2762.9 1437.8,2763.3 1439.8,2764.0 1441.7,2764.9 1443.7,2766.1 1445.6,2767.4 1447.6,2768.9 1449.5,2770.4 1451.5,2772.0 1453.4,2773.5 1455.4,2775.0 1457.3,2776.3 1459.3,2777.5 1461.2,2778.4 1463.2,2779.2 1465.1,2779.6 1467.1,2779.8 1469.0,2779.7 1471.0,2779.3 1472.9,2778.6 1474.9,2777.7 1476.8,2776.6 1478.8,2775.3 1480.7,2773.8" fill="none" stroke="#4f433b" stroke-width="3.3" stroke-linecap="round" stroke-linejoin="round"/>
<polyline points="1496.5,2766.8 1498.5,2766.7 1500.4,2766.2 1502.4,2765.5 1504.3,2764.5 1506.3,2763.2 1508.2,2761.8 1510.2,2760.3 1512.1,2758.6 1514.1,2757.0 1516.0,2755.4 1518.0,2754.0 1519.9,2752.7 1521.9,2751.6 1523.8,2750.7 1525.8,2750.1 1527.7,2749.9 1529.7,2749.9 1531.6,2750.3 1533.6,2750.9 1535.5,2751.8 1537.5,2753.0 1539.4,2754.4 1541.4,2755.9 1543.3,2757.5 1545.3,2759.1 1547.2,2760.7 1549.2,2762.2 1551.1,2763.6 1553.1,2764.8 1555.0,2765.7 1557.0,2766.4 1558.9,2766.8 1560.9,2766.8 1562.8,2766.6 1564.8,2766.0 1566.7,2765.2 1568.7,2764.1 1570.6,2762.8 1572.6,2761.4 1574.6,2759.8 1576.5,2758.2" fill="none" stroke="#4f433b" stroke-width="3.3" stroke-linecap="round" stroke-linejoin="round"/>
<polyline points="1595.0,2777.8 1596.9,2777.6 1598.9,2777.2 1600.9,2776.5 1602.8,2775.6 1604.8,2774.5 1606.8,2773.2 1608.7,2771.7 1610.7,2770.2 1612.7,2768.7 1614.6,2767.2 1616.6,2765.7 1618.6,2764.4 1620.5,2763.2 1622.5,2762.2 1624.5,2761.5 1626.4,2761.0 1628.4,2760.8 1630.4,2760.9 1632.3,2761.2 1634.3,2761.8 1636.3,2762.7 1638.2,2763.8 1640.2,2765.1 1642.2,2766.5 1644.1,2768.0 1646.1,2769.5 1648.1,2771.0 1650.0,2772.5 1652.0,2773.9" fill="none" stroke="#4f433b" stroke-width="3.3" stroke-linecap="round" stroke-linejoin="round"/>
<polyline points="1269.9,2815.9 1271.9,2815.8 1273.8,2815.3 1275.8,2814.6 1277.7,2813.7 1279.7,2812.5 1281.6,2811.2 1283.6,2809.7 1285.5,2808.2 1287.5,2806.6 1289.4,2805.1 1291.4,2803.6 1293.3,2802.3 1295.3,2801.1 1297.2,2800.2 1299.2,2799.5 1301.1,2799.0 1303.1,2798.9 1305.0,2799.1 1307.0,2799.5 1308.9,2800.2 1310.9,2801.1 1312.8,2802.3 1314.8,2803.6 1316.7,2805.1 1318.7,2806.6 1320.6,2808.2 1322.6,2809.8 1324.6,2811.2 1326.5,2812.5 1328.5,2813.7 1330.4,2814.6 1332.4,2815.3 1334.3,2815.8 1336.3,2815.9 1338.2,2815.8 1340.2,2815.3 1342.1,2814.6 1344.1,2813.7 1346.0,2812.5 1348.0,2811.2 1349.9,2809.7" fill="none" stroke="#4f433b" stroke-width="3.3" stroke-linecap="round" stroke-linejoin="round"/>
<polyline points="1364.3,2807.4 1366.3,2807.2 1368.2,2806.7 1370.2,2805.8 1372.1,2804.7 1374.1,2803.3 1376.0,2801.8 1378.0,2800.1 1379.9,2798.4 1381.9,2796.7 1383.8,2795.0 1385.8,2793.6 1387.7,2792.3 1389.7,2791.4 1391.6,2790.7 1393.6,2790.4 1395.5,2790.5 1397.5,2790.8 1399.4,2791.6 1401.4,2792.6 1403.3,2793.9 1405.3,2795.4 1407.2,2797.0 1409.2,2798.7 1411.1,2800.5 1413.1,2802.1 1415.0,2803.6 1417.0,2805.0 1418.9,2806.0 1420.9,2806.8 1422.8,2807.3 1424.8,2807.4 1426.8,2807.1 1428.7,2806.5 1430.7,2805.6 1432.6,2804.4 1434.6,2803.0 1436.5,2801.4 1438.5,2799.7 1440.4,2798.0 1442.4,2796.3 1444.3,2794.7" fill="none" stroke="#4f433b" stroke-width="3.3" stroke-linecap="round" stroke-linejoin="round"/>
<polyline points="1454.9,2817.2 1456.8,2817.1 1458.8,2816.7 1460.7,2816.0 1462.7,2815.1 1464.6,2813.9 1466.6,2812.7 1468.5,2811.2 1470.5,2809.7 1472.4,2808.2 1474.4,2806.7 1476.3,2805.2 1478.3,2803.9 1480.2,2802.7 1482.2,2801.7 1484.1,2801.0 1486.1,2800.5 1488.0,2800.2 1490.0,2800.3 1491.9,2800.6 1493.9,2801.2 1495.8,2802.0 1497.8,2803.1 1499.8,2804.3 1501.7,2805.7 1503.7,2807.2 1505.6,2808.7 1507.6,2810.2 1509.5,2811.7 1511.5,2813.1 1513.4,2814.3 1515.4,2815.4 1517.3,2816.2 1519.3,2816.8 1521.2,2817.1 1523.2,2817.2 1525.1,2817.0 1527.1,2816.5 1529.0,2815.7 1531.0,2814.7 1532.9,2813.5 1534.9,2812.2" fill="none" stroke="#4f433b" stroke-width="3.3" stroke-linecap="round" stroke-linejoin="round"/>
<polyline points="1547.2,2808.8 1549.2,2808.7 1551.1,2808.2 1553.1,2807.6 1555.0,2806.7 1557.0,2805.5 1558.9,2804.2 1560.9,2802.8 1562.8,2801.3 1564.8,2799.7 1566.7,2798.2 1568.7,2796.8 1570.6,2795.4 1572.6,2794.3 1574.5,2793.3 1576.5,2792.5 1578.5,2792.0 1580.4,2791.8 1582.4,2791.9 1584.3,2792.2 1586.3,2792.8 1588.2,2793.7 1590.2,2794.7 1592.1,2796.0 1594.1,2797.4 1596.0,2798.9 1598.0,2800.4 1599.9,2802.0 1601.9,2803.4 1603.8,2804.8 1605.8,2806.0 1607.7,2807.1 1609.7,2807.9 1611.6,2808.5 1613.6,2808.8 1615.5,2808.8 1617.5,2808.5 1619.4,2808.0 1621.4,2807.2 1623.3,2806.2 1625.3,2805.0 1627.2,2803.6" fill="none" stroke="#4f433b" stroke-width="3.3" stroke-linecap="round" stroke-linejoin="round"/>
<polyline points="1313.4,2840.4 1315.3,2840.3 1317.3,2839.9 1319.2,2839.2 1321.2,2838.2 1323.1,2837.0 1325.1,2835.7 1327.0,2834.2 1329.0,2832.7 1330.9,2831.1 1332.9,2829.5 1334.8,2828.1 1336.8,2826.7 1338.7,2825.6 1340.7,2824.7 1342.7,2824.0 1344.6,2823.6 1346.6,2823.4 1348.5,2823.6 1350.5,2824.1 1352.4,2824.8 1354.4,2825.8 1356.3,2827.0 1358.3,2828.3 1360.2,2829.8 1362.2,2831.4 1364.1,2832.9 1366.1,2834.5 1368.0,2835.9 1370.0,2837.3 1371.9,2838.4 1373.9,2839.3 1375.8,2840.0 1377.8,2840.3 1379.7,2840.4 1381.7,2840.2 1383.6,2839.8 1385.6,2839.0 1387.5,2838.0 1389.5,2836.8 1391.4,2835.4 1393.4,2833.9" fill="none" stroke="#4f433b" stroke-width="3.3" stroke-linecap="round" stroke-linejoin="round"/>
<polyline points="1413.0,2859.5 1414.9,2859.3 1416.9,2858.8 1418.8,2857.9 1420.8,2856.8 1422.7,2855.4 1424.7,2853.9 1426.6,2852.2 1428.6,2850.5 1430.5,2848.8 1432.5,2847.2 1434.4,2845.7 1436.4,2844.5 1438.3,2843.5 1440.3,2842.8 1442.2,2842.5 1444.2,2842.5 1446.1,2842.9 1448.1,2843.6 1450.0,2844.6 1452.0,2845.8 1453.9,2847.3 1455.9,2848.9 1457.8,2850.7 1459.8,2852.4 1461.7,2854.0 1463.7,2855.6 1465.6,2856.9 1467.6,2858.0 1469.5,2858.8 1471.5,2859.3 1473.4,2859.5 1475.4,2859.2 1477.3,2858.7 1479.3,2857.8 1481.2,2856.7 1483.2,2855.3 1485.1,2853.7 1487.1,2852.0 1489.0,2850.3 1491.0,2848.6 1493.0,2847.0" fill="none" stroke="#4f433b" stroke-width="3.3" stroke-linecap="round" stroke-linejoin="round"/>
<polyline points="1514.3,2840.3 1516.3,2840.1 1518.2,2839.7 1520.2,2838.9 1522.1,2837.8 1524.1,2836.6 1526.0,2835.1 1528.0,2833.5 1529.9,2831.9 1531.9,2830.2 1533.8,2828.6 1535.8,2827.2 1537.7,2825.9 1539.7,2824.8 1541.6,2824.0 1543.6,2823.5 1545.5,2823.3 1547.5,2823.4 1549.4,2823.9 1551.4,2824.7 1553.3,2825.7 1555.3,2827.0 1557.2,2828.4 1559.2,2830.0 1561.1,2831.6 1563.1,2833.3 1565.0,2834.9 1567.0,2836.4 1568.9,2837.7 1570.9,2838.7 1572.8,2839.6 1574.8,2840.1 1576.7,2840.3 1578.7,2840.2 1580.6,2839.8 1582.6,2839.0 1584.5,2838.0 1586.5,2836.8 1588.4,2835.3 1590.4,2833.8 1592.3,2832.1 1594.3,2830.5" fill="none" stroke="#4f433b" stroke-width="3.3" stroke-linecap="round" stroke-linejoin="round"/>
<polyline points="1611.6,2859.9 1613.6,2859.8 1615.5,2859.3 1617.4,2858.5 1619.3,2857.5 1621.2,2856.3 1623.2,2854.8 1625.1,2853.3 1627.0,2851.7 1628.9,2850.0 1630.9,2848.5 1632.8,2847.0 1634.7,2845.7 1636.6,2844.6 1638.5,2843.7 1640.5,2843.2 1642.4,2842.9 1644.3,2843.0 1646.2,2843.4 1648.2,2844.0 1650.1,2845.0 1652.0,2846.2" fill="none" stroke="#4f433b" stroke-width="3.3" stroke-linecap="round" stroke-linejoin="round"/>
<polyline points="1261.4,2892.7 1263.4,2892.6 1265.4,2892.0 1267.4,2891.2 1269.4,2890.0 1271.4,2888.7 1273.4,2887.1 1275.4,2885.4 1277.4,2883.7 1279.4,2882.0 1281.4,2880.3 1283.4,2878.9 1285.4,2877.7 1287.4,2876.7 1289.4,2876.1 1291.4,2875.8 1293.4,2875.8 1295.4,2876.2 1297.4,2876.9 1299.4,2878.0 1301.4,2879.3 1303.4,2880.8 1305.4,2882.4 1307.4,2884.2 1309.4,2885.9 1311.4,2887.6 1313.4,2889.1 1315.4,2890.4 1317.4,2891.5 1319.4,2892.2 1321.4,2892.6 1323.4,2892.7 1325.4,2892.4 1327.4,2891.8 1329.4,2890.9 1331.4,2889.7 1333.4,2888.2 1335.4,2886.6 1337.4,2884.9 1339.4,2883.2 1341.4,2881.5" fill="none" stroke="#4f433b" stroke-width="3.3" stroke-linecap="round" stroke-linejoin="round"/>
<polyline points="1352.3,2878.4 1354.3,2878.2 1356.2,2877.8 1358.2,2877.1 1360.1,2876.1 1362.1,2874.9 1364.0,2873.6 1366.0,2872.1 1367.9,2870.5 1369.9,2868.9 1371.8,2867.4 1373.8,2865.9 1375.8,2864.6 1377.7,2863.4 1379.7,2862.5 1381.6,2861.9 1383.6,2861.5 1385.5,2861.4 1387.5,2861.6 1389.4,2862.1 1391.4,2862.9 1393.3,2863.9 1395.3,2865.1 1397.2,2866.5 1399.2,2868.0 1401.1,2869.6 1403.1,2871.2 1405.0,2872.7 1407.0,2874.2 1408.9,2875.5 1410.9,2876.6 1412.8,2877.4 1414.8,2878.0 1416.7,2878.3 1418.7,2878.4 1420.6,2878.1 1422.6,2877.5 1424.5,2876.7 1426.5,2875.6 1428.4,2874.4 1430.4,2872.9 1432.3,2871.4" fill="none" stroke="#4f433b" stroke-width="3.3" stroke-linecap="round" stroke-linejoin="round"/>
<polyline points="1454.3,2891.5 1456.2,2891.3 1458.2,2890.8 1460.2,2890.0 1462.1,2888.8 1464.1,2887.5 1466.0,2885.9 1468.0,2884.3 1469.9,2882.5 1471.9,2880.8 1473.8,2879.2 1475.8,2877.8 1477.7,2876.5 1479.7,2875.5 1481.6,2874.9 1483.6,2874.5 1485.5,2874.5 1487.5,2874.9 1489.4,2875.6 1491.4,2876.6 1493.3,2877.8 1495.3,2879.3 1497.2,2880.9 1499.2,2882.6 1501.1,2884.3 1503.1,2886.0 1505.0,2887.5 1507.0,2888.9 1508.9,2890.0 1510.9,2890.8 1512.8,2891.3 1514.8,2891.5 1516.7,2891.3 1518.7,2890.8 1520.6,2889.9 1522.6,2888.8 1524.5,2887.4 1526.5,2885.8 1528.4,2884.2 1530.4,2882.4 1532.3,2880.7 1534.3,2879.1" fill="none" stroke="#4f433b" stroke-width="3.3" stroke-linecap="round" stroke-linejoin="round"/>
<polyline points="1556.1,2881.5 1558.1,2881.3 1560.0,2880.8 1562.0,2880.1 1563.9,2879.0 1565.9,2877.8 1567.8,2876.3 1569.8,2874.8 1571.7,2873.1 1573.7,2871.5 1575.7,2869.9 1577.6,2868.4 1579.6,2867.1 1581.5,2866.1 1583.5,2865.2 1585.4,2864.7 1587.4,2864.5 1589.3,2864.6 1591.3,2865.0 1593.2,2865.7 1595.2,2866.7 1597.1,2867.9 1599.1,2869.3 1601.0,2870.8 1603.0,2872.5 1604.9,2874.1 1606.9,2875.7 1608.8,2877.2 1610.8,2878.5 1612.7,2879.7 1614.7,2880.6 1616.6,2881.1 1618.6,2881.4 1620.5,2881.4 1622.5,2881.1 1624.4,2880.4 1626.4,2879.5 1628.3,2878.3 1630.3,2876.9 1632.2,2875.4 1634.2,2873.8 1636.1,2872.2" fill="none" stroke="#4f433b" stroke-width="3.3" stroke-linecap="round" stroke-linejoin="round"/>
<rect x="1271.4" y="2667.9" width="67.89999999999986" height="37.5" rx="3" fill="#2e6db6" stroke="#1c2a3c" stroke-width="2.5"/>
<rect x="1530" y="2746" width="86" height="30.800000000000182" rx="3" fill="#2e6db6" stroke="#1c2a3c" stroke-width="2.5"/>
<rect x="1280" y="2812.5" width="68" height="39.30000000000018" rx="3" fill="#2e6db6" stroke="#1c2a3c" stroke-width="2.5"/>
<rect x="1509" y="2873" width="85.59999999999991" height="34" rx="3" fill="#2e6db6" stroke="#1c2a3c" stroke-width="2.5"/>
<circle cx="1323" cy="2687.5" r="6" fill="#f22a2a"/>
<ellipse cx="1394.6" cy="2732" rx="41" ry="27" fill="none" stroke="#1a1a1a" stroke-width="3" stroke-dasharray="8 5"/>
<ellipse cx="1375" cy="2732" rx="6.5" ry="5.5" fill="#f22a2a"/>
<circle cx="1403.6" cy="2732" r="12.5" fill="#5c6bb6" stroke="#1f2440" stroke-width="1.6"/>
<line x1="1341" y1="2703" x2="1355.2" y2="2711.8" stroke="#1a1a1a" stroke-width="2.5"/>
<path d="M1362,2716 L1353.3,2714.9 L1357.1,2708.7 Z" fill="#1a1a1a"/>
<line x1="1423" y1="2752" x2="1438.0" y2="2774.5" stroke="#1a1a1a" stroke-width="2.5"/>
<path d="M1443,2782 L1434.6,2776.8 L1441.4,2772.3 Z" fill="#1a1a1a"/>
<line x1="1320" y1="2614" x2="1320" y2="2655" stroke="#1e1a18" stroke-width="2.5"/><circle cx="1320" cy="2655" r="3.5" fill="#1e1a18"/>
<circle cx="1445.1" cy="2873.1" r="12.9" fill="#f0a9b6" stroke="#2c3e48" stroke-width="1.5"/>
<circle cx="1468.9" cy="2872.8" r="12.9" fill="#f0a9b6" stroke="#2c3e48" stroke-width="1.5"/>
<circle cx="1491.0" cy="2874.0" r="13.2" fill="#f0a9b6" stroke="#2c3e48" stroke-width="1.5"/>
<circle cx="1454.3" cy="2855.2" r="14.0" fill="#f0a9b6" stroke="#2c3e48" stroke-width="1.5"/>
<circle cx="1476.7" cy="2854.9" r="13.0" fill="#f0a9b6" stroke="#2c3e48" stroke-width="1.5"/>
<circle cx="1442.1" cy="2834.2" r="13.6" fill="#f0a9b6" stroke="#2c3e48" stroke-width="1.5"/>
<circle cx="1466.0" cy="2837.1" r="13.7" fill="#f0a9b6" stroke="#2c3e48" stroke-width="1.5"/>
<circle cx="1487.3" cy="2834.7" r="13.3" fill="#f0a9b6" stroke="#2c3e48" stroke-width="1.5"/>
<circle cx="1456.6" cy="2818.2" r="13.6" fill="#f0a9b6" stroke="#2c3e48" stroke-width="1.5"/>
<circle cx="1478.9" cy="2816.0" r="12.8" fill="#f0a9b6" stroke="#2c3e48" stroke-width="1.5"/>
<circle cx="1448.8" cy="2795.3" r="12.8" fill="#f0a9b6" stroke="#2c3e48" stroke-width="1.5"/>
<circle cx="1470.8" cy="2796.3" r="13.0" fill="#f0a9b6" stroke="#2c3e48" stroke-width="1.5"/>
<circle cx="1463.5" cy="2784.5" r="13.8" fill="#f0a9b6" stroke="#2c3e48" stroke-width="1.5"/>
<circle cx="1441.2" cy="3059.3" r="14.1" fill="#f0a9b6" stroke="#2c3e48" stroke-width="1.5"/>
<circle cx="1463.3" cy="3058.3" r="13.6" fill="#f0a9b6" stroke="#2c3e48" stroke-width="1.5"/>
<circle cx="1485.7" cy="3056.5" r="12.9" fill="#f0a9b6" stroke="#2c3e48" stroke-width="1.5"/>
<circle cx="1456.9" cy="3037.0" r="12.8" fill="#f0a9b6" stroke="#2c3e48" stroke-width="1.5"/>
<circle cx="1477.9" cy="3038.0" r="14.2" fill="#f0a9b6" stroke="#2c3e48" stroke-width="1.5"/>
<circle cx="1499.7" cy="3038.1" r="13.5" fill="#f0a9b6" stroke="#2c3e48" stroke-width="1.5"/>
<circle cx="1443.7" cy="3020.1" r="13.0" fill="#f0a9b6" stroke="#2c3e48" stroke-width="1.5"/>
<circle cx="1465.8" cy="3017.7" r="14.2" fill="#f0a9b6" stroke="#2c3e48" stroke-width="1.5"/>
<circle cx="1488.0" cy="3017.9" r="13.6" fill="#f0a9b6" stroke="#2c3e48" stroke-width="1.5"/>
<circle cx="1457.4" cy="3001.1" r="13.9" fill="#f0a9b6" stroke="#2c3e48" stroke-width="1.5"/>
<circle cx="1479.8" cy="2997.9" r="14.1" fill="#f0a9b6" stroke="#2c3e48" stroke-width="1.5"/>
<circle cx="1447.4" cy="2982.1" r="13.2" fill="#f0a9b6" stroke="#2c3e48" stroke-width="1.5"/>
<circle cx="1469.1" cy="2980.6" r="13.3" fill="#f0a9b6" stroke="#2c3e48" stroke-width="1.5"/>
<circle cx="1492.9" cy="2980.7" r="14.1" fill="#f0a9b6" stroke="#2c3e48" stroke-width="1.5"/>
<circle cx="1460.9" cy="2961.5" r="12.9" fill="#f0a9b6" stroke="#2c3e48" stroke-width="1.5"/>
<circle cx="1484.0" cy="2961.3" r="13.9" fill="#f0a9b6" stroke="#2c3e48" stroke-width="1.5"/>
<circle cx="1471.6" cy="2961.5" r="12.9" fill="#f0a9b6" stroke="#2c3e48" stroke-width="1.5"/>
<line x1="1301.8" y1="2745" x2="1301.8" y2="2784" stroke="#1e1a18" stroke-width="3.2"/>
<path d="M1296.3,2779 L1307.3,2779 L1301.8,2791 Z" fill="#1e1a18"/>
<circle cx="1301.8" cy="2732" r="13" fill="#5c6bb6" stroke="#1f2440" stroke-width="2"/>
<line x1="1455" y1="2695" x2="1455" y2="2734" stroke="#1e1a18" stroke-width="3.2"/>
<path d="M1449.5,2729 L1460.5,2729 L1455,2741 Z" fill="#1e1a18"/>
<circle cx="1455" cy="2682" r="13" fill="#5c6bb6" stroke="#1f2440" stroke-width="2"/>
<line x1="1523" y1="2686" x2="1523" y2="2725" stroke="#1e1a18" stroke-width="3.2"/>
<path d="M1517.5,2720 L1528.5,2720 L1523,2732 Z" fill="#1e1a18"/>
<circle cx="1523" cy="2673" r="13" fill="#5c6bb6" stroke="#1f2440" stroke-width="2"/>
<line x1="1610.7" y1="2664.8" x2="1610.7" y2="2703.8" stroke="#1e1a18" stroke-width="3.2"/>
<path d="M1605.2,2698.8 L1616.2,2698.8 L1610.7,2710.8 Z" fill="#1e1a18"/>
<circle cx="1610.7" cy="2651.8" r="13" fill="#5c6bb6" stroke="#1f2440" stroke-width="2"/>
<line x1="1368" y1="2843" x2="1368" y2="2882" stroke="#1e1a18" stroke-width="3.2"/>
<path d="M1362.5,2877 L1373.5,2877 L1368,2889 Z" fill="#1e1a18"/>
<circle cx="1368" cy="2830" r="13" fill="#5c6bb6" stroke="#1f2440" stroke-width="2"/>
<line x1="1619.6" y1="2836" x2="1619.6" y2="2875" stroke="#1e1a18" stroke-width="3.2"/>
<path d="M1614.1,2870 L1625.1,2870 L1619.6,2882 Z" fill="#1e1a18"/>
<circle cx="1619.6" cy="2823" r="13" fill="#5c6bb6" stroke="#1f2440" stroke-width="2"/>
<text x="1268.8" y="2607.0" font-family='"Liberation Serif","Times New Roman",serif' font-size="56.1" font-weight="bold" textLength="106.0" lengthAdjust="spacingAndGlyphs" fill="#000" >TiO</text>
<text x="1371.5" y="2618.0" font-family='"Liberation Serif","Times New Roman",serif' font-size="37.9" font-weight="bold" textLength="17.5" lengthAdjust="spacingAndGlyphs" fill="#000" >2</text>
<text x="1432.2" y="2617.0" font-family='"Liberation Serif","Times New Roman",serif' font-size="70.8" font-weight="bold" textLength="50.0" lengthAdjust="spacingAndGlyphs" fill="#000" >+</text>
<rect x="1460" y="3120.5" width="20" height="5" fill="#111"/>
<text x="1328.0" y="2530.0" font-family='"Liberation Serif","Times New Roman",serif' font-size="56.1" font-weight="bold" textLength="281.2" lengthAdjust="spacingAndGlyphs" fill="#000" >Voltage &gt; 0</text>
<linearGradient id="boltg1" gradientUnits="userSpaceOnUse" x1="1166.4" y1="2573.0" x2="1266.3" y2="2677.7"><stop offset="0" stop-color="#92cdee"/><stop offset="0.35" stop-color="#a99ad6"/><stop offset="0.6" stop-color="#9d62c2"/><stop offset="1" stop-color="#8e3aae"/></linearGradient>
<polygon points="1146.4,2607.0 1187.0,2573.0 1220.4,2603.4 1213.7,2610.6 1247.0,2635.5 1242.8,2644.6 1291.3,2687.7 1220.4,2664.0 1227.6,2656.7 1184.0,2637.3 1192.5,2627.6" fill="url(#boltg1)"/>
<rect x="1853" y="2585" width="224.3" height="443.4" fill="#3a7ac2"/>
<rect x="2078" y="2648" width="225" height="50.4" fill="#3d3d3d"/>
<ellipse cx="1956" cy="2601.4" rx="14.5" ry="10.7" fill="#ef1d2a"/>
<ellipse cx="2002" cy="2601.4" rx="14.5" ry="10.7" fill="#ef1d2a"/>
<ellipse cx="2184" cy="2675.6" rx="10" ry="8" fill="#ef1d2a"/>
<ellipse cx="1893" cy="2667.4" rx="19.5" ry="17.5" fill="#d9732e"/>
<ellipse cx="2043.3" cy="2650" rx="19.5" ry="17.5" fill="#d9732e"/>
<ellipse cx="1990" cy="2716" rx="19.5" ry="17.5" fill="#d9732e"/>
<ellipse cx="1950" cy="2772.7" rx="19.5" ry="17.5" fill="#d9732e"/>
<ellipse cx="2043" cy="2798" rx="19.5" ry="17.5" fill="#d9732e"/>
<ellipse cx="1885.6" cy="2860" rx="19.5" ry="17.5" fill="#d9732e"/>
<ellipse cx="2031" cy="2903.7" rx="19.5" ry="17.5" fill="#d9732e"/>
<ellipse cx="1969" cy="2863.4" rx="17" ry="13" fill="#6c8fb8" stroke="#d9732e" stroke-width="6"/>
<ellipse cx="1923.5" cy="2898.8" rx="17" ry="13" fill="#6c8fb8" stroke="#d9732e" stroke-width="6"/>
<ellipse cx="1950" cy="2772.7" rx="48.5" ry="24.3" fill="none" stroke="#1a1a1a" stroke-width="3.2" stroke-dasharray="9 5"/>
<path d="M1922,2772 C1918,2700 1950,2690 1960,2660 C1966,2640 1972,2630 1975,2625" fill="none" stroke="#111" stroke-width="3"/>
<path d="M1970,2618 L1982,2629 L1968,2632 Z" fill="#111"/>
<path d="M1938,2796 C1942,2820 1950,2825 1960,2830 C1965,2834 1967,2836 1968,2838" fill="none" stroke="#111" stroke-width="3"/>
<path d="M1961,2834 L1973,2842 L1969,2828 Z" fill="#111"/>
<path d="M1980,2528 C2010,2470 2150,2460 2190,2570" fill="none" stroke="#a57a2c" stroke-width="8" stroke-linecap="round"/>
<path d="M2176,2566 L2199,2592 L2206,2560 Z" fill="#a57a2c"/>
<linearGradient id="boltg2" gradientUnits="userSpaceOnUse" x1="1692.1" y1="2619.5" x2="1817.6" y2="2777.3"><stop offset="0" stop-color="#92cdee"/><stop offset="0.35" stop-color="#a99ad6"/><stop offset="0.6" stop-color="#9d62c2"/><stop offset="1" stop-color="#8e3aae"/></linearGradient>
<polygon points="1672.1,2664.7 1715.9,2619.5 1757.0,2664.7 1746.9,2672.8 1790.7,2711.9 1783.3,2722.0 1842.6,2787.3 1760.4,2746.9 1768.5,2736.1 1715.9,2708.5 1726.7,2694.3" fill="url(#boltg2)"/>
<text x="1876.1" y="2573.7" font-family='"Liberation Serif","Times New Roman",serif' font-size="55.6" font-weight="bold" textLength="172.7" lengthAdjust="spacingAndGlyphs" fill="#000" >-4.2eV</text>
<text x="2102.1" y="2639.0" font-family='"Liberation Serif","Times New Roman",serif' font-size="55.3" font-weight="bold" textLength="165.2" lengthAdjust="spacingAndGlyphs" fill="#000" >-4.6eV</text>
<text x="2091.1" y="2755.7" font-family='"Liberation Serif","Times New Roman",serif' font-size="48.4" font-weight="bold" textLength="186.1" lengthAdjust="spacingAndGlyphs" fill="#000" >MXene</text>
<text x="1904.2" y="3005.5" font-family='"Liberation Serif","Times New Roman",serif' font-size="55.8" font-weight="bold" textLength="110.6" lengthAdjust="spacingAndGlyphs" fill="#000" >TiO</text>
<text x="2009.2" y="3023.0" font-family='"Liberation Serif","Times New Roman",serif' font-size="45.5" font-weight="bold" textLength="18.6" lengthAdjust="spacingAndGlyphs" fill="#000" >2</text>
<text x="1879.0" y="3078.3" font-family='"Liberation Serif","Times New Roman",serif' font-size="52.0" font-weight="bold" textLength="169.7" lengthAdjust="spacingAndGlyphs" fill="#000" >-7.4eV</text>
<ellipse cx="1708.5" cy="3129" rx="9" ry="7.5" fill="#ef1d2a"/>
<text x="1727.2" y="3146.0" font-family='"Liberation Serif","Times New Roman",serif' font-size="55.4" font-weight="bold" textLength="217.8" lengthAdjust="spacingAndGlyphs" fill="#000" >Electron</text>
<ellipse cx="2002" cy="3131.7" rx="15" ry="10.5" fill="none" stroke="#e8781c" stroke-width="4.5"/>
<text x="2018.4" y="3146.0" font-family='"Liberation Serif","Times New Roman",serif' font-size="56.5" font-weight="bold" textLength="49.9" lengthAdjust="spacingAndGlyphs" fill="#000" >V</text>
<text x="2068.5" y="3158.0" font-family='"Liberation Serif","Times New Roman",serif' font-size="38.3" font-weight="bold" textLength="20.1" lengthAdjust="spacingAndGlyphs" fill="#000" >o</text>
<text x="2092.6" y="3125.0" font-family='"Liberation Serif","Times New Roman",serif' font-size="33.9" font-weight="bold" textLength="39.6" lengthAdjust="spacingAndGlyphs" fill="#000" >2+</text>
<ellipse cx="2213" cy="3126.8" rx="48.5" ry="21.8" fill="none" stroke="#1a1a1a" stroke-width="3.2" stroke-dasharray="9 5"/>
<ellipse cx="2213" cy="3126.8" rx="18" ry="15" fill="#ef8d3a"/>
<text x="2275.4" y="3146.0" font-family='"Liberation Serif","Times New Roman",serif' font-size="56.5" font-weight="bold" textLength="45.3" lengthAdjust="spacingAndGlyphs" fill="#000" >V</text>
<text x="2319.5" y="3158.0" font-family='"Liberation Serif","Times New Roman",serif' font-size="38.3" font-weight="bold" textLength="16.6" lengthAdjust="spacingAndGlyphs" fill="#000" >o</text>
<rect x="177.9" y="3291.8" width="408.30000000000007" height="85.19999999999982" fill="#b8c3e0"/>
<rect x="177.9" y="3377" width="408.30000000000007" height="290.4000000000001" fill="#ffffff"/>
<rect x="177.9" y="3667.4" width="408.30000000000007" height="158.29999999999973" fill="#8ea6b8"/>
<rect x="177.9" y="3825.7" width="408.30000000000007" height="88.30000000000018" fill="#5e6d7c"/>
<rect x="177.9" y="3291.8" width="408.30000000000007" height="622.1999999999998" fill="none" stroke="#2b2622" stroke-width="3.2"/>
<line x1="177.9" y1="3377" x2="586.2" y2="3377" stroke="#2b2622" stroke-width="3.2"/>
<line x1="177.9" y1="3667.4" x2="586.2" y2="3667.4" stroke="#2b2622" stroke-width="3.2"/>
<line x1="177.9" y1="3825.7" x2="586.2" y2="3825.7" stroke="#2b2622" stroke-width="3.2"/>
<polyline points="185.1,3408.0 187.1,3407.8 189.0,3407.4 191.0,3406.7 192.9,3405.8 194.9,3404.7 196.8,3403.4 198.8,3402.0 200.7,3400.5 202.7,3398.9 204.7,3397.4 206.6,3395.9 208.6,3394.6 210.5,3393.4 212.5,3392.4 214.4,3391.7 216.4,3391.2 218.3,3391.0 220.3,3391.1 222.2,3391.4 224.2,3392.0 226.1,3392.9 228.1,3393.9 230.0,3395.2 232.0,3396.6 233.9,3398.1 235.9,3399.6 237.8,3401.2 239.8,3402.6 241.7,3404.0 243.7,3405.2 245.6,3406.3 247.6,3407.1 249.5,3407.6 251.5,3407.9 253.4,3407.9 255.4,3407.7 257.3,3407.1 259.3,3406.3 261.2,3405.3 263.2,3404.1 265.1,3402.8" fill="none" stroke="#4f433b" stroke-width="3.3" stroke-linecap="round" stroke-linejoin="round"/>
<polyline points="377.8,3405.0 379.7,3404.8 381.7,3404.4 383.6,3403.6 385.6,3402.6 387.5,3401.4 389.5,3400.0 391.4,3398.4 393.4,3396.8 395.3,3395.2 397.3,3393.6 399.2,3392.2 401.2,3390.8 403.1,3389.7 405.1,3388.9 407.0,3388.3 409.0,3388.0 410.9,3388.0 412.9,3388.4 414.8,3389.0 416.8,3389.9 418.8,3391.0 420.7,3392.4 422.7,3393.9 424.6,3395.4 426.6,3397.1 428.5,3398.7 430.5,3400.2 432.4,3401.6 434.4,3402.8 436.3,3403.7 438.3,3404.5 440.2,3404.9 442.2,3405.0 444.1,3404.8 446.1,3404.3 448.0,3403.5 450.0,3402.4 451.9,3401.2 453.9,3399.7 455.8,3398.2 457.8,3396.6" fill="none" stroke="#4f433b" stroke-width="3.3" stroke-linecap="round" stroke-linejoin="round"/>
<polyline points="475.3,3396.8 477.3,3396.7 479.2,3396.2 481.2,3395.3 483.1,3394.2 485.1,3392.9 487.0,3391.3 489.0,3389.7 490.9,3388.0 492.9,3386.3 494.8,3384.7 496.8,3383.2 498.7,3382.0 500.7,3381.0 502.7,3380.3 504.6,3379.9 506.6,3379.9 508.5,3380.2 510.5,3380.8 512.4,3381.8 514.4,3383.0 516.3,3384.5 518.3,3386.1 520.2,3387.7 522.2,3389.5 524.1,3391.1 526.1,3392.7 528.0,3394.1 530.0,3395.2 531.9,3396.1 533.9,3396.6 535.8,3396.8 537.8,3396.7 539.7,3396.2 541.7,3395.5 543.6,3394.4 545.6,3393.1 547.5,3391.6 549.5,3389.9 551.4,3388.2 553.4,3386.5 555.3,3384.9" fill="none" stroke="#4f433b" stroke-width="3.3" stroke-linecap="round" stroke-linejoin="round"/>
<polyline points="182.9,3430.4 184.9,3431.7 186.9,3433.3 188.9,3435.0 190.9,3436.8 192.9,3438.5 194.9,3440.2 196.9,3441.7 198.9,3442.9 200.9,3443.9 202.9,3444.5 204.9,3444.8 206.9,3444.8 208.9,3444.3 210.9,3443.5 212.9,3442.5 214.9,3441.1 216.9,3439.5 218.9,3437.9 220.9,3436.1 222.9,3434.3" fill="none" stroke="#4f433b" stroke-width="3.3" stroke-linecap="round" stroke-linejoin="round"/>
<polyline points="244.6,3434.0 246.6,3433.9 248.5,3433.4 250.5,3432.7 252.4,3431.7 254.4,3430.5 256.3,3429.2 258.3,3427.7 260.3,3426.1 262.2,3424.5 264.2,3422.9 266.1,3421.5 268.1,3420.1 270.0,3419.0 272.0,3418.1 273.9,3417.5 275.9,3417.1 277.8,3417.0 279.8,3417.3 281.7,3417.8 283.7,3418.6 285.6,3419.6 287.6,3420.9 289.5,3422.3 291.5,3423.8 293.4,3425.4 295.4,3427.0 297.3,3428.5 299.3,3430.0 301.2,3431.2 303.2,3432.3 305.1,3433.1 307.1,3433.7 309.0,3434.0 311.0,3434.0 312.9,3433.7 314.9,3433.0 316.8,3432.2 318.8,3431.1 320.7,3429.8 322.7,3428.3 324.6,3426.8" fill="none" stroke="#4f433b" stroke-width="3.3" stroke-linecap="round" stroke-linejoin="round"/>
<polyline points="342.0,3440.6 344.0,3440.4 345.9,3439.9 347.9,3439.0 349.8,3437.9 351.8,3436.5 353.7,3435.0 355.7,3433.3 357.6,3431.5 359.6,3429.8 361.5,3428.2 363.5,3426.8 365.4,3425.5 367.4,3424.6 369.3,3423.9 371.3,3423.6 373.2,3423.6 375.2,3424.0 377.1,3424.7 379.1,3425.7 381.1,3427.0 383.0,3428.5 385.0,3430.2 386.9,3431.9 388.9,3433.6 390.8,3435.3 392.8,3436.8 394.7,3438.1 396.7,3439.2 398.6,3440.0 400.6,3440.4 402.5,3440.6 404.5,3440.3 406.4,3439.7 408.4,3438.8 410.3,3437.6 412.3,3436.2 414.2,3434.6 416.2,3433.0 418.1,3431.2 420.1,3429.5 422.0,3427.9" fill="none" stroke="#4f433b" stroke-width="3.3" stroke-linecap="round" stroke-linejoin="round"/>
<polyline points="438.4,3426.8 440.3,3426.6 442.3,3426.1 444.2,3425.3 446.2,3424.2 448.1,3422.9 450.1,3421.4 452.0,3419.8 454.0,3418.1 455.9,3416.4 457.9,3414.8 459.8,3413.3 461.8,3412.1 463.7,3411.0 465.7,3410.3 467.6,3409.9 469.6,3409.8 471.5,3410.0 473.5,3410.6 475.4,3411.5 477.4,3412.6 479.3,3414.0 481.3,3415.5 483.2,3417.2 485.2,3418.9 487.1,3420.5 489.1,3422.1 491.1,3423.5 493.0,3424.8 495.0,3425.7 496.9,3426.4 498.9,3426.7 500.8,3426.7 502.8,3426.4 504.7,3425.8 506.7,3424.8 508.6,3423.6 510.6,3422.2 512.5,3420.6 514.5,3419.0 516.4,3417.3 518.4,3415.6" fill="none" stroke="#4f433b" stroke-width="3.3" stroke-linecap="round" stroke-linejoin="round"/>
<polyline points="531.3,3439.5 533.3,3439.4 535.3,3438.9 537.3,3438.1 539.3,3437.0 541.3,3435.7 543.3,3434.3 545.3,3432.7 547.2,3431.0 549.2,3429.3 551.2,3427.7 553.2,3426.3 555.2,3425.0 557.2,3423.9 559.2,3423.2 561.2,3422.7 563.2,3422.5 565.2,3422.7 567.2,3423.2 569.2,3424.0 571.2,3425.1 573.2,3426.4 575.2,3427.9 577.2,3429.5 579.2,3431.2 581.2,3432.8" fill="none" stroke="#4f433b" stroke-width="3.3" stroke-linecap="round" stroke-linejoin="round"/>
<polyline points="186.2,3483.2 188.2,3483.1 190.1,3482.6 192.1,3481.9 194.0,3480.9 196.0,3479.6 197.9,3478.2 199.9,3476.7 201.8,3475.1 203.8,3473.4 205.7,3471.9 207.7,3470.4 209.6,3469.1 211.6,3468.0 213.5,3467.1 215.5,3466.5 217.4,3466.3 219.4,3466.3 221.3,3466.6 223.3,3467.3 225.2,3468.2 227.2,3469.3 229.1,3470.7 231.1,3472.2 233.0,3473.8 235.0,3475.4 236.9,3477.0 238.9,3478.5 240.8,3479.9 242.8,3481.1 244.7,3482.0 246.7,3482.7 248.6,3483.1 250.6,3483.2 252.5,3483.0 254.5,3482.5 256.4,3481.7 258.4,3480.6 260.4,3479.4 262.3,3477.9 264.3,3476.4 266.2,3474.7" fill="none" stroke="#4f433b" stroke-width="3.3" stroke-linecap="round" stroke-linejoin="round"/>
<polyline points="284.2,3468.8 286.1,3468.6 288.1,3468.1 290.0,3467.3 292.0,3466.3 293.9,3465.0 295.9,3463.5 297.8,3461.9 299.8,3460.2 301.7,3458.6 303.7,3457.0 305.6,3455.5 307.6,3454.2 309.5,3453.2 311.5,3452.4 313.4,3451.9 315.4,3451.8 317.3,3452.0 319.3,3452.5 321.2,3453.3 323.2,3454.3 325.1,3455.6 327.1,3457.1 329.0,3458.7 331.0,3460.4 332.9,3462.1 334.9,3463.7 336.8,3465.1 338.8,3466.4 340.7,3467.4 342.7,3468.2 344.6,3468.6 346.6,3468.8 348.5,3468.6 350.5,3468.0 352.4,3467.2 354.4,3466.1 356.4,3464.8 358.3,3463.3 360.3,3461.7 362.2,3460.0 364.2,3458.4" fill="none" stroke="#4f433b" stroke-width="3.3" stroke-linecap="round" stroke-linejoin="round"/>
<polyline points="386.1,3486.1 388.1,3485.9 390.0,3485.5 392.0,3484.8 393.9,3483.9 395.9,3482.7 397.8,3481.4 399.8,3480.0 401.7,3478.4 403.7,3476.9 405.6,3475.3 407.6,3473.9 409.5,3472.5 411.5,3471.4 413.4,3470.4 415.4,3469.7 417.3,3469.3 419.3,3469.1 421.2,3469.2 423.2,3469.6 425.2,3470.3 427.1,3471.2 429.1,3472.3 431.0,3473.6 433.0,3475.0 434.9,3476.6 436.9,3478.1 438.8,3479.7 440.8,3481.1 442.7,3482.5 444.7,3483.7 446.6,3484.7 448.6,3485.4 450.5,3485.9 452.5,3486.1 454.4,3486.0 456.4,3485.6 458.3,3485.0 460.3,3484.1 462.2,3483.0 464.2,3481.7 466.1,3480.3" fill="none" stroke="#4f433b" stroke-width="3.3" stroke-linecap="round" stroke-linejoin="round"/>
<polyline points="484.6,3467.6 486.6,3467.5 488.5,3467.0 490.5,3466.2 492.4,3465.1 494.4,3463.8 496.3,3462.3 498.3,3460.7 500.2,3459.0 502.2,3457.3 504.1,3455.7 506.1,3454.3 508.0,3453.0 510.0,3452.0 511.9,3451.2 513.9,3450.8 515.8,3450.6 517.8,3450.9 519.7,3451.4 521.7,3452.2 523.6,3453.4 525.6,3454.7 527.5,3456.2 529.5,3457.8 531.5,3459.5 533.4,3461.2 535.4,3462.8 537.3,3464.2 539.3,3465.5 541.2,3466.5 543.2,3467.2 545.1,3467.6 547.1,3467.6 549.0,3467.4 551.0,3466.8 552.9,3465.9 554.9,3464.7 556.8,3463.3 558.8,3461.8 560.7,3460.2 562.7,3458.5 564.6,3456.8" fill="none" stroke="#4f433b" stroke-width="3.3" stroke-linecap="round" stroke-linejoin="round"/>
<polyline points="182.9,3503.0 184.9,3504.3 186.8,3505.7 188.8,3507.2 190.8,3508.8 192.7,3510.3 194.7,3511.8 196.6,3513.2 198.6,3514.4 200.6,3515.4 202.5,3516.2 204.5,3516.8 206.5,3517.0 208.4,3517.0 210.4,3516.7 212.3,3516.0 214.3,3515.2 216.3,3514.1 218.2,3512.8 220.2,3511.4 222.2,3509.9" fill="none" stroke="#4f433b" stroke-width="3.3" stroke-linecap="round" stroke-linejoin="round"/>
<polyline points="236.8,3508.5 238.7,3508.4 240.7,3507.9 242.7,3507.2 244.6,3506.3 246.6,3505.2 248.5,3503.8 250.5,3502.4 252.4,3500.9 254.4,3499.3 256.3,3497.8 258.3,3496.3 260.2,3495.0 262.2,3493.8 264.1,3492.8 266.1,3492.1 268.0,3491.7 270.0,3491.5 271.9,3491.6 273.9,3492.0 275.8,3492.7 277.8,3493.6 279.7,3494.7 281.7,3496.0 283.6,3497.4 285.6,3499.0 287.5,3500.5 289.5,3502.1 291.4,3503.5 293.4,3504.9 295.3,3506.1 297.3,3507.1 299.2,3507.8 301.2,3508.3 303.1,3508.5 305.1,3508.4 307.0,3508.0 309.0,3507.4 310.9,3506.5 312.9,3505.4 314.8,3504.1 316.8,3502.7" fill="none" stroke="#4f433b" stroke-width="3.3" stroke-linecap="round" stroke-linejoin="round"/>
<polyline points="326.8,3515.5 328.8,3515.4 330.7,3515.0 332.7,3514.3 334.6,3513.4 336.6,3512.2 338.5,3510.9 340.5,3509.5 342.4,3508.0 344.4,3506.4 346.3,3504.9 348.3,3503.4 350.2,3502.1 352.2,3500.9 354.1,3500.0 356.1,3499.2 358.0,3498.7 360.0,3498.5 361.9,3498.6 363.9,3498.9 365.8,3499.6 367.8,3500.4 369.7,3501.5 371.7,3502.8 373.6,3504.2 375.6,3505.7 377.5,3507.2 379.5,3508.8 381.4,3510.2 383.4,3511.6 385.3,3512.8 387.3,3513.9 389.2,3514.7 391.2,3515.2 393.1,3515.5 395.1,3515.5 397.0,3515.2 399.0,3514.6 401.0,3513.8 402.9,3512.8 404.9,3511.6 406.8,3510.2" fill="none" stroke="#4f433b" stroke-width="3.3" stroke-linecap="round" stroke-linejoin="round"/>
<polyline points="422.4,3508.7 424.4,3508.5 426.3,3508.0 428.3,3507.3 430.3,3506.2 432.2,3505.0 434.2,3503.5 436.1,3502.0 438.1,3500.3 440.0,3498.7 442.0,3497.1 443.9,3495.6 445.9,3494.3 447.8,3493.3 449.8,3492.4 451.7,3491.9 453.7,3491.7 455.6,3491.8 457.6,3492.2 459.5,3492.9 461.5,3493.9 463.4,3495.1 465.4,3496.5 467.3,3498.1 469.3,3499.7 471.2,3501.4 473.2,3503.0 475.1,3504.5 477.1,3505.8 479.0,3506.9 481.0,3507.8 482.9,3508.4 484.9,3508.7 486.8,3508.6 488.8,3508.3 490.7,3507.6 492.7,3506.7 494.6,3505.5 496.6,3504.1 498.5,3502.6 500.5,3501.0 502.4,3499.3" fill="none" stroke="#4f433b" stroke-width="3.3" stroke-linecap="round" stroke-linejoin="round"/>
<polyline points="513.3,3518.9 515.3,3518.7 517.3,3518.3 519.3,3517.5 521.3,3516.5 523.3,3515.3 525.3,3513.9 527.3,3512.4 529.3,3510.8 531.3,3509.2 533.3,3507.7 535.3,3506.2 537.3,3504.9 539.3,3503.8 541.3,3502.9 543.3,3502.2 545.3,3501.9 547.3,3501.9 549.3,3502.2 551.3,3502.7 553.3,3503.6 555.2,3504.7 557.2,3506.0 559.2,3507.4 561.2,3509.0 563.2,3510.6 565.2,3512.2 567.2,3513.7 569.2,3515.1 571.2,3516.3 573.2,3517.4 575.2,3518.2 577.2,3518.7 579.2,3518.9 581.2,3518.8" fill="none" stroke="#4f433b" stroke-width="3.3" stroke-linecap="round" stroke-linejoin="round"/>
<polyline points="183.2,3557.3 185.2,3557.2 187.1,3556.8 189.1,3556.1 191.0,3555.1 193.0,3553.9 194.9,3552.6 196.9,3551.1 198.8,3549.6 200.8,3548.0 202.7,3546.4 204.7,3545.0 206.6,3543.6 208.6,3542.5 210.5,3541.6 212.5,3540.9 214.4,3540.5 216.4,3540.3 218.3,3540.5 220.3,3541.0 222.2,3541.7 224.2,3542.6 226.1,3543.8 228.1,3545.2 230.1,3546.7 232.0,3548.2 234.0,3549.8 235.9,3551.3 237.9,3552.8 239.8,3554.1 241.8,3555.2 243.7,3556.2 245.7,3556.8 247.6,3557.2 249.6,3557.3 251.5,3557.1 253.5,3556.7 255.4,3555.9 257.4,3554.9 259.3,3553.7 261.3,3552.4 263.2,3550.9" fill="none" stroke="#4f433b" stroke-width="3.3" stroke-linecap="round" stroke-linejoin="round"/>
<polyline points="274.6,3538.6 276.6,3538.4 278.5,3537.9 280.5,3537.1 282.4,3536.0 284.4,3534.6 286.3,3533.1 288.3,3531.4 290.2,3529.7 292.2,3528.0 294.1,3526.4 296.1,3525.0 298.1,3523.7 300.0,3522.7 302.0,3522.0 303.9,3521.7 305.9,3521.6 307.8,3521.9 309.8,3522.6 311.7,3523.5 313.7,3524.7 315.6,3526.2 317.6,3527.8 319.5,3529.5 321.5,3531.2 323.4,3532.8 325.4,3534.4 327.3,3535.8 329.3,3536.9 331.2,3537.8 333.2,3538.4 335.1,3538.6 337.1,3538.5 339.0,3538.0 341.0,3537.2 342.9,3536.2 344.9,3534.9 346.8,3533.4 348.8,3531.7 350.7,3530.0 352.7,3528.3 354.6,3526.7" fill="none" stroke="#4f433b" stroke-width="3.3" stroke-linecap="round" stroke-linejoin="round"/>
<polyline points="365.4,3556.0 367.3,3555.8 369.3,3555.3 371.2,3554.5 373.2,3553.4 375.1,3552.1 377.1,3550.6 379.0,3549.0 381.0,3547.3 382.9,3545.6 384.9,3544.0 386.8,3542.5 388.8,3541.3 390.7,3540.2 392.7,3539.5 394.6,3539.1 396.6,3539.0 398.5,3539.3 400.5,3539.8 402.4,3540.7 404.4,3541.9 406.3,3543.3 408.3,3544.8 410.2,3546.5 412.2,3548.2 414.1,3549.8 416.1,3551.4 418.0,3552.8 420.0,3554.0 421.9,3555.0 423.9,3555.6 425.8,3556.0 427.8,3556.0 429.7,3555.6 431.7,3554.9 433.6,3554.0 435.6,3552.8 437.6,3551.3 439.5,3549.8 441.5,3548.1 443.4,3546.4 445.4,3544.7" fill="none" stroke="#4f433b" stroke-width="3.3" stroke-linecap="round" stroke-linejoin="round"/>
<polyline points="462.1,3540.2 464.0,3540.0 466.0,3539.5 467.9,3538.7 469.9,3537.6 471.8,3536.3 473.8,3534.8 475.7,3533.2 477.7,3531.5 479.6,3529.8 481.6,3528.2 483.5,3526.8 485.5,3525.5 487.4,3524.5 489.4,3523.7 491.3,3523.3 493.3,3523.2 495.2,3523.5 497.2,3524.0 499.1,3524.9 501.1,3526.1 503.0,3527.4 505.0,3529.0 506.9,3530.6 508.9,3532.3 510.8,3534.0 512.8,3535.5 514.8,3537.0 516.7,3538.2 518.7,3539.1 520.6,3539.8 522.6,3540.2 524.5,3540.2 526.5,3539.8 528.4,3539.2 530.4,3538.3 532.3,3537.0 534.3,3535.6 536.2,3534.1 538.2,3532.4 540.1,3530.7 542.1,3529.1" fill="none" stroke="#4f433b" stroke-width="3.3" stroke-linecap="round" stroke-linejoin="round"/>
<polyline points="229.9,3580.3 231.8,3580.2 233.8,3579.7 235.7,3579.0 237.7,3578.1 239.6,3576.9 241.6,3575.6 243.5,3574.1 245.5,3572.6 247.4,3571.0 249.4,3569.5 251.3,3568.0 253.3,3566.7 255.2,3565.5 257.2,3564.6 259.1,3563.9 261.1,3563.4 263.0,3563.3 265.0,3563.4 266.9,3563.9 268.9,3564.5 270.8,3565.5 272.8,3566.6 274.7,3568.0 276.7,3569.4 278.7,3571.0 280.6,3572.5 282.6,3574.1 284.5,3575.5 286.5,3576.9 288.4,3578.0 290.4,3579.0 292.3,3579.7 294.3,3580.1 296.2,3580.3 298.2,3580.2 300.1,3579.7 302.1,3579.1 304.0,3578.1 306.0,3577.0 307.9,3575.7 309.9,3574.2" fill="none" stroke="#4f433b" stroke-width="3.3" stroke-linecap="round" stroke-linejoin="round"/>
<polyline points="323.5,3592.6 325.5,3592.4 327.4,3591.9 329.4,3591.1 331.3,3590.1 333.3,3588.7 335.2,3587.2 337.2,3585.6 339.1,3583.9 341.1,3582.3 343.0,3580.7 345.0,3579.2 346.9,3577.9 348.9,3576.9 350.8,3576.1 352.8,3575.7 354.7,3575.6 356.7,3575.8 358.6,3576.4 360.6,3577.3 362.5,3578.4 364.5,3579.7 366.4,3581.3 368.4,3582.9 370.3,3584.6 372.3,3586.3 374.3,3587.8 376.2,3589.3 378.2,3590.5 380.1,3591.5 382.1,3592.2 384.0,3592.5 386.0,3592.6 387.9,3592.3 389.9,3591.7 391.8,3590.8 393.8,3589.6 395.7,3588.2 397.7,3586.6 399.6,3585.0 401.6,3583.3 403.5,3581.6" fill="none" stroke="#4f433b" stroke-width="3.3" stroke-linecap="round" stroke-linejoin="round"/>
<polyline points="418.3,3579.4 420.2,3579.2 422.2,3578.8 424.1,3578.0 426.1,3577.1 428.0,3575.9 430.0,3574.5 431.9,3573.0 433.9,3571.4 435.8,3569.8 437.8,3568.3 439.7,3566.8 441.7,3565.5 443.6,3564.3 445.6,3563.4 447.5,3562.8 449.5,3562.4 451.4,3562.4 453.4,3562.6 455.3,3563.2 457.3,3564.0 459.2,3565.0 461.2,3566.3 463.1,3567.7 465.1,3569.2 467.0,3570.8 469.0,3572.4 470.9,3573.9 472.9,3575.4 474.8,3576.6 476.8,3577.7 478.7,3578.5 480.7,3579.1 482.6,3579.3 484.6,3579.3 486.5,3579.0 488.5,3578.4 490.4,3577.5 492.4,3576.3 494.3,3575.0 496.3,3573.6 498.3,3572.0" fill="none" stroke="#4f433b" stroke-width="3.3" stroke-linecap="round" stroke-linejoin="round"/>
<polyline points="509.5,3593.4 511.4,3593.3 513.4,3592.8 515.4,3591.9 517.4,3590.8 519.4,3589.4 521.4,3587.9 523.4,3586.2 525.4,3584.5 527.4,3582.8 529.4,3581.2 531.4,3579.7 533.4,3578.5 535.4,3577.5 537.4,3576.8 539.3,3576.5 541.3,3576.5 543.3,3576.8 545.3,3577.5 547.3,3578.5 549.3,3579.8 551.3,3581.2 553.3,3582.9 555.3,3584.6 557.3,3586.3 559.3,3587.9 561.3,3589.5 563.3,3590.8 565.3,3592.0 567.2,3592.8 569.2,3593.3 571.2,3593.4 573.2,3593.3 575.2,3592.7 577.2,3591.9 579.2,3590.7 581.2,3589.4" fill="none" stroke="#4f433b" stroke-width="3.3" stroke-linecap="round" stroke-linejoin="round"/>
<polyline points="183.2,3626.4 185.1,3626.3 187.1,3625.7 189.0,3624.9 191.0,3623.8 192.9,3622.4 194.9,3620.9 196.8,3619.2 198.8,3617.5 200.7,3615.8 202.7,3614.2 204.6,3612.8 206.6,3611.5 208.5,3610.5 210.5,3609.8 212.4,3609.5 214.4,3609.5 216.3,3609.8 218.3,3610.5 220.2,3611.4 222.2,3612.7 224.1,3614.1 226.1,3615.7 228.0,3617.4 230.0,3619.1 231.9,3620.8 233.9,3622.4 235.8,3623.7 237.8,3624.9 239.7,3625.7 241.7,3626.2 243.7,3626.4 245.6,3626.3 247.6,3625.8 249.5,3625.0 251.5,3623.9 253.4,3622.5 255.4,3621.0 257.3,3619.3 259.3,3617.6 261.2,3615.9 263.2,3614.3" fill="none" stroke="#4f433b" stroke-width="3.3" stroke-linecap="round" stroke-linejoin="round"/>
<polyline points="274.2,3615.7 276.2,3615.6 278.1,3615.1 280.1,3614.3 282.0,3613.2 284.0,3611.9 286.0,3610.4 287.9,3608.8 289.9,3607.1 291.8,3605.4 293.8,3603.8 295.7,3602.4 297.7,3601.1 299.6,3600.1 301.6,3599.3 303.5,3598.8 305.5,3598.7 307.4,3598.9 309.4,3599.5 311.3,3600.3 313.3,3601.4 315.2,3602.7 317.2,3604.2 319.1,3605.9 321.1,3607.5 323.0,3609.2 325.0,3610.8 326.9,3612.2 328.9,3613.5 330.8,3614.5 332.8,3615.2 334.7,3615.6 336.7,3615.7 338.6,3615.5 340.6,3614.9 342.5,3614.0 344.5,3612.9 346.4,3611.5 348.4,3610.0 350.3,3608.4 352.3,3606.7 354.2,3605.0" fill="none" stroke="#4f433b" stroke-width="3.3" stroke-linecap="round" stroke-linejoin="round"/>
<polyline points="371.5,3627.0 373.4,3626.9 375.4,3626.4 377.3,3625.7 379.3,3624.6 381.2,3623.4 383.2,3622.0 385.1,3620.4 387.1,3618.8 389.0,3617.1 391.0,3615.6 392.9,3614.1 394.9,3612.8 396.8,3611.7 398.8,3610.9 400.7,3610.3 402.7,3610.0 404.6,3610.1 406.6,3610.5 408.5,3611.2 410.5,3612.1 412.4,3613.3 414.4,3614.7 416.3,3616.2 418.3,3617.8 420.2,3619.4 422.2,3621.0 424.1,3622.5 426.1,3623.9 428.0,3625.1 430.0,3626.0 431.9,3626.6 433.9,3627.0 435.9,3627.0 437.8,3626.7 439.8,3626.1 441.7,3625.3 443.7,3624.2 445.6,3622.8 447.6,3621.4 449.5,3619.8 451.5,3618.1" fill="none" stroke="#4f433b" stroke-width="3.3" stroke-linecap="round" stroke-linejoin="round"/>
<polyline points="473.0,3614.9 474.9,3614.8 476.9,3614.3 478.8,3613.6 480.8,3612.6 482.7,3611.4 484.7,3610.0 486.6,3608.5 488.6,3606.9 490.5,3605.3 492.5,3603.7 494.4,3602.2 496.4,3600.9 498.3,3599.8 500.3,3598.9 502.2,3598.3 504.2,3598.0 506.1,3598.0 508.1,3598.2 510.0,3598.8 512.0,3599.7 513.9,3600.8 515.9,3602.1 517.8,3603.5 519.8,3605.1 521.8,3606.7 523.7,3608.3 525.7,3609.8 527.6,3611.2 529.6,3612.5 531.5,3613.5 533.5,3614.3 535.4,3614.7 537.4,3614.9 539.3,3614.8 541.3,3614.4 543.2,3613.7 545.2,3612.7 547.1,3611.5 549.1,3610.1 551.0,3608.6 553.0,3607.0" fill="none" stroke="#4f433b" stroke-width="3.3" stroke-linecap="round" stroke-linejoin="round"/>
<circle cx="312.8" cy="3811.1" r="14.2" fill="#f0a9b6" stroke="#2c3e48" stroke-width="1.5"/>
<circle cx="336.1" cy="3809.1" r="14.2" fill="#f0a9b6" stroke="#2c3e48" stroke-width="1.5"/>
<circle cx="356.0" cy="3810.0" r="13.9" fill="#f0a9b6" stroke="#2c3e48" stroke-width="1.5"/>
<circle cx="379.5" cy="3811.7" r="13.4" fill="#f0a9b6" stroke="#2c3e48" stroke-width="1.5"/>
<circle cx="403.7" cy="3810.9" r="13.6" fill="#f0a9b6" stroke="#2c3e48" stroke-width="1.5"/>
<circle cx="425.7" cy="3811.1" r="14.1" fill="#f0a9b6" stroke="#2c3e48" stroke-width="1.5"/>
<circle cx="446.5" cy="3810.3" r="14.0" fill="#f0a9b6" stroke="#2c3e48" stroke-width="1.5"/>
<circle cx="329.7" cy="3792.8" r="13.6" fill="#f0a9b6" stroke="#2c3e48" stroke-width="1.5"/>
<circle cx="351.8" cy="3792.4" r="13.3" fill="#f0a9b6" stroke="#2c3e48" stroke-width="1.5"/>
<circle cx="374.4" cy="3791.9" r="13.3" fill="#f0a9b6" stroke="#2c3e48" stroke-width="1.5"/>
<circle cx="397.9" cy="3790.8" r="13.9" fill="#f0a9b6" stroke="#2c3e48" stroke-width="1.5"/>
<circle cx="422.4" cy="3789.2" r="13.6" fill="#f0a9b6" stroke="#2c3e48" stroke-width="1.5"/>
<circle cx="441.8" cy="3792.8" r="12.7" fill="#f0a9b6" stroke="#2c3e48" stroke-width="1.5"/>
<circle cx="326.7" cy="3770.2" r="13.8" fill="#f0a9b6" stroke="#2c3e48" stroke-width="1.5"/>
<circle cx="351.1" cy="3773.6" r="14.1" fill="#f0a9b6" stroke="#2c3e48" stroke-width="1.5"/>
<circle cx="370.1" cy="3771.5" r="14.0" fill="#f0a9b6" stroke="#2c3e48" stroke-width="1.5"/>
<circle cx="392.7" cy="3771.1" r="14.1" fill="#f0a9b6" stroke="#2c3e48" stroke-width="1.5"/>
<circle cx="417.2" cy="3770.5" r="14.2" fill="#f0a9b6" stroke="#2c3e48" stroke-width="1.5"/>
<circle cx="440.0" cy="3770.0" r="13.6" fill="#f0a9b6" stroke="#2c3e48" stroke-width="1.5"/>
<circle cx="343.5" cy="3753.7" r="14.0" fill="#f0a9b6" stroke="#2c3e48" stroke-width="1.5"/>
<circle cx="366.9" cy="3752.1" r="13.3" fill="#f0a9b6" stroke="#2c3e48" stroke-width="1.5"/>
<circle cx="390.2" cy="3752.4" r="12.9" fill="#f0a9b6" stroke="#2c3e48" stroke-width="1.5"/>
<circle cx="411.9" cy="3750.6" r="13.3" fill="#f0a9b6" stroke="#2c3e48" stroke-width="1.5"/>
<circle cx="435.7" cy="3754.3" r="13.2" fill="#f0a9b6" stroke="#2c3e48" stroke-width="1.5"/>
<circle cx="340.9" cy="3733.8" r="14.2" fill="#f0a9b6" stroke="#2c3e48" stroke-width="1.5"/>
<circle cx="360.9" cy="3732.6" r="13.8" fill="#f0a9b6" stroke="#2c3e48" stroke-width="1.5"/>
<circle cx="384.7" cy="3733.8" r="13.6" fill="#f0a9b6" stroke="#2c3e48" stroke-width="1.5"/>
<circle cx="404.9" cy="3732.0" r="13.7" fill="#f0a9b6" stroke="#2c3e48" stroke-width="1.5"/>
<circle cx="428.4" cy="3733.1" r="12.9" fill="#f0a9b6" stroke="#2c3e48" stroke-width="1.5"/>
<circle cx="356.3" cy="3713.8" r="13.6" fill="#f0a9b6" stroke="#2c3e48" stroke-width="1.5"/>
<circle cx="375.7" cy="3715.0" r="13.8" fill="#f0a9b6" stroke="#2c3e48" stroke-width="1.5"/>
<circle cx="399.8" cy="3713.8" r="13.3" fill="#f0a9b6" stroke="#2c3e48" stroke-width="1.5"/>
<circle cx="421.5" cy="3713.5" r="13.1" fill="#f0a9b6" stroke="#2c3e48" stroke-width="1.5"/>
<circle cx="348.2" cy="3695.5" r="13.4" fill="#f0a9b6" stroke="#2c3e48" stroke-width="1.5"/>
<circle cx="369.6" cy="3694.6" r="13.2" fill="#f0a9b6" stroke="#2c3e48" stroke-width="1.5"/>
<circle cx="392.4" cy="3695.2" r="13.8" fill="#f0a9b6" stroke="#2c3e48" stroke-width="1.5"/>
<circle cx="414.3" cy="3693.5" r="12.9" fill="#f0a9b6" stroke="#2c3e48" stroke-width="1.5"/>
<circle cx="364.1" cy="3675.6" r="12.8" fill="#f0a9b6" stroke="#2c3e48" stroke-width="1.5"/>
<circle cx="385.4" cy="3674.9" r="13.2" fill="#f0a9b6" stroke="#2c3e48" stroke-width="1.5"/>
<circle cx="408.6" cy="3674.2" r="13.8" fill="#f0a9b6" stroke="#2c3e48" stroke-width="1.5"/>
<circle cx="356.2" cy="3657.5" r="13.9" fill="#f0a9b6" stroke="#2c3e48" stroke-width="1.5"/>
<circle cx="378.8" cy="3657.5" r="13.8" fill="#f0a9b6" stroke="#2c3e48" stroke-width="1.5"/>
<circle cx="400.0" cy="3657.4" r="14.2" fill="#f0a9b6" stroke="#2c3e48" stroke-width="1.5"/>
<circle cx="423.3" cy="3654.5" r="13.3" fill="#f0a9b6" stroke="#2c3e48" stroke-width="1.5"/>
<circle cx="370.0" cy="3638.0" r="12.7" fill="#f0a9b6" stroke="#2c3e48" stroke-width="1.5"/>
<circle cx="389.6" cy="3635.4" r="13.5" fill="#f0a9b6" stroke="#2c3e48" stroke-width="1.5"/>
<circle cx="415.1" cy="3635.7" r="13.4" fill="#f0a9b6" stroke="#2c3e48" stroke-width="1.5"/>
<circle cx="358.2" cy="3615.0" r="13.0" fill="#f0a9b6" stroke="#2c3e48" stroke-width="1.5"/>
<circle cx="379.9" cy="3617.5" r="13.8" fill="#f0a9b6" stroke="#2c3e48" stroke-width="1.5"/>
<circle cx="406.2" cy="3619.0" r="13.2" fill="#f0a9b6" stroke="#2c3e48" stroke-width="1.5"/>
<circle cx="371.9" cy="3595.7" r="13.1" fill="#f0a9b6" stroke="#2c3e48" stroke-width="1.5"/>
<circle cx="393.7" cy="3598.8" r="13.2" fill="#f0a9b6" stroke="#2c3e48" stroke-width="1.5"/>
<circle cx="418.3" cy="3598.2" r="14.2" fill="#f0a9b6" stroke="#2c3e48" stroke-width="1.5"/>
<circle cx="361.0" cy="3578.4" r="12.7" fill="#f0a9b6" stroke="#2c3e48" stroke-width="1.5"/>
<circle cx="384.5" cy="3578.8" r="13.3" fill="#f0a9b6" stroke="#2c3e48" stroke-width="1.5"/>
<circle cx="406.2" cy="3580.1" r="13.1" fill="#f0a9b6" stroke="#2c3e48" stroke-width="1.5"/>
<circle cx="376.4" cy="3557.6" r="13.0" fill="#f0a9b6" stroke="#2c3e48" stroke-width="1.5"/>
<circle cx="396.5" cy="3560.4" r="13.4" fill="#f0a9b6" stroke="#2c3e48" stroke-width="1.5"/>
<circle cx="364.2" cy="3541.4" r="13.1" fill="#f0a9b6" stroke="#2c3e48" stroke-width="1.5"/>
<circle cx="387.6" cy="3540.4" r="14.2" fill="#f0a9b6" stroke="#2c3e48" stroke-width="1.5"/>
<circle cx="410.9" cy="3538.5" r="13.5" fill="#f0a9b6" stroke="#2c3e48" stroke-width="1.5"/>
<circle cx="376.9" cy="3519.3" r="13.8" fill="#f0a9b6" stroke="#2c3e48" stroke-width="1.5"/>
<circle cx="401.0" cy="3521.0" r="13.0" fill="#f0a9b6" stroke="#2c3e48" stroke-width="1.5"/>
<circle cx="366.5" cy="3502.4" r="13.4" fill="#f0a9b6" stroke="#2c3e48" stroke-width="1.5"/>
<circle cx="390.2" cy="3499.9" r="13.7" fill="#f0a9b6" stroke="#2c3e48" stroke-width="1.5"/>
<circle cx="380.5" cy="3483.5" r="14.0" fill="#f0a9b6" stroke="#2c3e48" stroke-width="1.5"/>
<circle cx="403.5" cy="3482.0" r="13.1" fill="#f0a9b6" stroke="#2c3e48" stroke-width="1.5"/>
<circle cx="389.1" cy="3468.5" r="13.4" fill="#f0a9b6" stroke="#2c3e48" stroke-width="1.5"/>
<ellipse cx="356.0" cy="3392.0" rx="17" ry="11.5" fill="none" stroke="#e8781c" stroke-width="4.5"/>
<ellipse cx="392.0" cy="3384.0" rx="17" ry="11.5" fill="none" stroke="#e8781c" stroke-width="4.5"/>
<ellipse cx="370.0" cy="3412.0" rx="17" ry="11.5" fill="none" stroke="#e8781c" stroke-width="4.5"/>
<ellipse cx="404.0" cy="3406.0" rx="17" ry="11.5" fill="none" stroke="#e8781c" stroke-width="4.5"/>
<ellipse cx="352.0" cy="3436.0" rx="17" ry="11.5" fill="none" stroke="#e8781c" stroke-width="4.5"/>
<ellipse cx="392.0" cy="3432.0" rx="17" ry="11.5" fill="none" stroke="#e8781c" stroke-width="4.5"/>
<ellipse cx="378.0" cy="3450.0" rx="17" ry="11.5" fill="none" stroke="#e8781c" stroke-width="4.5"/>
<line x1="250.9" y1="3406.6" x2="250.9" y2="3445.6" stroke="#1e1a18" stroke-width="3.2"/>
<path d="M245.4,3440.6 L256.4,3440.6 L250.9,3452.6 Z" fill="#1e1a18"/>
<circle cx="250.9" cy="3393.6" r="13" fill="#5c6bb6" stroke="#1f2440" stroke-width="2"/>
<line x1="295" y1="3462" x2="295" y2="3501" stroke="#1e1a18" stroke-width="3.2"/>
<path d="M289.5,3496 L300.5,3496 L295,3508 Z" fill="#1e1a18"/>
<circle cx="295" cy="3449" r="13" fill="#5c6bb6" stroke="#1f2440" stroke-width="2"/>
<line x1="220" y1="3497" x2="220" y2="3536" stroke="#1e1a18" stroke-width="3.2"/>
<path d="M214.5,3531 L225.5,3531 L220,3543 Z" fill="#1e1a18"/>
<circle cx="220" cy="3484" r="13" fill="#5c6bb6" stroke="#1f2440" stroke-width="2"/>
<line x1="291" y1="3587" x2="291" y2="3626" stroke="#1e1a18" stroke-width="3.2"/>
<path d="M285.5,3621 L296.5,3621 L291,3633 Z" fill="#1e1a18"/>
<circle cx="291" cy="3574" r="13" fill="#5c6bb6" stroke="#1f2440" stroke-width="2"/>
<line x1="460" y1="3468" x2="460" y2="3507" stroke="#1e1a18" stroke-width="3.2"/>
<path d="M454.5,3502 L465.5,3502 L460,3514 Z" fill="#1e1a18"/>
<circle cx="460" cy="3455" r="13" fill="#5c6bb6" stroke="#1f2440" stroke-width="2"/>
<line x1="564" y1="3456.5" x2="564" y2="3495.5" stroke="#1e1a18" stroke-width="3.2"/>
<path d="M558.5,3490.5 L569.5,3490.5 L564,3502.5 Z" fill="#1e1a18"/>
<circle cx="564" cy="3443.5" r="13" fill="#5c6bb6" stroke="#1f2440" stroke-width="2"/>
<line x1="527.4" y1="3502.6" x2="527.4" y2="3541.6" stroke="#1e1a18" stroke-width="3.2"/>
<path d="M521.9,3536.6 L532.9,3536.6 L527.4,3548.6 Z" fill="#1e1a18"/>
<circle cx="527.4" cy="3489.6" r="13" fill="#5c6bb6" stroke="#1f2440" stroke-width="2"/>
<line x1="525.5" y1="3608" x2="525.5" y2="3647" stroke="#1e1a18" stroke-width="3.2"/>
<path d="M520.0,3642 L531.0,3642 L525.5,3654 Z" fill="#1e1a18"/>
<circle cx="525.5" cy="3595" r="13" fill="#5c6bb6" stroke="#1f2440" stroke-width="2"/>
<ellipse cx="237.4" cy="3752.7" rx="55.7" ry="27" fill="none" stroke="#1a1a1a" stroke-width="3.2" stroke-dasharray="10 6"/>
<rect x="228" y="3750" width="19" height="5.5" fill="#111"/>
<line x1="358.4" y1="3520" x2="261.7" y2="3706.2" stroke="#1a1a1a" stroke-width="2.6"/>
<path d="M256.6,3716 L257.3,3704.0 L266.1,3708.5 Z" fill="#1a1a1a"/>
<text x="354.5" y="3356.0" font-family='"Liberation Serif","Times New Roman",serif' font-size="70.8" font-weight="bold" textLength="50.1" lengthAdjust="spacingAndGlyphs" fill="#000" >+</text>
<text x="455.4" y="3355.0" font-family='"Liberation Serif","Times New Roman",serif' font-size="58.5" font-weight="bold" textLength="42.0" lengthAdjust="spacingAndGlyphs" fill="#000" >V</text>
<text x="499.1" y="3368.6" font-family='"Liberation Serif","Times New Roman",serif' font-size="35.3" font-weight="bold" textLength="18.3" lengthAdjust="spacingAndGlyphs" fill="#000" >o</text>
<text x="522.3" y="3344.0" font-family='"Liberation Serif","Times New Roman",serif' font-size="32.6" font-weight="bold" textLength="35.3" lengthAdjust="spacingAndGlyphs" fill="#000" >2+</text>
<line x1="490" y1="3360" x2="452.6" y2="3391.5" stroke="#1a1a1a" stroke-width="2.6"/>
<path d="M445,3398 L449.7,3388.1 L455.5,3395.0 Z" fill="#1a1a1a"/>
<rect x="364" y="3867.5" width="20" height="5" fill="#111"/>
<text x="192.4" y="3274.5" font-family='"Liberation Serif","Times New Roman",serif' font-size="58.3" font-weight="bold" textLength="298.4" lengthAdjust="spacingAndGlyphs" fill="#000" >Voltage &lt; V</text>
<text x="493.0" y="3286.0" font-family='"Liberation Serif","Times New Roman",serif' font-size="36.4" font-weight="bold" textLength="57.6" lengthAdjust="spacingAndGlyphs" fill="#000" >Set</text>
<linearGradient id="boltg3" gradientUnits="userSpaceOnUse" x1="65.2" y1="3325.4" x2="165.1" y2="3430.1"><stop offset="0" stop-color="#92cdee"/><stop offset="0.35" stop-color="#a99ad6"/><stop offset="0.6" stop-color="#9d62c2"/><stop offset="1" stop-color="#8e3aae"/></linearGradient>
<polygon points="45.2,3359.4 85.8,3325.4 119.2,3355.8 112.5,3363.0 145.8,3387.9 141.6,3397.0 190.1,3440.1 119.2,3416.4 126.4,3409.1 82.8,3389.7 91.3,3380.0" fill="url(#boltg3)"/>
<rect x="714.4" y="3293" width="409.1" height="86" fill="#b8c3e0"/>
<rect x="714.4" y="3379" width="409.1" height="289" fill="#ffffff"/>
<rect x="714.4" y="3668" width="409.1" height="157.69999999999982" fill="#8ea6b8"/>
<rect x="714.4" y="3825.7" width="409.1" height="88.30000000000018" fill="#5e6d7c"/>
<rect x="714.4" y="3293" width="409.1" height="621" fill="none" stroke="#2b2622" stroke-width="3.2"/>
<line x1="714.4" y1="3379" x2="1123.5" y2="3379" stroke="#2b2622" stroke-width="3.2"/>
<line x1="714.4" y1="3668" x2="1123.5" y2="3668" stroke="#2b2622" stroke-width="3.2"/>
<line x1="714.4" y1="3825.7" x2="1123.5" y2="3825.7" stroke="#2b2622" stroke-width="3.2"/>
<polyline points="719.4,3411.0 721.4,3410.7 723.4,3410.1 725.3,3409.2 727.3,3408.1 729.3,3406.8 731.3,3405.4 733.3,3403.8 735.2,3402.2 737.2,3400.6 739.2,3399.1 741.2,3397.7 743.1,3396.4 745.1,3395.4 747.1,3394.7 749.1,3394.2 751.1,3394.0 753.0,3394.1 755.0,3394.5 757.0,3395.2 759.0,3396.2 761.0,3397.4 762.9,3398.8 764.9,3400.3 766.9,3401.9 768.9,3403.5 770.8,3405.1 772.8,3406.5 774.8,3407.9 776.8,3409.0 778.8,3409.9 780.7,3410.6 782.7,3410.9 784.7,3411.0 786.7,3410.7 788.7,3410.1 790.6,3409.3 792.6,3408.2 794.6,3407.0 796.6,3405.5 798.5,3404.0" fill="none" stroke="#4f433b" stroke-width="3.3" stroke-linecap="round" stroke-linejoin="round"/>
<polyline points="911.5,3406.7 913.5,3406.5 915.4,3406.0 917.4,3405.2 919.3,3404.1 921.3,3402.8 923.2,3401.3 925.2,3399.7 927.1,3398.0 929.1,3396.4 931.0,3394.8 933.0,3393.3 934.9,3392.0 936.9,3391.0 938.8,3390.2 940.8,3389.8 942.7,3389.7 944.7,3389.9 946.6,3390.4 948.6,3391.3 950.5,3392.4 952.5,3393.8 954.4,3395.3 956.4,3396.9 958.3,3398.6 960.3,3400.3 962.2,3401.8 964.2,3403.3 966.1,3404.5 968.1,3405.5 970.0,3406.2 972.0,3406.6 973.9,3406.7 975.9,3406.4 977.8,3405.8 979.8,3404.9 981.7,3403.7 983.7,3402.4 985.6,3400.8 987.6,3399.2 989.6,3397.5 991.5,3395.8" fill="none" stroke="#4f433b" stroke-width="3.3" stroke-linecap="round" stroke-linejoin="round"/>
<polyline points="771.2,3433.7 773.1,3433.5 775.1,3433.0 777.0,3432.1 779.0,3431.0 780.9,3429.6 782.9,3428.1 784.8,3426.4 786.8,3424.6 788.7,3422.9 790.7,3421.3 792.6,3419.9 794.6,3418.6 796.5,3417.7 798.5,3417.0 800.4,3416.7 802.4,3416.7 804.3,3417.1 806.3,3417.8 808.2,3418.8 810.2,3420.1 812.1,3421.6 814.1,3423.3 816.0,3425.0 818.0,3426.7 819.9,3428.4 821.9,3429.9 823.8,3431.2 825.8,3432.3 827.8,3433.1 829.7,3433.5 831.7,3433.7 833.6,3433.4 835.6,3432.8 837.5,3431.9 839.5,3430.7 841.4,3429.3 843.4,3427.7 845.3,3426.0 847.3,3424.3 849.2,3422.6 851.2,3421.0" fill="none" stroke="#4f433b" stroke-width="3.3" stroke-linecap="round" stroke-linejoin="round"/>
<polyline points="864.5,3443.0 866.4,3442.8 868.4,3442.4 870.3,3441.7 872.3,3440.8 874.2,3439.7 876.2,3438.3 878.1,3436.9 880.1,3435.4 882.0,3433.8 884.0,3432.3 885.9,3430.8 887.9,3429.5 889.8,3428.3 891.8,3427.4 893.7,3426.6 895.7,3426.2 897.6,3426.0 899.6,3426.1 901.5,3426.4 903.5,3427.1 905.5,3428.0 907.4,3429.1 909.4,3430.4 911.3,3431.8 913.3,3433.3 915.2,3434.9 917.2,3436.4 919.1,3437.9 921.1,3439.2 923.0,3440.4 925.0,3441.4 926.9,3442.2 928.9,3442.7 930.8,3443.0 932.8,3442.9 934.7,3442.6 936.7,3442.0 938.6,3441.1 940.6,3440.0 942.5,3438.8 944.5,3437.4" fill="none" stroke="#4f433b" stroke-width="3.3" stroke-linecap="round" stroke-linejoin="round"/>
<polyline points="964.2,3435.2 966.1,3435.1 968.1,3434.7 970.0,3434.0 972.0,3433.0 973.9,3431.9 975.9,3430.6 977.9,3429.1 979.8,3427.6 981.8,3426.0 983.7,3424.5 985.7,3423.0 987.6,3421.7 989.6,3420.5 991.5,3419.6 993.5,3418.9 995.4,3418.4 997.4,3418.2 999.3,3418.4 1001.3,3418.8 1003.2,3419.5 1005.2,3420.4 1007.1,3421.5 1009.1,3422.8 1011.0,3424.3 1013.0,3425.8 1014.9,3427.4 1016.9,3428.9 1018.8,3430.4 1020.8,3431.7 1022.7,3432.9 1024.7,3433.9 1026.6,3434.6 1028.6,3435.1 1030.5,3435.2 1032.5,3435.1 1034.4,3434.7 1036.4,3434.1 1038.3,3433.2 1040.3,3432.1 1042.2,3430.8 1044.2,3429.3" fill="none" stroke="#4f433b" stroke-width="3.3" stroke-linecap="round" stroke-linejoin="round"/>
<polyline points="1063.1,3449.4 1065.1,3449.2 1067.1,3448.8 1069.1,3448.1 1071.0,3447.1 1073.0,3445.9 1075.0,3444.6 1077.0,3443.1 1079.0,3441.5 1080.9,3439.9 1082.9,3438.4 1084.9,3436.9 1086.9,3435.6 1088.8,3434.4 1090.8,3433.5 1092.8,3432.9 1094.8,3432.5 1096.7,3432.4 1098.7,3432.6 1100.7,3433.1 1102.7,3433.9 1104.7,3434.9 1106.6,3436.1 1108.6,3437.5 1110.6,3439.1 1112.6,3440.6 1114.5,3442.2 1116.5,3443.8 1118.5,3445.2" fill="none" stroke="#4f433b" stroke-width="3.3" stroke-linecap="round" stroke-linejoin="round"/>
<polyline points="722.2,3486.7 724.1,3486.5 726.1,3486.1 728.0,3485.3 730.0,3484.3 731.9,3483.1 733.9,3481.7 735.8,3480.2 737.8,3478.6 739.7,3477.0 741.7,3475.4 743.7,3474.0 745.6,3472.6 747.6,3471.5 749.5,3470.6 751.5,3470.0 753.4,3469.7 755.4,3469.7 757.3,3470.0 759.3,3470.6 761.2,3471.5 763.2,3472.6 765.1,3473.9 767.1,3475.3 769.0,3476.9 771.0,3478.5 772.9,3480.1 774.9,3481.6 776.8,3483.0 778.8,3484.3 780.7,3485.3 782.7,3486.0 784.6,3486.5 786.6,3486.7 788.5,3486.5 790.5,3486.1 792.4,3485.4 794.4,3484.4 796.3,3483.2 798.3,3481.8 800.2,3480.3 802.2,3478.7" fill="none" stroke="#4f433b" stroke-width="3.3" stroke-linecap="round" stroke-linejoin="round"/>
<polyline points="817.3,3470.5 819.3,3470.4 821.2,3469.9 823.2,3469.2 825.1,3468.1 827.1,3466.9 829.1,3465.4 831.0,3463.9 833.0,3462.3 834.9,3460.6 836.9,3459.0 838.8,3457.6 840.8,3456.3 842.7,3455.2 844.7,3454.3 846.6,3453.8 848.6,3453.6 850.5,3453.6 852.5,3454.0 854.4,3454.7 856.4,3455.7 858.3,3456.9 860.3,3458.3 862.2,3459.8 864.2,3461.4 866.1,3463.1 868.1,3464.7 870.0,3466.2 872.0,3467.5 873.9,3468.7 875.9,3469.6 877.8,3470.2 879.8,3470.5 881.7,3470.5 883.7,3470.2 885.6,3469.6 887.6,3468.7 889.5,3467.5 891.5,3466.2 893.4,3464.7 895.4,3463.1 897.3,3461.5" fill="none" stroke="#4f433b" stroke-width="3.3" stroke-linecap="round" stroke-linejoin="round"/>
<polyline points="911.1,3481.6 913.1,3481.4 915.0,3481.0 917.0,3480.3 918.9,3479.4 920.9,3478.2 922.8,3476.9 924.8,3475.4 926.7,3473.9 928.7,3472.3 930.6,3470.8 932.6,3469.3 934.5,3468.0 936.5,3466.8 938.4,3465.9 940.4,3465.2 942.3,3464.7 944.3,3464.6 946.2,3464.7 948.2,3465.1 950.1,3465.8 952.1,3466.7 954.0,3467.9 956.0,3469.2 957.9,3470.6 959.9,3472.2 961.8,3473.7 963.8,3475.3 965.7,3476.7 967.7,3478.1 969.6,3479.3 971.6,3480.2 973.5,3480.9 975.5,3481.4 977.5,3481.6 979.4,3481.5 981.4,3481.1 983.3,3480.4 985.3,3479.5 987.2,3478.4 989.2,3477.0 991.1,3475.6" fill="none" stroke="#4f433b" stroke-width="3.3" stroke-linecap="round" stroke-linejoin="round"/>
<polyline points="1010.7,3475.5 1012.6,3475.4 1014.6,3474.9 1016.5,3474.2 1018.5,3473.2 1020.4,3472.1 1022.4,3470.7 1024.3,3469.2 1026.3,3467.6 1028.2,3466.1 1030.2,3464.5 1032.2,3463.0 1034.1,3461.7 1036.1,3460.6 1038.0,3459.7 1040.0,3459.0 1041.9,3458.6 1043.9,3458.5 1045.8,3458.7 1047.8,3459.2 1049.7,3460.0 1051.7,3461.0 1053.6,3462.2 1055.6,3463.6 1057.5,3465.1 1059.5,3466.7 1061.4,3468.3 1063.4,3469.8 1065.3,3471.3 1067.3,3472.6 1069.2,3473.7 1071.2,3474.5 1073.1,3475.2 1075.1,3475.5 1077.0,3475.5 1079.0,3475.2 1080.9,3474.7 1082.9,3473.8 1084.8,3472.8 1086.8,3471.5 1088.7,3470.1 1090.7,3468.6" fill="none" stroke="#4f433b" stroke-width="3.3" stroke-linecap="round" stroke-linejoin="round"/>
<polyline points="763.9,3507.5 765.8,3507.3 767.8,3506.8 769.7,3506.0 771.7,3504.9 773.6,3503.6 775.6,3502.1 777.5,3500.5 779.5,3498.8 781.4,3497.1 783.4,3495.5 785.3,3494.1 787.3,3492.8 789.2,3491.8 791.2,3491.0 793.1,3490.6 795.1,3490.5 797.0,3490.7 799.0,3491.3 801.0,3492.2 802.9,3493.3 804.9,3494.7 806.8,3496.2 808.8,3497.8 810.7,3499.5 812.7,3501.2 814.6,3502.8 816.6,3504.2 818.5,3505.4 820.5,3506.4 822.4,3507.1 824.4,3507.4 826.3,3507.5 828.3,3507.1 830.2,3506.5 832.2,3505.6 834.1,3504.4 836.1,3503.0 838.0,3501.4 840.0,3499.8 841.9,3498.1 843.9,3496.4" fill="none" stroke="#4f433b" stroke-width="3.3" stroke-linecap="round" stroke-linejoin="round"/>
<polyline points="860.2,3521.1 862.1,3520.9 864.1,3520.5 866.0,3519.7 868.0,3518.7 869.9,3517.5 871.9,3516.0 873.8,3514.5 875.8,3512.9 877.7,3511.2 879.7,3509.6 881.6,3508.2 883.6,3506.9 885.5,3505.8 887.5,3504.9 889.4,3504.4 891.4,3504.1 893.3,3504.2 895.3,3504.5 897.2,3505.2 899.2,3506.1 901.1,3507.3 903.1,3508.7 905.0,3510.2 907.0,3511.8 908.9,3513.5 910.9,3515.1 912.8,3516.6 914.8,3517.9 916.7,3519.1 918.7,3520.0 920.6,3520.7 922.6,3521.0 924.5,3521.1 926.5,3520.8 928.4,3520.2 930.4,3519.4 932.3,3518.3 934.3,3516.9 936.2,3515.5 938.2,3513.9 940.2,3512.3" fill="none" stroke="#4f433b" stroke-width="3.3" stroke-linecap="round" stroke-linejoin="round"/>
<polyline points="957.4,3509.2 959.4,3509.1 961.3,3508.6 963.3,3507.7 965.2,3506.6 967.2,3505.3 969.1,3503.8 971.1,3502.1 973.0,3500.4 975.0,3498.7 976.9,3497.1 978.9,3495.7 980.8,3494.4 982.8,3493.4 984.7,3492.7 986.7,3492.3 988.6,3492.3 990.6,3492.5 992.5,3493.2 994.5,3494.1 996.4,3495.3 998.4,3496.7 1000.3,3498.3 1002.3,3499.9 1004.2,3501.6 1006.2,3503.3 1008.1,3504.9 1010.1,3506.3 1012.1,3507.5 1014.0,3508.4 1016.0,3509.0 1017.9,3509.2 1019.9,3509.1 1021.8,3508.7 1023.8,3508.0 1025.7,3507.0 1027.7,3505.7 1029.6,3504.2 1031.6,3502.6 1033.5,3500.9 1035.5,3499.2 1037.4,3497.6" fill="none" stroke="#4f433b" stroke-width="3.3" stroke-linecap="round" stroke-linejoin="round"/>
<polyline points="1053.3,3521.0 1055.3,3520.8 1057.3,3520.3 1059.2,3519.5 1061.2,3518.4 1063.2,3517.0 1065.2,3515.5 1067.1,3513.9 1069.1,3512.2 1071.1,3510.5 1073.1,3508.9 1075.0,3507.4 1077.0,3506.1 1079.0,3505.1 1081.0,3504.4 1082.9,3504.0 1084.9,3504.0 1086.9,3504.3 1088.9,3504.9 1090.8,3505.8 1092.8,3507.0 1094.8,3508.4 1096.8,3509.9 1098.7,3511.6 1100.7,3513.3 1102.7,3515.0 1104.7,3516.5 1106.6,3517.9 1108.6,3519.1 1110.6,3520.0 1112.6,3520.7 1114.5,3520.9 1116.5,3520.9 1118.5,3520.5" fill="none" stroke="#4f433b" stroke-width="3.3" stroke-linecap="round" stroke-linejoin="round"/>
<polyline points="719.4,3560.6 721.4,3559.9 723.3,3559.0 725.3,3557.8 727.2,3556.5 729.2,3555.1 731.1,3553.6 733.1,3552.0 735.0,3550.5 737.0,3549.1 738.9,3547.7 740.9,3546.6 742.8,3545.6 744.8,3544.9 746.7,3544.4 748.7,3544.2 750.7,3544.3 752.6,3544.6 754.6,3545.2 756.5,3546.1 758.5,3547.2 760.4,3548.4 762.4,3549.8 764.3,3551.3 766.3,3552.8 768.2,3554.4 770.2,3555.8 772.1,3557.2 774.1,3558.4 776.0,3559.5 778.0,3560.3 779.9,3560.8 781.9,3561.1 783.9,3561.2 785.8,3560.9 787.8,3560.4 789.7,3559.6 791.7,3558.6 793.6,3557.4 795.6,3556.0" fill="none" stroke="#4f433b" stroke-width="3.3" stroke-linecap="round" stroke-linejoin="round"/>
<polyline points="810.2,3548.7 812.2,3548.6 814.2,3548.2 816.1,3547.5 818.1,3546.6 820.0,3545.5 822.0,3544.2 823.9,3542.7 825.9,3541.2 827.8,3539.7 829.8,3538.2 831.7,3536.7 833.7,3535.4 835.6,3534.2 837.6,3533.2 839.5,3532.4 841.5,3532.0 843.4,3531.7 845.4,3531.8 847.3,3532.1 849.3,3532.7 851.2,3533.6 853.2,3534.7 855.1,3535.9 857.1,3537.3 859.0,3538.8 861.0,3540.3 862.9,3541.9 864.9,3543.3 866.8,3544.7 868.8,3546.0 870.7,3547.0 872.7,3547.8 874.6,3548.4 876.6,3548.7 878.5,3548.7 880.5,3548.4 882.4,3547.9 884.4,3547.1 886.3,3546.1 888.3,3544.9 890.2,3543.6" fill="none" stroke="#4f433b" stroke-width="3.3" stroke-linecap="round" stroke-linejoin="round"/>
<polyline points="900.8,3557.1 902.7,3557.0 904.7,3556.5 906.6,3555.8 908.6,3554.9 910.5,3553.7 912.5,3552.4 914.4,3551.0 916.4,3549.4 918.3,3547.8 920.3,3546.3 922.2,3544.8 924.2,3543.5 926.1,3542.3 928.1,3541.4 930.0,3540.7 932.0,3540.3 933.9,3540.1 935.9,3540.2 937.8,3540.7 939.8,3541.4 941.7,3542.3 943.7,3543.4 945.6,3544.8 947.6,3546.2 949.5,3547.8 951.5,3549.3 953.5,3550.9 955.4,3552.3 957.4,3553.7 959.3,3554.8 961.3,3555.8 963.2,3556.5 965.2,3556.9 967.1,3557.1 969.1,3557.0 971.0,3556.6 973.0,3555.9 974.9,3555.0 976.9,3553.8 978.8,3552.5 980.8,3551.0" fill="none" stroke="#4f433b" stroke-width="3.3" stroke-linecap="round" stroke-linejoin="round"/>
<polyline points="1000.8,3548.1 1002.8,3547.9 1004.7,3547.4 1006.7,3546.6 1008.6,3545.5 1010.6,3544.2 1012.5,3542.7 1014.5,3541.0 1016.4,3539.3 1018.4,3537.7 1020.3,3536.0 1022.3,3534.6 1024.2,3533.3 1026.2,3532.3 1028.1,3531.6 1030.1,3531.2 1032.0,3531.1 1034.0,3531.4 1035.9,3532.0 1037.9,3532.9 1039.8,3534.0 1041.8,3535.4 1043.8,3537.0 1045.7,3538.6 1047.7,3540.3 1049.6,3542.0 1051.6,3543.6 1053.5,3545.0 1055.5,3546.2 1057.4,3547.1 1059.4,3547.8 1061.3,3548.1 1063.3,3548.0 1065.2,3547.7 1067.2,3547.0 1069.1,3546.0 1071.1,3544.7 1073.0,3543.3 1075.0,3541.7 1076.9,3540.0 1078.9,3538.3 1080.8,3536.7" fill="none" stroke="#4f433b" stroke-width="3.3" stroke-linecap="round" stroke-linejoin="round"/>
<polyline points="764.1,3587.4 766.1,3587.2 768.0,3586.7 770.0,3585.9 772.0,3584.8 773.9,3583.4 775.9,3581.9 777.8,3580.3 779.8,3578.6 781.7,3576.9 783.7,3575.3 785.6,3573.8 787.6,3572.5 789.5,3571.5 791.5,3570.8 793.4,3570.4 795.4,3570.4 797.3,3570.7 799.3,3571.3 801.2,3572.2 803.2,3573.4 805.1,3574.8 807.1,3576.4 809.0,3578.0 811.0,3579.7 812.9,3581.4 814.9,3583.0 816.8,3584.4 818.8,3585.6 820.7,3586.5 822.7,3587.1 824.6,3587.3 826.6,3587.3 828.5,3586.9 830.5,3586.2 832.4,3585.1 834.4,3583.9 836.3,3582.4 838.3,3580.8 840.2,3579.1 842.2,3577.4 844.1,3575.8" fill="none" stroke="#4f433b" stroke-width="3.3" stroke-linecap="round" stroke-linejoin="round"/>
<polyline points="865.8,3599.5 867.8,3599.3 869.7,3598.9 871.7,3598.2 873.6,3597.2 875.6,3596.0 877.5,3594.7 879.5,3593.2 881.4,3591.6 883.4,3590.1 885.3,3588.5 887.3,3587.0 889.2,3585.7 891.2,3584.6 893.1,3583.6 895.1,3583.0 897.0,3582.6 899.0,3582.5 900.9,3582.6 902.9,3583.1 904.8,3583.9 906.8,3584.9 908.7,3586.1 910.7,3587.4 912.6,3588.9 914.6,3590.5 916.5,3592.1 918.5,3593.6 920.4,3595.1 922.4,3596.4 924.3,3597.5 926.3,3598.4 928.2,3599.0 930.2,3599.4 932.1,3599.4 934.1,3599.2 936.0,3598.7 938.0,3597.9 939.9,3596.9 941.9,3595.7 943.9,3594.3 945.8,3592.8" fill="none" stroke="#4f433b" stroke-width="3.3" stroke-linecap="round" stroke-linejoin="round"/>
<polyline points="958.3,3586.6 960.3,3586.4 962.2,3586.0 964.2,3585.2 966.1,3584.2 968.1,3583.0 970.0,3581.6 972.0,3580.1 974.0,3578.5 975.9,3576.9 977.9,3575.3 979.8,3573.9 981.8,3572.6 983.7,3571.4 985.7,3570.6 987.6,3569.9 989.6,3569.6 991.5,3569.6 993.5,3569.9 995.4,3570.5 997.4,3571.3 999.3,3572.4 1001.3,3573.7 1003.2,3575.1 1005.2,3576.7 1007.1,3578.3 1009.1,3579.9 1011.0,3581.4 1013.0,3582.8 1014.9,3584.1 1016.9,3585.1 1018.8,3585.9 1020.8,3586.4 1022.7,3586.6 1024.7,3586.5 1026.6,3586.0 1028.6,3585.3 1030.5,3584.4 1032.5,3583.2 1034.4,3581.8 1036.4,3580.3 1038.3,3578.7" fill="none" stroke="#4f433b" stroke-width="3.3" stroke-linecap="round" stroke-linejoin="round"/>
<polyline points="1055.4,3597.5 1057.4,3597.4 1059.4,3596.9 1061.3,3596.2 1063.3,3595.2 1065.3,3594.0 1067.3,3592.6 1069.2,3591.1 1071.2,3589.6 1073.2,3588.0 1075.1,3586.4 1077.1,3584.9 1079.1,3583.6 1081.1,3582.5 1083.0,3581.6 1085.0,3580.9 1087.0,3580.6 1088.9,3580.5 1090.9,3580.8 1092.9,3581.3 1094.9,3582.1 1096.8,3583.1 1098.8,3584.4 1100.8,3585.8 1102.7,3587.3 1104.7,3588.9 1106.7,3590.5 1108.6,3592.1 1110.6,3593.5 1112.6,3594.8 1114.6,3595.8 1116.5,3596.7 1118.5,3597.2" fill="none" stroke="#4f433b" stroke-width="3.3" stroke-linecap="round" stroke-linejoin="round"/>
<polyline points="719.4,3636.5 721.4,3635.9 723.4,3635.0 725.4,3633.8 727.4,3632.4 729.4,3630.8 731.3,3629.1 733.3,3627.4 735.3,3625.7 737.3,3624.1 739.3,3622.6 741.3,3621.5 743.3,3620.5 745.3,3620.0 747.3,3619.7 749.3,3619.8 751.2,3620.3 753.2,3621.1 755.2,3622.2 757.2,3623.6 759.2,3625.1 761.2,3626.8 763.2,3628.5 765.2,3630.3 767.2,3631.9 769.2,3633.4 771.2,3634.7 773.1,3635.7 775.1,3636.3 777.1,3636.7 779.1,3636.7 781.1,3636.3 783.1,3635.6 785.1,3634.6 787.1,3633.3 789.1,3631.8 791.1,3630.1 793.1,3628.4 795.0,3626.7 797.0,3625.0" fill="none" stroke="#4f433b" stroke-width="3.3" stroke-linecap="round" stroke-linejoin="round"/>
<polyline points="809.7,3618.8 811.7,3618.7 813.6,3618.2 815.6,3617.5 817.5,3616.5 819.5,3615.3 821.4,3613.9 823.4,3612.4 825.3,3610.9 827.3,3609.3 829.3,3607.7 831.2,3606.2 833.2,3604.9 835.1,3603.8 837.1,3602.9 839.0,3602.2 841.0,3601.9 842.9,3601.8 844.9,3602.1 846.8,3602.6 848.8,3603.4 850.7,3604.4 852.7,3605.7 854.6,3607.1 856.6,3608.6 858.5,3610.2 860.5,3611.8 862.4,3613.4 864.4,3614.8 866.3,3616.1 868.3,3617.1 870.2,3618.0 872.2,3618.5 874.1,3618.8 876.1,3618.7 878.0,3618.4 880.0,3617.8 881.9,3616.9 883.9,3615.8 885.8,3614.5 887.8,3613.0 889.7,3611.5" fill="none" stroke="#4f433b" stroke-width="3.3" stroke-linecap="round" stroke-linejoin="round"/>
<polyline points="906.4,3635.6 908.4,3635.4 910.3,3634.9 912.3,3634.1 914.2,3632.9 916.2,3631.6 918.1,3630.0 920.1,3628.3 922.0,3626.6 924.0,3624.9 925.9,3623.3 927.9,3621.8 929.8,3620.6 931.8,3619.6 933.7,3619.0 935.7,3618.6 937.6,3618.6 939.6,3619.0 941.5,3619.7 943.5,3620.7 945.4,3622.0 947.4,3623.4 949.3,3625.1 951.3,3626.8 953.2,3628.5 955.2,3630.2 957.1,3631.7 959.1,3633.0 961.0,3634.2 963.0,3635.0 964.9,3635.5 966.9,3635.6 968.9,3635.4 970.8,3634.8 972.8,3634.0 974.7,3632.8 976.7,3631.4 978.6,3629.9 980.6,3628.2 982.5,3626.5 984.5,3624.8 986.4,3623.2" fill="none" stroke="#4f433b" stroke-width="3.3" stroke-linecap="round" stroke-linejoin="round"/>
<polyline points="1001.7,3621.0 1003.6,3620.8 1005.6,3620.3 1007.5,3619.5 1009.5,3618.4 1011.4,3617.0 1013.4,3615.5 1015.3,3613.8 1017.3,3612.1 1019.2,3610.4 1021.2,3608.8 1023.2,3607.4 1025.1,3606.1 1027.1,3605.1 1029.0,3604.4 1031.0,3604.0 1032.9,3604.0 1034.9,3604.3 1036.8,3605.0 1038.8,3606.0 1040.7,3607.2 1042.7,3608.6 1044.6,3610.2 1046.6,3611.9 1048.5,3613.6 1050.5,3615.3 1052.4,3616.8 1054.4,3618.2 1056.3,3619.4 1058.3,3620.2 1060.2,3620.8 1062.2,3621.0 1064.1,3620.9 1066.1,3620.4 1068.0,3619.6 1070.0,3618.5 1071.9,3617.2 1073.9,3615.7 1075.8,3614.0 1077.8,3612.3 1079.7,3610.6 1081.7,3609.0" fill="none" stroke="#4f433b" stroke-width="3.3" stroke-linecap="round" stroke-linejoin="round"/>
<circle cx="891.6" cy="3710.3" r="13.7" fill="#f0a9b6" stroke="#2c3e48" stroke-width="1.5"/>
<circle cx="916.3" cy="3711.3" r="13.5" fill="#f0a9b6" stroke="#2c3e48" stroke-width="1.5"/>
<circle cx="937.2" cy="3708.5" r="13.1" fill="#f0a9b6" stroke="#2c3e48" stroke-width="1.5"/>
<circle cx="904.8" cy="3690.8" r="13.3" fill="#f0a9b6" stroke="#2c3e48" stroke-width="1.5"/>
<circle cx="925.6" cy="3690.9" r="12.8" fill="#f0a9b6" stroke="#2c3e48" stroke-width="1.5"/>
<circle cx="891.7" cy="3671.9" r="13.2" fill="#f0a9b6" stroke="#2c3e48" stroke-width="1.5"/>
<circle cx="913.1" cy="3669.7" r="14.3" fill="#f0a9b6" stroke="#2c3e48" stroke-width="1.5"/>
<circle cx="938.7" cy="3670.2" r="13.6" fill="#f0a9b6" stroke="#2c3e48" stroke-width="1.5"/>
<circle cx="901.8" cy="3652.7" r="13.2" fill="#f0a9b6" stroke="#2c3e48" stroke-width="1.5"/>
<circle cx="925.8" cy="3650.0" r="14.2" fill="#f0a9b6" stroke="#2c3e48" stroke-width="1.5"/>
<circle cx="948.0" cy="3652.1" r="13.3" fill="#f0a9b6" stroke="#2c3e48" stroke-width="1.5"/>
<circle cx="891.6" cy="3632.7" r="13.1" fill="#f0a9b6" stroke="#2c3e48" stroke-width="1.5"/>
<circle cx="913.9" cy="3631.4" r="12.8" fill="#f0a9b6" stroke="#2c3e48" stroke-width="1.5"/>
<circle cx="936.2" cy="3630.9" r="12.9" fill="#f0a9b6" stroke="#2c3e48" stroke-width="1.5"/>
<circle cx="907.6" cy="3612.4" r="13.0" fill="#f0a9b6" stroke="#2c3e48" stroke-width="1.5"/>
<circle cx="930.1" cy="3612.5" r="13.1" fill="#f0a9b6" stroke="#2c3e48" stroke-width="1.5"/>
<circle cx="896.3" cy="3594.9" r="14.1" fill="#f0a9b6" stroke="#2c3e48" stroke-width="1.5"/>
<circle cx="919.1" cy="3591.8" r="13.1" fill="#f0a9b6" stroke="#2c3e48" stroke-width="1.5"/>
<circle cx="941.3" cy="3593.9" r="13.1" fill="#f0a9b6" stroke="#2c3e48" stroke-width="1.5"/>
<circle cx="907.4" cy="3572.4" r="13.7" fill="#f0a9b6" stroke="#2c3e48" stroke-width="1.5"/>
<circle cx="932.7" cy="3574.1" r="14.2" fill="#f0a9b6" stroke="#2c3e48" stroke-width="1.5"/>
<circle cx="897.0" cy="3554.5" r="13.2" fill="#f0a9b6" stroke="#2c3e48" stroke-width="1.5"/>
<circle cx="919.6" cy="3555.9" r="13.9" fill="#f0a9b6" stroke="#2c3e48" stroke-width="1.5"/>
<circle cx="943.2" cy="3553.1" r="13.3" fill="#f0a9b6" stroke="#2c3e48" stroke-width="1.5"/>
<circle cx="909.8" cy="3533.7" r="13.6" fill="#f0a9b6" stroke="#2c3e48" stroke-width="1.5"/>
<circle cx="930.1" cy="3533.5" r="13.7" fill="#f0a9b6" stroke="#2c3e48" stroke-width="1.5"/>
<circle cx="897.3" cy="3514.5" r="14.2" fill="#f0a9b6" stroke="#2c3e48" stroke-width="1.5"/>
<circle cx="918.9" cy="3514.4" r="13.9" fill="#f0a9b6" stroke="#2c3e48" stroke-width="1.5"/>
<circle cx="941.2" cy="3516.7" r="13.5" fill="#f0a9b6" stroke="#2c3e48" stroke-width="1.5"/>
<circle cx="906.7" cy="3496.5" r="14.0" fill="#f0a9b6" stroke="#2c3e48" stroke-width="1.5"/>
<circle cx="929.0" cy="3496.4" r="13.3" fill="#f0a9b6" stroke="#2c3e48" stroke-width="1.5"/>
<circle cx="894.7" cy="3475.7" r="13.3" fill="#f0a9b6" stroke="#2c3e48" stroke-width="1.5"/>
<circle cx="916.8" cy="3476.2" r="14.2" fill="#f0a9b6" stroke="#2c3e48" stroke-width="1.5"/>
<circle cx="940.8" cy="3479.1" r="13.6" fill="#f0a9b6" stroke="#2c3e48" stroke-width="1.5"/>
<circle cx="903.3" cy="3456.5" r="13.9" fill="#f0a9b6" stroke="#2c3e48" stroke-width="1.5"/>
<circle cx="928.3" cy="3458.2" r="13.2" fill="#f0a9b6" stroke="#2c3e48" stroke-width="1.5"/>
<circle cx="894.2" cy="3439.4" r="14.2" fill="#f0a9b6" stroke="#2c3e48" stroke-width="1.5"/>
<circle cx="920.4" cy="3438.3" r="13.7" fill="#f0a9b6" stroke="#2c3e48" stroke-width="1.5"/>
<circle cx="909.2" cy="3419.5" r="13.1" fill="#f0a9b6" stroke="#2c3e48" stroke-width="1.5"/>
<circle cx="902.7" cy="3399.0" r="14.2" fill="#f0a9b6" stroke="#2c3e48" stroke-width="1.5"/>
<circle cx="922.6" cy="3398.7" r="13.5" fill="#f0a9b6" stroke="#2c3e48" stroke-width="1.5"/>
<circle cx="911.7" cy="3392.5" r="13.2" fill="#f0a9b6" stroke="#2c3e48" stroke-width="1.5"/>
<ellipse cx="900.0" cy="3733.0" rx="17" ry="11.5" fill="#aab6d0" stroke="#e8781c" stroke-width="4.5"/>
<ellipse cx="940.0" cy="3740.0" rx="17" ry="11.5" fill="#aab6d0" stroke="#e8781c" stroke-width="4.5"/>
<ellipse cx="915.0" cy="3760.0" rx="17" ry="11.5" fill="#aab6d0" stroke="#e8781c" stroke-width="4.5"/>
<ellipse cx="950.0" cy="3770.0" rx="17" ry="11.5" fill="#aab6d0" stroke="#e8781c" stroke-width="4.5"/>
<ellipse cx="905.0" cy="3790.0" rx="17" ry="11.5" fill="#aab6d0" stroke="#e8781c" stroke-width="4.5"/>
<ellipse cx="945.0" cy="3800.0" rx="17" ry="11.5" fill="#aab6d0" stroke="#e8781c" stroke-width="4.5"/>
<ellipse cx="920.0" cy="3812.0" rx="17" ry="11.5" fill="#aab6d0" stroke="#e8781c" stroke-width="4.5"/>
<ellipse cx="955.0" cy="3812.0" rx="17" ry="11.5" fill="#aab6d0" stroke="#e8781c" stroke-width="4.5"/>
<line x1="841" y1="3426.7" x2="841" y2="3388.7" stroke="#1e1a18" stroke-width="3.2"/>
<path d="M835.5,3393.7 L846.5,3393.7 L841,3381.7 Z" fill="#1e1a18"/>
<circle cx="841" cy="3439.7" r="13" fill="#5c6bb6" stroke="#1f2440" stroke-width="2"/>
<line x1="789" y1="3471" x2="789" y2="3433" stroke="#1e1a18" stroke-width="3.2"/>
<path d="M783.5,3438 L794.5,3438 L789,3426 Z" fill="#1e1a18"/>
<circle cx="789" cy="3484" r="13" fill="#5c6bb6" stroke="#1f2440" stroke-width="2"/>
<line x1="751" y1="3530" x2="751" y2="3492" stroke="#1e1a18" stroke-width="3.2"/>
<path d="M745.5,3497 L756.5,3497 L751,3485 Z" fill="#1e1a18"/>
<circle cx="751" cy="3543" r="13" fill="#5c6bb6" stroke="#1f2440" stroke-width="2"/>
<line x1="868" y1="3528.5" x2="868" y2="3490.5" stroke="#1e1a18" stroke-width="3.2"/>
<path d="M862.5,3495.5 L873.5,3495.5 L868,3483.5 Z" fill="#1e1a18"/>
<circle cx="868" cy="3541.5" r="13" fill="#5c6bb6" stroke="#1f2440" stroke-width="2"/>
<line x1="802.8" y1="3599.5" x2="802.8" y2="3561.5" stroke="#1e1a18" stroke-width="3.2"/>
<path d="M797.3,3566.5 L808.3,3566.5 L802.8,3554.5 Z" fill="#1e1a18"/>
<circle cx="802.8" cy="3612.5" r="13" fill="#5c6bb6" stroke="#1f2440" stroke-width="2"/>
<line x1="1033" y1="3503.5" x2="1033" y2="3465.5" stroke="#1e1a18" stroke-width="3.2"/>
<path d="M1027.5,3470.5 L1038.5,3470.5 L1033,3458.5 Z" fill="#1e1a18"/>
<circle cx="1033" cy="3516.5" r="13" fill="#5c6bb6" stroke="#1f2440" stroke-width="2"/>
<line x1="1092.8" y1="3551.5" x2="1092.8" y2="3513.5" stroke="#1e1a18" stroke-width="3.2"/>
<path d="M1087.3,3518.5 L1098.3,3518.5 L1092.8,3506.5 Z" fill="#1e1a18"/>
<circle cx="1092.8" cy="3564.5" r="13" fill="#5c6bb6" stroke="#1f2440" stroke-width="2"/>
<line x1="1014" y1="3615" x2="1014" y2="3577" stroke="#1e1a18" stroke-width="3.2"/>
<path d="M1008.5,3582 L1019.5,3582 L1014,3570 Z" fill="#1e1a18"/>
<circle cx="1014" cy="3628" r="13" fill="#5c6bb6" stroke="#1f2440" stroke-width="2"/>
<ellipse cx="776" cy="3750.8" rx="55.7" ry="27" fill="none" stroke="#1a1a1a" stroke-width="3.2" stroke-dasharray="10 6"/>
<rect x="767" y="3748" width="19" height="5.5" fill="#111"/>
<line x1="883" y1="3678" x2="829.2" y2="3713.9" stroke="#1a1a1a" stroke-width="2.6"/>
<path d="M820,3720 L826.4,3709.8 L831.9,3718.0 Z" fill="#1a1a1a"/>
<line x1="958" y1="3797" x2="996.2" y2="3789.0" stroke="#1a1a1a" stroke-width="2.6"/>
<path d="M1006,3787 L997.1,3793.4 L995.3,3784.6 Z" fill="#1a1a1a"/>
<rect x="908" y="3337.5" width="20.5" height="5" fill="#111"/>
<text x="907.0" y="3893.0" font-family='"Liberation Serif","Times New Roman",serif' font-size="79.6" font-weight="bold" textLength="53.0" lengthAdjust="spacingAndGlyphs" fill="#000" >+</text>
<text x="1021.1" y="3800.7" font-family='"Liberation Serif","Times New Roman",serif' font-size="59.1" font-weight="bold" textLength="35.6" lengthAdjust="spacingAndGlyphs" fill="#000" >V</text>
<text x="1058.6" y="3814.6" font-family='"Liberation Serif","Times New Roman",serif' font-size="35.3" font-weight="bold" textLength="17.8" lengthAdjust="spacingAndGlyphs" fill="#000" >o</text>
<text x="1081.7" y="3784.0" font-family='"Liberation Serif","Times New Roman",serif' font-size="32.9" font-weight="bold" textLength="37.7" lengthAdjust="spacingAndGlyphs" fill="#000" >2+</text>
<text x="719.4" y="3270.7" font-family='"Liberation Serif","Times New Roman",serif' font-size="55.7" font-weight="bold" textLength="296.3" lengthAdjust="spacingAndGlyphs" fill="#000" >Voltage &gt; V</text>
<text x="1021.4" y="3284.0" font-family='"Liberation Serif","Times New Roman",serif' font-size="39.7" font-weight="bold" textLength="92.7" lengthAdjust="spacingAndGlyphs" fill="#000" >Reset</text>
<linearGradient id="boltg4" gradientUnits="userSpaceOnUse" x1="623.2" y1="3342.6" x2="720.2" y2="3445.0"><stop offset="0" stop-color="#92cdee"/><stop offset="0.35" stop-color="#a99ad6"/><stop offset="0.6" stop-color="#9d62c2"/><stop offset="1" stop-color="#8e3aae"/></linearGradient>
<polygon points="603.2,3375.9 643.0,3342.6 675.7,3372.4 669.2,3379.4 701.8,3403.8 697.7,3412.8 745.2,3455.0 675.7,3431.8 682.8,3424.6 640.0,3405.6 648.4,3396.1" fill="url(#boltg4)"/>
<rect x="130" y="62" width="1004" height="810" fill="#fcfcfc"/>
<polygon points="174.0,503.0 560.0,455.0 1094.0,555.0 662.0,656.0" fill="#a99dd4"/>
<polygon points="174.0,503.0 662.0,656.0 662.0,717.0 174.0,552.0" fill="#8e7cc1"/>
<polygon points="662.0,656.0 1094.0,555.0 1094.0,612.0 662.0,717.0" fill="#8a77bf"/>
<polygon points="174.0,552.0 662.0,717.0 662.0,777.0 174.0,600.0" fill="#7392cc"/>
<polygon points="662.0,717.0 1094.0,612.0 1094.0,666.0 662.0,777.0" fill="#6f8dca"/>
<polygon points="405.0,528.0 470.0,512.0 560.0,505.0 700.0,512.0 850.0,522.0 905.0,545.0 885.0,600.0 800.0,640.0 700.0,652.0 600.0,640.0 480.0,612.0 410.0,582.0" fill="#7766b8" opacity="0.9"/>
<ellipse cx="499.0" cy="603.5" rx="3.9" ry="2.2" fill="#c9c0e6" opacity="0.8"/>
<ellipse cx="529.6" cy="618.9" rx="4.4" ry="2.3" fill="#c9c0e6" opacity="0.8"/>
<ellipse cx="703.1" cy="535.4" rx="2.0" ry="2.1" fill="#c9c0e6" opacity="0.8"/>
<ellipse cx="876.3" cy="534.8" rx="2.7" ry="1.6" fill="#c9c0e6" opacity="0.8"/>
<ellipse cx="420.4" cy="549.3" rx="3.5" ry="1.7" fill="#c9c0e6" opacity="0.8"/>
<ellipse cx="671.9" cy="582.8" rx="3.0" ry="2.2" fill="#c9c0e6" opacity="0.8"/>
<ellipse cx="868.2" cy="531.3" rx="4.9" ry="2.8" fill="#c9c0e6" opacity="0.8"/>
<ellipse cx="852.9" cy="614.4" rx="3.7" ry="2.6" fill="#c9c0e6" opacity="0.8"/>
<ellipse cx="473.5" cy="571.4" rx="4.5" ry="1.8" fill="#c9c0e6" opacity="0.8"/>
<ellipse cx="645.8" cy="554.8" rx="3.4" ry="2.1" fill="#c9c0e6" opacity="0.8"/>
<ellipse cx="697.6" cy="573.7" rx="3.7" ry="2.6" fill="#c9c0e6" opacity="0.8"/>
<ellipse cx="533.2" cy="591.3" rx="3.7" ry="2.4" fill="#c9c0e6" opacity="0.8"/>
<ellipse cx="508.4" cy="525.5" rx="3.0" ry="2.9" fill="#c9c0e6" opacity="0.8"/>
<ellipse cx="608.0" cy="589.6" rx="2.9" ry="1.7" fill="#c9c0e6" opacity="0.8"/>
<ellipse cx="866.2" cy="556.2" rx="4.1" ry="2.5" fill="#c9c0e6" opacity="0.8"/>
<ellipse cx="625.3" cy="537.1" rx="4.6" ry="1.7" fill="#c9c0e6" opacity="0.8"/>
<ellipse cx="864.3" cy="572.5" rx="4.5" ry="1.6" fill="#c9c0e6" opacity="0.8"/>
<ellipse cx="554.8" cy="543.5" rx="3.3" ry="1.8" fill="#c9c0e6" opacity="0.8"/>
<ellipse cx="441.7" cy="550.7" rx="4.7" ry="3.0" fill="#c9c0e6" opacity="0.8"/>
<ellipse cx="847.5" cy="571.8" rx="2.8" ry="2.9" fill="#c9c0e6" opacity="0.8"/>
<ellipse cx="715.4" cy="609.3" rx="2.1" ry="1.8" fill="#c9c0e6" opacity="0.8"/>
<ellipse cx="655.6" cy="587.2" rx="4.5" ry="2.0" fill="#c9c0e6" opacity="0.8"/>
<ellipse cx="720.6" cy="541.4" rx="4.3" ry="1.5" fill="#c9c0e6" opacity="0.8"/>
<ellipse cx="786.3" cy="627.8" rx="3.8" ry="1.9" fill="#c9c0e6" opacity="0.8"/>
<ellipse cx="643.4" cy="643.8" rx="4.7" ry="1.7" fill="#c9c0e6" opacity="0.8"/>
<ellipse cx="415.2" cy="567.0" rx="2.4" ry="2.8" fill="#c9c0e6" opacity="0.8"/>
<ellipse cx="793.2" cy="519.0" rx="3.6" ry="2.0" fill="#c9c0e6" opacity="0.8"/>
<ellipse cx="696.3" cy="532.9" rx="2.5" ry="1.8" fill="#c9c0e6" opacity="0.8"/>
<ellipse cx="626.7" cy="606.5" rx="3.7" ry="1.6" fill="#c9c0e6" opacity="0.8"/>
<ellipse cx="505.2" cy="606.7" rx="2.8" ry="2.5" fill="#c9c0e6" opacity="0.8"/>
<ellipse cx="633.3" cy="546.4" rx="4.7" ry="1.9" fill="#c9c0e6" opacity="0.8"/>
<ellipse cx="701.9" cy="582.4" rx="4.8" ry="1.6" fill="#c9c0e6" opacity="0.8"/>
<ellipse cx="760.7" cy="576.2" rx="4.2" ry="3.0" fill="#c9c0e6" opacity="0.8"/>
<ellipse cx="586.1" cy="604.9" rx="3.6" ry="2.3" fill="#c9c0e6" opacity="0.8"/>
<ellipse cx="855.9" cy="567.2" rx="3.9" ry="1.5" fill="#c9c0e6" opacity="0.8"/>
<ellipse cx="786.8" cy="566.4" rx="3.6" ry="2.1" fill="#c9c0e6" opacity="0.8"/>
<ellipse cx="640.9" cy="533.8" rx="2.1" ry="2.2" fill="#c9c0e6" opacity="0.8"/>
<ellipse cx="548.2" cy="605.6" rx="4.5" ry="2.6" fill="#c9c0e6" opacity="0.8"/>
<ellipse cx="673.6" cy="535.5" rx="3.2" ry="2.2" fill="#c9c0e6" opacity="0.8"/>
<ellipse cx="451.2" cy="572.0" rx="3.5" ry="2.6" fill="#c9c0e6" opacity="0.8"/>
<ellipse cx="776.1" cy="613.8" rx="4.0" ry="2.8" fill="#c9c0e6" opacity="0.8"/>
<ellipse cx="819.4" cy="602.4" rx="2.7" ry="2.9" fill="#c9c0e6" opacity="0.8"/>
<ellipse cx="631.6" cy="592.2" rx="4.5" ry="2.9" fill="#c9c0e6" opacity="0.8"/>
<ellipse cx="587.6" cy="546.8" rx="3.2" ry="1.7" fill="#c9c0e6" opacity="0.8"/>
<ellipse cx="845.4" cy="569.4" rx="2.3" ry="2.9" fill="#c9c0e6" opacity="0.8"/>
<ellipse cx="822.4" cy="530.9" rx="3.0" ry="2.5" fill="#c9c0e6" opacity="0.8"/>
<ellipse cx="809.0" cy="539.1" rx="4.9" ry="2.0" fill="#c9c0e6" opacity="0.8"/>
<ellipse cx="552.5" cy="626.8" rx="2.5" ry="2.5" fill="#c9c0e6" opacity="0.8"/>
<ellipse cx="519.9" cy="589.7" rx="2.8" ry="2.1" fill="#c9c0e6" opacity="0.8"/>
<ellipse cx="662.1" cy="592.6" rx="2.8" ry="1.8" fill="#c9c0e6" opacity="0.8"/>
<ellipse cx="630.8" cy="540.9" rx="2.6" ry="2.9" fill="#c9c0e6" opacity="0.8"/>
<ellipse cx="411.4" cy="575.2" rx="2.1" ry="2.4" fill="#c9c0e6" opacity="0.8"/>
<ellipse cx="820.2" cy="536.0" rx="2.0" ry="2.3" fill="#c9c0e6" opacity="0.8"/>
<ellipse cx="456.7" cy="546.3" rx="3.4" ry="2.8" fill="#c9c0e6" opacity="0.8"/>
<ellipse cx="622.0" cy="520.2" rx="4.4" ry="2.7" fill="#c9c0e6" opacity="0.8"/>
<ellipse cx="512.5" cy="560.4" rx="3.7" ry="1.8" fill="#c9c0e6" opacity="0.8"/>
<ellipse cx="848.2" cy="613.9" rx="2.6" ry="1.6" fill="#c9c0e6" opacity="0.8"/>
<ellipse cx="772.2" cy="570.7" rx="4.4" ry="2.0" fill="#c9c0e6" opacity="0.8"/>
<ellipse cx="561.8" cy="553.0" rx="2.9" ry="2.4" fill="#c9c0e6" opacity="0.8"/>
<ellipse cx="440.6" cy="576.8" rx="4.0" ry="1.8" fill="#c9c0e6" opacity="0.8"/>
<ellipse cx="561.9" cy="508.8" rx="2.1" ry="2.2" fill="#c9c0e6" opacity="0.8"/>
<ellipse cx="808.5" cy="598.0" rx="2.5" ry="1.7" fill="#c9c0e6" opacity="0.8"/>
<ellipse cx="645.1" cy="603.6" rx="4.2" ry="2.3" fill="#c9c0e6" opacity="0.8"/>
<ellipse cx="611.4" cy="579.9" rx="3.9" ry="1.8" fill="#c9c0e6" opacity="0.8"/>
<ellipse cx="825.8" cy="574.1" rx="2.5" ry="2.8" fill="#c9c0e6" opacity="0.8"/>
<ellipse cx="807.7" cy="532.6" rx="4.3" ry="2.9" fill="#c9c0e6" opacity="0.8"/>
<ellipse cx="720.0" cy="636.3" rx="4.9" ry="2.1" fill="#c9c0e6" opacity="0.8"/>
<polygon points="161.0,204.0 560.0,184.0 1102.0,220.0 655.0,252.0" fill="#d0cfd4"/>
<polygon points="161.0,204.0 655.0,252.0 655.0,307.0 161.0,245.0" fill="#adacb1"/>
<polygon points="655.0,252.0 1102.0,220.0 1102.0,268.0 655.0,307.0" fill="#a9a8ad"/>
<line x1="305.0" y1="344.0" x2="341.0" y2="327.5" stroke="#3fb8b6" stroke-width="4.5"/>
<line x1="309.2" y1="360.0" x2="345.2" y2="343.5" stroke="#3fb8b6" stroke-width="4.5"/>
<line x1="313.4" y1="376.0" x2="349.4" y2="359.5" stroke="#3fb8b6" stroke-width="4.5"/>
<line x1="317.6" y1="392.0" x2="353.6" y2="375.5" stroke="#3fb8b6" stroke-width="4.5"/>
<line x1="321.8" y1="408.0" x2="357.8" y2="391.5" stroke="#3fb8b6" stroke-width="4.5"/>
<line x1="326.0" y1="424.0" x2="362.0" y2="407.5" stroke="#3fb8b6" stroke-width="4.5"/>
<line x1="330.2" y1="440.0" x2="366.2" y2="423.5" stroke="#3fb8b6" stroke-width="4.5"/>
<line x1="334.4" y1="456.0" x2="370.4" y2="439.5" stroke="#3fb8b6" stroke-width="4.5"/>
<line x1="338.6" y1="472.0" x2="374.6" y2="455.5" stroke="#3fb8b6" stroke-width="4.5"/>
<line x1="345.2" y1="343.5" x2="381.2" y2="327.0" stroke="#3fb8b6" stroke-width="4.5"/>
<line x1="349.4" y1="359.5" x2="385.4" y2="343.0" stroke="#3fb8b6" stroke-width="4.5"/>
<line x1="353.6" y1="375.5" x2="389.6" y2="359.0" stroke="#3fb8b6" stroke-width="4.5"/>
<line x1="357.8" y1="391.5" x2="393.8" y2="375.0" stroke="#3fb8b6" stroke-width="4.5"/>
<line x1="362.0" y1="407.5" x2="398.0" y2="391.0" stroke="#3fb8b6" stroke-width="4.5"/>
<line x1="366.2" y1="423.5" x2="402.2" y2="407.0" stroke="#3fb8b6" stroke-width="4.5"/>
<line x1="370.4" y1="439.5" x2="406.4" y2="423.0" stroke="#3fb8b6" stroke-width="4.5"/>
<line x1="374.6" y1="455.5" x2="410.6" y2="439.0" stroke="#3fb8b6" stroke-width="4.5"/>
<line x1="378.8" y1="471.5" x2="414.8" y2="455.0" stroke="#3fb8b6" stroke-width="4.5"/>
<line x1="381.2" y1="327.0" x2="417.2" y2="310.5" stroke="#3fb8b6" stroke-width="4.5"/>
<line x1="385.4" y1="343.0" x2="421.4" y2="326.5" stroke="#3fb8b6" stroke-width="4.5"/>
<line x1="389.6" y1="359.0" x2="425.6" y2="342.5" stroke="#3fb8b6" stroke-width="4.5"/>
<line x1="393.8" y1="375.0" x2="429.8" y2="358.5" stroke="#3fb8b6" stroke-width="4.5"/>
<line x1="398.0" y1="391.0" x2="434.0" y2="374.5" stroke="#3fb8b6" stroke-width="4.5"/>
<line x1="402.2" y1="407.0" x2="438.2" y2="390.5" stroke="#3fb8b6" stroke-width="4.5"/>
<line x1="406.4" y1="423.0" x2="442.4" y2="406.5" stroke="#3fb8b6" stroke-width="4.5"/>
<line x1="410.6" y1="439.0" x2="446.6" y2="422.5" stroke="#3fb8b6" stroke-width="4.5"/>
<line x1="414.8" y1="455.0" x2="450.8" y2="438.5" stroke="#3fb8b6" stroke-width="4.5"/>
<line x1="419.0" y1="471.0" x2="455.0" y2="454.5" stroke="#3fb8b6" stroke-width="4.5"/>
<line x1="423.2" y1="487.0" x2="459.2" y2="470.5" stroke="#3fb8b6" stroke-width="4.5"/>
<line x1="421.4" y1="326.5" x2="457.4" y2="310.0" stroke="#3fb8b6" stroke-width="4.5"/>
<line x1="425.6" y1="342.5" x2="461.6" y2="326.0" stroke="#3fb8b6" stroke-width="4.5"/>
<line x1="429.8" y1="358.5" x2="465.8" y2="342.0" stroke="#3fb8b6" stroke-width="4.5"/>
<line x1="434.0" y1="374.5" x2="470.0" y2="358.0" stroke="#3fb8b6" stroke-width="4.5"/>
<line x1="438.2" y1="390.5" x2="474.2" y2="374.0" stroke="#3fb8b6" stroke-width="4.5"/>
<line x1="442.4" y1="406.5" x2="478.4" y2="390.0" stroke="#3fb8b6" stroke-width="4.5"/>
<line x1="446.6" y1="422.5" x2="482.6" y2="406.0" stroke="#3fb8b6" stroke-width="4.5"/>
<line x1="450.8" y1="438.5" x2="486.8" y2="422.0" stroke="#3fb8b6" stroke-width="4.5"/>
<line x1="455.0" y1="454.5" x2="491.0" y2="438.0" stroke="#3fb8b6" stroke-width="4.5"/>
<line x1="459.2" y1="470.5" x2="495.2" y2="454.0" stroke="#3fb8b6" stroke-width="4.5"/>
<line x1="463.4" y1="486.5" x2="499.4" y2="470.0" stroke="#3fb8b6" stroke-width="4.5"/>
<line x1="467.6" y1="502.5" x2="503.6" y2="486.0" stroke="#3fb8b6" stroke-width="4.5"/>
<line x1="461.6" y1="326.0" x2="497.6" y2="309.5" stroke="#3fb8b6" stroke-width="4.5"/>
<line x1="465.8" y1="342.0" x2="501.8" y2="325.5" stroke="#3fb8b6" stroke-width="4.5"/>
<line x1="470.0" y1="358.0" x2="506.0" y2="341.5" stroke="#3fb8b6" stroke-width="4.5"/>
<line x1="474.2" y1="374.0" x2="510.2" y2="357.5" stroke="#3fb8b6" stroke-width="4.5"/>
<line x1="478.4" y1="390.0" x2="514.4" y2="373.5" stroke="#3fb8b6" stroke-width="4.5"/>
<line x1="482.6" y1="406.0" x2="518.6" y2="389.5" stroke="#3fb8b6" stroke-width="4.5"/>
<line x1="486.8" y1="422.0" x2="522.8" y2="405.5" stroke="#3fb8b6" stroke-width="4.5"/>
<line x1="491.0" y1="438.0" x2="527.0" y2="421.5" stroke="#3fb8b6" stroke-width="4.5"/>
<line x1="495.2" y1="454.0" x2="531.2" y2="437.5" stroke="#3fb8b6" stroke-width="4.5"/>
<line x1="499.4" y1="470.0" x2="535.4" y2="453.5" stroke="#3fb8b6" stroke-width="4.5"/>
<line x1="503.6" y1="486.0" x2="539.6" y2="469.5" stroke="#3fb8b6" stroke-width="4.5"/>
<line x1="507.8" y1="502.0" x2="543.8" y2="485.5" stroke="#3fb8b6" stroke-width="4.5"/>
<line x1="512.0" y1="518.0" x2="548.0" y2="501.5" stroke="#3fb8b6" stroke-width="4.5"/>
<line x1="501.8" y1="325.5" x2="537.8" y2="309.0" stroke="#3fb8b6" stroke-width="4.5"/>
<line x1="506.0" y1="341.5" x2="542.0" y2="325.0" stroke="#3fb8b6" stroke-width="4.5"/>
<line x1="510.2" y1="357.5" x2="546.2" y2="341.0" stroke="#3fb8b6" stroke-width="4.5"/>
<line x1="514.4" y1="373.5" x2="550.4" y2="357.0" stroke="#3fb8b6" stroke-width="4.5"/>
<line x1="518.6" y1="389.5" x2="554.6" y2="373.0" stroke="#3fb8b6" stroke-width="4.5"/>
<line x1="522.8" y1="405.5" x2="558.8" y2="389.0" stroke="#3fb8b6" stroke-width="4.5"/>
<line x1="527.0" y1="421.5" x2="563.0" y2="405.0" stroke="#3fb8b6" stroke-width="4.5"/>
<line x1="531.2" y1="437.5" x2="567.2" y2="421.0" stroke="#3fb8b6" stroke-width="4.5"/>
<line x1="535.4" y1="453.5" x2="571.4" y2="437.0" stroke="#3fb8b6" stroke-width="4.5"/>
<line x1="539.6" y1="469.5" x2="575.6" y2="453.0" stroke="#3fb8b6" stroke-width="4.5"/>
<line x1="543.8" y1="485.5" x2="579.8" y2="469.0" stroke="#3fb8b6" stroke-width="4.5"/>
<line x1="548.0" y1="501.5" x2="584.0" y2="485.0" stroke="#3fb8b6" stroke-width="4.5"/>
<line x1="552.2" y1="517.5" x2="588.2" y2="501.0" stroke="#3fb8b6" stroke-width="4.5"/>
<line x1="556.4" y1="533.5" x2="592.4" y2="517.0" stroke="#3fb8b6" stroke-width="4.5"/>
<line x1="542.0" y1="325.0" x2="578.0" y2="308.5" stroke="#3fb8b6" stroke-width="4.5"/>
<line x1="546.2" y1="341.0" x2="582.2" y2="324.5" stroke="#3fb8b6" stroke-width="4.5"/>
<line x1="550.4" y1="357.0" x2="586.4" y2="340.5" stroke="#3fb8b6" stroke-width="4.5"/>
<line x1="554.6" y1="373.0" x2="590.6" y2="356.5" stroke="#3fb8b6" stroke-width="4.5"/>
<line x1="558.8" y1="389.0" x2="594.8" y2="372.5" stroke="#3fb8b6" stroke-width="4.5"/>
<line x1="563.0" y1="405.0" x2="599.0" y2="388.5" stroke="#3fb8b6" stroke-width="4.5"/>
<line x1="567.2" y1="421.0" x2="603.2" y2="404.5" stroke="#3fb8b6" stroke-width="4.5"/>
<line x1="571.4" y1="437.0" x2="607.4" y2="420.5" stroke="#3fb8b6" stroke-width="4.5"/>
<line x1="575.6" y1="453.0" x2="611.6" y2="436.5" stroke="#3fb8b6" stroke-width="4.5"/>
<line x1="579.8" y1="469.0" x2="615.8" y2="452.5" stroke="#3fb8b6" stroke-width="4.5"/>
<line x1="584.0" y1="485.0" x2="620.0" y2="468.5" stroke="#3fb8b6" stroke-width="4.5"/>
<line x1="588.2" y1="501.0" x2="624.2" y2="484.5" stroke="#3fb8b6" stroke-width="4.5"/>
<line x1="592.4" y1="517.0" x2="628.4" y2="500.5" stroke="#3fb8b6" stroke-width="4.5"/>
<line x1="596.6" y1="533.0" x2="632.6" y2="516.5" stroke="#3fb8b6" stroke-width="4.5"/>
<line x1="582.2" y1="324.5" x2="618.2" y2="308.0" stroke="#3fb8b6" stroke-width="4.5"/>
<line x1="586.4" y1="340.5" x2="622.4" y2="324.0" stroke="#3fb8b6" stroke-width="4.5"/>
<line x1="590.6" y1="356.5" x2="626.6" y2="340.0" stroke="#3fb8b6" stroke-width="4.5"/>
<line x1="594.8" y1="372.5" x2="630.8" y2="356.0" stroke="#3fb8b6" stroke-width="4.5"/>
<line x1="599.0" y1="388.5" x2="635.0" y2="372.0" stroke="#3fb8b6" stroke-width="4.5"/>
<line x1="603.2" y1="404.5" x2="639.2" y2="388.0" stroke="#3fb8b6" stroke-width="4.5"/>
<line x1="607.4" y1="420.5" x2="643.4" y2="404.0" stroke="#3fb8b6" stroke-width="4.5"/>
<line x1="611.6" y1="436.5" x2="647.6" y2="420.0" stroke="#3fb8b6" stroke-width="4.5"/>
<line x1="615.8" y1="452.5" x2="651.8" y2="436.0" stroke="#3fb8b6" stroke-width="4.5"/>
<line x1="620.0" y1="468.5" x2="656.0" y2="452.0" stroke="#3fb8b6" stroke-width="4.5"/>
<line x1="624.2" y1="484.5" x2="660.2" y2="468.0" stroke="#3fb8b6" stroke-width="4.5"/>
<line x1="628.4" y1="500.5" x2="664.4" y2="484.0" stroke="#3fb8b6" stroke-width="4.5"/>
<line x1="632.6" y1="516.5" x2="668.6" y2="500.0" stroke="#3fb8b6" stroke-width="4.5"/>
<line x1="636.8" y1="532.5" x2="672.8" y2="516.0" stroke="#3fb8b6" stroke-width="4.5"/>
<line x1="641.0" y1="548.5" x2="677.0" y2="532.0" stroke="#3fb8b6" stroke-width="4.5"/>
<line x1="622.4" y1="324.0" x2="658.4" y2="307.5" stroke="#3fb8b6" stroke-width="4.5"/>
<line x1="626.6" y1="340.0" x2="662.6" y2="323.5" stroke="#3fb8b6" stroke-width="4.5"/>
<line x1="630.8" y1="356.0" x2="666.8" y2="339.5" stroke="#3fb8b6" stroke-width="4.5"/>
<line x1="635.0" y1="372.0" x2="671.0" y2="355.5" stroke="#3fb8b6" stroke-width="4.5"/>
<line x1="639.2" y1="388.0" x2="675.2" y2="371.5" stroke="#3fb8b6" stroke-width="4.5"/>
<line x1="643.4" y1="404.0" x2="679.4" y2="387.5" stroke="#3fb8b6" stroke-width="4.5"/>
<line x1="647.6" y1="420.0" x2="683.6" y2="403.5" stroke="#3fb8b6" stroke-width="4.5"/>
<line x1="651.8" y1="436.0" x2="687.8" y2="419.5" stroke="#3fb8b6" stroke-width="4.5"/>
<line x1="656.0" y1="452.0" x2="692.0" y2="435.5" stroke="#3fb8b6" stroke-width="4.5"/>
<line x1="660.2" y1="468.0" x2="696.2" y2="451.5" stroke="#3fb8b6" stroke-width="4.5"/>
<line x1="664.4" y1="484.0" x2="700.4" y2="467.5" stroke="#3fb8b6" stroke-width="4.5"/>
<line x1="668.6" y1="500.0" x2="704.6" y2="483.5" stroke="#3fb8b6" stroke-width="4.5"/>
<line x1="672.8" y1="516.0" x2="708.8" y2="499.5" stroke="#3fb8b6" stroke-width="4.5"/>
<line x1="677.0" y1="532.0" x2="713.0" y2="515.5" stroke="#3fb8b6" stroke-width="4.5"/>
<line x1="681.2" y1="548.0" x2="717.2" y2="531.5" stroke="#3fb8b6" stroke-width="4.5"/>
<line x1="685.4" y1="564.0" x2="721.4" y2="547.5" stroke="#3fb8b6" stroke-width="4.5"/>
<line x1="666.8" y1="339.5" x2="702.8" y2="323.0" stroke="#3fb8b6" stroke-width="4.5"/>
<line x1="671.0" y1="355.5" x2="707.0" y2="339.0" stroke="#3fb8b6" stroke-width="4.5"/>
<line x1="675.2" y1="371.5" x2="711.2" y2="355.0" stroke="#3fb8b6" stroke-width="4.5"/>
<line x1="679.4" y1="387.5" x2="715.4" y2="371.0" stroke="#3fb8b6" stroke-width="4.5"/>
<line x1="683.6" y1="403.5" x2="719.6" y2="387.0" stroke="#3fb8b6" stroke-width="4.5"/>
<line x1="687.8" y1="419.5" x2="723.8" y2="403.0" stroke="#3fb8b6" stroke-width="4.5"/>
<line x1="692.0" y1="435.5" x2="728.0" y2="419.0" stroke="#3fb8b6" stroke-width="4.5"/>
<line x1="696.2" y1="451.5" x2="732.2" y2="435.0" stroke="#3fb8b6" stroke-width="4.5"/>
<line x1="700.4" y1="467.5" x2="736.4" y2="451.0" stroke="#3fb8b6" stroke-width="4.5"/>
<line x1="704.6" y1="483.5" x2="740.6" y2="467.0" stroke="#3fb8b6" stroke-width="4.5"/>
<line x1="708.8" y1="499.5" x2="744.8" y2="483.0" stroke="#3fb8b6" stroke-width="4.5"/>
<line x1="713.0" y1="515.5" x2="749.0" y2="499.0" stroke="#3fb8b6" stroke-width="4.5"/>
<line x1="717.2" y1="531.5" x2="753.2" y2="515.0" stroke="#3fb8b6" stroke-width="4.5"/>
<line x1="721.4" y1="547.5" x2="757.4" y2="531.0" stroke="#3fb8b6" stroke-width="4.5"/>
<line x1="707.0" y1="339.0" x2="743.0" y2="322.5" stroke="#3fb8b6" stroke-width="4.5"/>
<line x1="711.2" y1="355.0" x2="747.2" y2="338.5" stroke="#3fb8b6" stroke-width="4.5"/>
<line x1="715.4" y1="371.0" x2="751.4" y2="354.5" stroke="#3fb8b6" stroke-width="4.5"/>
<line x1="719.6" y1="387.0" x2="755.6" y2="370.5" stroke="#3fb8b6" stroke-width="4.5"/>
<line x1="723.8" y1="403.0" x2="759.8" y2="386.5" stroke="#3fb8b6" stroke-width="4.5"/>
<line x1="728.0" y1="419.0" x2="764.0" y2="402.5" stroke="#3fb8b6" stroke-width="4.5"/>
<line x1="732.2" y1="435.0" x2="768.2" y2="418.5" stroke="#3fb8b6" stroke-width="4.5"/>
<line x1="736.4" y1="451.0" x2="772.4" y2="434.5" stroke="#3fb8b6" stroke-width="4.5"/>
<line x1="740.6" y1="467.0" x2="776.6" y2="450.5" stroke="#3fb8b6" stroke-width="4.5"/>
<line x1="744.8" y1="483.0" x2="780.8" y2="466.5" stroke="#3fb8b6" stroke-width="4.5"/>
<line x1="749.0" y1="499.0" x2="785.0" y2="482.5" stroke="#3fb8b6" stroke-width="4.5"/>
<line x1="753.2" y1="515.0" x2="789.2" y2="498.5" stroke="#3fb8b6" stroke-width="4.5"/>
<line x1="757.4" y1="531.0" x2="793.4" y2="514.5" stroke="#3fb8b6" stroke-width="4.5"/>
<line x1="761.6" y1="547.0" x2="797.6" y2="530.5" stroke="#3fb8b6" stroke-width="4.5"/>
<line x1="747.2" y1="338.5" x2="783.2" y2="322.0" stroke="#3fb8b6" stroke-width="4.5"/>
<line x1="751.4" y1="354.5" x2="787.4" y2="338.0" stroke="#3fb8b6" stroke-width="4.5"/>
<line x1="755.6" y1="370.5" x2="791.6" y2="354.0" stroke="#3fb8b6" stroke-width="4.5"/>
<line x1="759.8" y1="386.5" x2="795.8" y2="370.0" stroke="#3fb8b6" stroke-width="4.5"/>
<line x1="764.0" y1="402.5" x2="800.0" y2="386.0" stroke="#3fb8b6" stroke-width="4.5"/>
<line x1="768.2" y1="418.5" x2="804.2" y2="402.0" stroke="#3fb8b6" stroke-width="4.5"/>
<line x1="772.4" y1="434.5" x2="808.4" y2="418.0" stroke="#3fb8b6" stroke-width="4.5"/>
<line x1="776.6" y1="450.5" x2="812.6" y2="434.0" stroke="#3fb8b6" stroke-width="4.5"/>
<line x1="780.8" y1="466.5" x2="816.8" y2="450.0" stroke="#3fb8b6" stroke-width="4.5"/>
<line x1="785.0" y1="482.5" x2="821.0" y2="466.0" stroke="#3fb8b6" stroke-width="4.5"/>
<line x1="789.2" y1="498.5" x2="825.2" y2="482.0" stroke="#3fb8b6" stroke-width="4.5"/>
<line x1="793.4" y1="514.5" x2="829.4" y2="498.0" stroke="#3fb8b6" stroke-width="4.5"/>
<line x1="797.6" y1="530.5" x2="833.6" y2="514.0" stroke="#3fb8b6" stroke-width="4.5"/>
<line x1="801.8" y1="546.5" x2="837.8" y2="530.0" stroke="#3fb8b6" stroke-width="4.5"/>
<line x1="787.4" y1="338.0" x2="823.4" y2="321.5" stroke="#3fb8b6" stroke-width="4.5"/>
<line x1="791.6" y1="354.0" x2="827.6" y2="337.5" stroke="#3fb8b6" stroke-width="4.5"/>
<line x1="795.8" y1="370.0" x2="831.8" y2="353.5" stroke="#3fb8b6" stroke-width="4.5"/>
<line x1="800.0" y1="386.0" x2="836.0" y2="369.5" stroke="#3fb8b6" stroke-width="4.5"/>
<line x1="804.2" y1="402.0" x2="840.2" y2="385.5" stroke="#3fb8b6" stroke-width="4.5"/>
<line x1="808.4" y1="418.0" x2="844.4" y2="401.5" stroke="#3fb8b6" stroke-width="4.5"/>
<line x1="812.6" y1="434.0" x2="848.6" y2="417.5" stroke="#3fb8b6" stroke-width="4.5"/>
<line x1="816.8" y1="450.0" x2="852.8" y2="433.5" stroke="#3fb8b6" stroke-width="4.5"/>
<line x1="821.0" y1="466.0" x2="857.0" y2="449.5" stroke="#3fb8b6" stroke-width="4.5"/>
<line x1="825.2" y1="482.0" x2="861.2" y2="465.5" stroke="#3fb8b6" stroke-width="4.5"/>
<line x1="829.4" y1="498.0" x2="865.4" y2="481.5" stroke="#3fb8b6" stroke-width="4.5"/>
<line x1="833.6" y1="514.0" x2="869.6" y2="497.5" stroke="#3fb8b6" stroke-width="4.5"/>
<line x1="837.8" y1="530.0" x2="873.8" y2="513.5" stroke="#3fb8b6" stroke-width="4.5"/>
<line x1="827.6" y1="337.5" x2="863.6" y2="321.0" stroke="#3fb8b6" stroke-width="4.5"/>
<line x1="831.8" y1="353.5" x2="867.8" y2="337.0" stroke="#3fb8b6" stroke-width="4.5"/>
<line x1="836.0" y1="369.5" x2="872.0" y2="353.0" stroke="#3fb8b6" stroke-width="4.5"/>
<line x1="840.2" y1="385.5" x2="876.2" y2="369.0" stroke="#3fb8b6" stroke-width="4.5"/>
<line x1="844.4" y1="401.5" x2="880.4" y2="385.0" stroke="#3fb8b6" stroke-width="4.5"/>
<line x1="848.6" y1="417.5" x2="884.6" y2="401.0" stroke="#3fb8b6" stroke-width="4.5"/>
<line x1="852.8" y1="433.5" x2="888.8" y2="417.0" stroke="#3fb8b6" stroke-width="4.5"/>
<line x1="857.0" y1="449.5" x2="893.0" y2="433.0" stroke="#3fb8b6" stroke-width="4.5"/>
<line x1="861.2" y1="465.5" x2="897.2" y2="449.0" stroke="#3fb8b6" stroke-width="4.5"/>
<line x1="865.4" y1="481.5" x2="901.4" y2="465.0" stroke="#3fb8b6" stroke-width="4.5"/>
<line x1="869.6" y1="497.5" x2="905.6" y2="481.0" stroke="#3fb8b6" stroke-width="4.5"/>
<line x1="873.8" y1="513.5" x2="909.8" y2="497.0" stroke="#3fb8b6" stroke-width="4.5"/>
<line x1="878.0" y1="529.5" x2="914.0" y2="513.0" stroke="#3fb8b6" stroke-width="4.5"/>
<line x1="876.2" y1="369.0" x2="912.2" y2="352.5" stroke="#3fb8b6" stroke-width="4.5"/>
<line x1="880.4" y1="385.0" x2="916.4" y2="368.5" stroke="#3fb8b6" stroke-width="4.5"/>
<line x1="884.6" y1="401.0" x2="920.6" y2="384.5" stroke="#3fb8b6" stroke-width="4.5"/>
<line x1="888.8" y1="417.0" x2="924.8" y2="400.5" stroke="#3fb8b6" stroke-width="4.5"/>
<line x1="893.0" y1="433.0" x2="929.0" y2="416.5" stroke="#3fb8b6" stroke-width="4.5"/>
<line x1="897.2" y1="449.0" x2="933.2" y2="432.5" stroke="#3fb8b6" stroke-width="4.5"/>
<line x1="901.4" y1="465.0" x2="937.4" y2="448.5" stroke="#3fb8b6" stroke-width="4.5"/>
<line x1="905.6" y1="481.0" x2="941.6" y2="464.5" stroke="#3fb8b6" stroke-width="4.5"/>
<line x1="909.8" y1="497.0" x2="945.8" y2="480.5" stroke="#3fb8b6" stroke-width="4.5"/>
<line x1="914.0" y1="513.0" x2="950.0" y2="496.5" stroke="#3fb8b6" stroke-width="4.5"/>
<line x1="924.8" y1="400.5" x2="960.8" y2="384.0" stroke="#3fb8b6" stroke-width="4.5"/>
<line x1="929.0" y1="416.5" x2="965.0" y2="400.0" stroke="#3fb8b6" stroke-width="4.5"/>
<line x1="933.2" y1="432.5" x2="969.2" y2="416.0" stroke="#3fb8b6" stroke-width="4.5"/>
<line x1="937.4" y1="448.5" x2="973.4" y2="432.0" stroke="#3fb8b6" stroke-width="4.5"/>
<line x1="941.6" y1="464.5" x2="977.6" y2="448.0" stroke="#3fb8b6" stroke-width="4.5"/>
<line x1="945.8" y1="480.5" x2="981.8" y2="464.0" stroke="#3fb8b6" stroke-width="4.5"/>
<line x1="950.0" y1="496.5" x2="986.0" y2="480.0" stroke="#3fb8b6" stroke-width="4.5"/>
<line x1="954.2" y1="512.5" x2="990.2" y2="496.0" stroke="#3fb8b6" stroke-width="4.5"/>
<line x1="977.6" y1="448.0" x2="1013.6" y2="431.5" stroke="#3fb8b6" stroke-width="4.5"/>
<line x1="981.8" y1="464.0" x2="1017.8" y2="447.5" stroke="#3fb8b6" stroke-width="4.5"/>
<line x1="986.0" y1="480.0" x2="1022.0" y2="463.5" stroke="#3fb8b6" stroke-width="4.5"/>
<line x1="990.2" y1="496.0" x2="1026.2" y2="479.5" stroke="#3fb8b6" stroke-width="4.5"/>
<ellipse cx="300.8" cy="328.0" rx="10.6" ry="8.6" fill="#2a5cb8"/>
<ellipse cx="305.0" cy="344.0" rx="10.6" ry="8.8" fill="#2a5cb8"/>
<ellipse cx="313.4" cy="376.0" rx="10.6" ry="8.2" fill="#2a5cb8"/>
<ellipse cx="317.6" cy="392.0" rx="11.4" ry="8.1" fill="#2a5cb8"/>
<ellipse cx="321.8" cy="408.0" rx="11.4" ry="8.3" fill="#2a5cb8"/>
<ellipse cx="326.0" cy="424.0" rx="9.8" ry="8.0" fill="#2a5cb8"/>
<ellipse cx="330.2" cy="440.0" rx="10.5" ry="8.5" fill="#2a5cb8"/>
<ellipse cx="334.4" cy="456.0" rx="11.1" ry="8.9" fill="#2a5cb8"/>
<ellipse cx="338.6" cy="472.0" rx="10.7" ry="7.2" fill="#2a5cb8"/>
<ellipse cx="341.0" cy="327.5" rx="14.4" ry="10.1" fill="#30c4a8"/>
<ellipse cx="345.2" cy="343.5" rx="14.2" ry="11.0" fill="#30c4a8"/>
<ellipse cx="349.4" cy="359.5" rx="12.5" ry="10.0" fill="#30c4a8"/>
<ellipse cx="353.6" cy="375.5" rx="11.5" ry="10.5" fill="#30c4a8"/>
<ellipse cx="357.8" cy="391.5" rx="12.7" ry="9.9" fill="#30c4a8"/>
<ellipse cx="362.0" cy="407.5" rx="11.6" ry="11.2" fill="#30c4a8"/>
<ellipse cx="366.2" cy="423.5" rx="13.2" ry="9.7" fill="#30c4a8"/>
<ellipse cx="370.4" cy="439.5" rx="11.9" ry="10.1" fill="#30c4a8"/>
<ellipse cx="374.6" cy="455.5" rx="12.3" ry="9.9" fill="#30c4a8"/>
<ellipse cx="378.8" cy="471.5" rx="13.5" ry="10.4" fill="#30c4a8"/>
<ellipse cx="381.2" cy="327.0" rx="12.6" ry="10.6" fill="#cf6a66"/>
<ellipse cx="385.4" cy="343.0" rx="12.4" ry="9.6" fill="#cf6a66"/>
<ellipse cx="389.6" cy="359.0" rx="12.6" ry="11.1" fill="#30c4a8"/>
<ellipse cx="393.8" cy="375.0" rx="14.1" ry="9.5" fill="#30c4a8"/>
<ellipse cx="398.0" cy="391.0" rx="12.8" ry="10.1" fill="#30c4a8"/>
<ellipse cx="402.2" cy="407.0" rx="13.6" ry="9.8" fill="#30c4a8"/>
<ellipse cx="406.4" cy="423.0" rx="13.3" ry="9.6" fill="#30c4a8"/>
<ellipse cx="410.6" cy="439.0" rx="13.3" ry="11.0" fill="#30c4a8"/>
<ellipse cx="414.8" cy="455.0" rx="12.8" ry="10.5" fill="#30c4a8"/>
<ellipse cx="419.0" cy="471.0" rx="14.1" ry="11.4" fill="#30c4a8"/>
<ellipse cx="423.2" cy="487.0" rx="11.6" ry="10.3" fill="#30c4a8"/>
<ellipse cx="417.2" cy="310.5" rx="9.8" ry="7.2" fill="#2a5cb8"/>
<ellipse cx="421.4" cy="326.5" rx="10.8" ry="8.2" fill="#2a5cb8"/>
<ellipse cx="425.6" cy="342.5" rx="10.6" ry="8.5" fill="#2a5cb8"/>
<ellipse cx="434.0" cy="374.5" rx="10.1" ry="8.6" fill="#2a5cb8"/>
<ellipse cx="442.4" cy="406.5" rx="10.9" ry="8.2" fill="#2a5cb8"/>
<ellipse cx="446.6" cy="422.5" rx="11.1" ry="8.3" fill="#2a5cb8"/>
<ellipse cx="450.8" cy="438.5" rx="9.6" ry="7.2" fill="#2a5cb8"/>
<ellipse cx="455.0" cy="454.5" rx="10.5" ry="8.1" fill="#2a5cb8"/>
<ellipse cx="459.2" cy="470.5" rx="9.5" ry="8.9" fill="#2a5cb8"/>
<ellipse cx="463.4" cy="486.5" rx="11.3" ry="8.5" fill="#2a5cb8"/>
<ellipse cx="467.6" cy="502.5" rx="11.5" ry="8.4" fill="#2a5cb8"/>
<ellipse cx="457.4" cy="310.0" rx="14.3" ry="10.3" fill="#30c4a8"/>
<ellipse cx="465.8" cy="342.0" rx="11.9" ry="9.6" fill="#30c4a8"/>
<ellipse cx="470.0" cy="358.0" rx="13.8" ry="11.1" fill="#30c4a8"/>
<ellipse cx="474.2" cy="374.0" rx="11.8" ry="10.2" fill="#30c4a8"/>
<ellipse cx="478.4" cy="390.0" rx="13.7" ry="11.2" fill="#30c4a8"/>
<ellipse cx="486.8" cy="422.0" rx="14.0" ry="9.5" fill="#30c4a8"/>
<ellipse cx="491.0" cy="438.0" rx="14.1" ry="10.7" fill="#30c4a8"/>
<ellipse cx="495.2" cy="454.0" rx="11.9" ry="10.2" fill="#30c4a8"/>
<ellipse cx="499.4" cy="470.0" rx="13.0" ry="10.4" fill="#30c4a8"/>
<ellipse cx="503.6" cy="486.0" rx="11.7" ry="9.9" fill="#30c4a8"/>
<ellipse cx="507.8" cy="502.0" rx="11.8" ry="10.3" fill="#30c4a8"/>
<ellipse cx="512.0" cy="518.0" rx="13.9" ry="10.6" fill="#30c4a8"/>
<ellipse cx="497.6" cy="309.5" rx="13.4" ry="10.0" fill="#cf6a66"/>
<ellipse cx="501.8" cy="325.5" rx="11.7" ry="10.2" fill="#cf6a66"/>
<ellipse cx="506.0" cy="341.5" rx="12.3" ry="10.1" fill="#cf6a66"/>
<ellipse cx="510.2" cy="357.5" rx="11.5" ry="10.4" fill="#30c4a8"/>
<ellipse cx="514.4" cy="373.5" rx="12.3" ry="10.9" fill="#30c4a8"/>
<ellipse cx="518.6" cy="389.5" rx="11.6" ry="9.8" fill="#30c4a8"/>
<ellipse cx="527.0" cy="421.5" rx="11.9" ry="11.4" fill="#30c4a8"/>
<ellipse cx="531.2" cy="437.5" rx="14.4" ry="10.2" fill="#30c4a8"/>
<ellipse cx="535.4" cy="453.5" rx="11.6" ry="10.0" fill="#30c4a8"/>
<ellipse cx="539.6" cy="469.5" rx="13.0" ry="11.1" fill="#30c4a8"/>
<ellipse cx="543.8" cy="485.5" rx="14.1" ry="9.7" fill="#30c4a8"/>
<ellipse cx="548.0" cy="501.5" rx="12.1" ry="9.9" fill="#30c4a8"/>
<ellipse cx="552.2" cy="517.5" rx="12.8" ry="11.1" fill="#30c4a8"/>
<ellipse cx="556.4" cy="533.5" rx="13.7" ry="11.3" fill="#30c4a8"/>
<ellipse cx="537.8" cy="309.0" rx="9.6" ry="8.3" fill="#2a5cb8"/>
<ellipse cx="546.2" cy="341.0" rx="10.1" ry="7.8" fill="#2a5cb8"/>
<ellipse cx="550.4" cy="357.0" rx="10.9" ry="7.3" fill="#2a5cb8"/>
<ellipse cx="554.6" cy="373.0" rx="9.1" ry="7.3" fill="#2a5cb8"/>
<ellipse cx="558.8" cy="389.0" rx="10.2" ry="7.4" fill="#2a5cb8"/>
<ellipse cx="563.0" cy="405.0" rx="10.9" ry="7.2" fill="#2a5cb8"/>
<ellipse cx="567.2" cy="421.0" rx="10.3" ry="8.8" fill="#2a5cb8"/>
<ellipse cx="575.6" cy="453.0" rx="9.2" ry="8.7" fill="#2a5cb8"/>
<ellipse cx="584.0" cy="485.0" rx="10.3" ry="7.8" fill="#2a5cb8"/>
<ellipse cx="588.2" cy="501.0" rx="11.0" ry="9.0" fill="#2a5cb8"/>
<ellipse cx="592.4" cy="517.0" rx="10.3" ry="7.6" fill="#2a5cb8"/>
<ellipse cx="596.6" cy="533.0" rx="10.4" ry="7.6" fill="#2a5cb8"/>
<ellipse cx="578.0" cy="308.5" rx="14.2" ry="10.0" fill="#30c4a8"/>
<ellipse cx="582.2" cy="324.5" rx="12.4" ry="11.2" fill="#30c4a8"/>
<ellipse cx="586.4" cy="340.5" rx="14.0" ry="11.4" fill="#30c4a8"/>
<ellipse cx="590.6" cy="356.5" rx="13.9" ry="9.9" fill="#30c4a8"/>
<ellipse cx="594.8" cy="372.5" rx="14.0" ry="10.0" fill="#30c4a8"/>
<ellipse cx="599.0" cy="388.5" rx="14.1" ry="11.4" fill="#30c4a8"/>
<ellipse cx="603.2" cy="404.5" rx="11.9" ry="9.6" fill="#30c4a8"/>
<ellipse cx="607.4" cy="420.5" rx="13.1" ry="10.1" fill="#30c4a8"/>
<ellipse cx="611.6" cy="436.5" rx="13.5" ry="10.7" fill="#30c4a8"/>
<ellipse cx="615.8" cy="452.5" rx="12.5" ry="10.8" fill="#30c4a8"/>
<ellipse cx="620.0" cy="468.5" rx="12.4" ry="9.7" fill="#30c4a8"/>
<ellipse cx="624.2" cy="484.5" rx="14.2" ry="9.6" fill="#30c4a8"/>
<ellipse cx="628.4" cy="500.5" rx="11.7" ry="10.3" fill="#30c4a8"/>
<ellipse cx="632.6" cy="516.5" rx="14.2" ry="10.4" fill="#30c4a8"/>
<ellipse cx="636.8" cy="532.5" rx="12.6" ry="10.0" fill="#30c4a8"/>
<ellipse cx="641.0" cy="548.5" rx="11.7" ry="9.5" fill="#30c4a8"/>
<ellipse cx="618.2" cy="308.0" rx="13.7" ry="10.8" fill="#cf6a66"/>
<ellipse cx="622.4" cy="324.0" rx="14.5" ry="9.7" fill="#cf6a66"/>
<ellipse cx="626.6" cy="340.0" rx="12.5" ry="9.9" fill="#cf6a66"/>
<ellipse cx="635.0" cy="372.0" rx="11.9" ry="9.9" fill="#30c4a8"/>
<ellipse cx="639.2" cy="388.0" rx="12.6" ry="10.1" fill="#30c4a8"/>
<ellipse cx="643.4" cy="404.0" rx="12.5" ry="10.7" fill="#30c4a8"/>
<ellipse cx="647.6" cy="420.0" rx="13.3" ry="9.6" fill="#30c4a8"/>
<ellipse cx="651.8" cy="436.0" rx="13.3" ry="10.1" fill="#30c4a8"/>
<ellipse cx="656.0" cy="452.0" rx="14.3" ry="10.8" fill="#30c4a8"/>
<ellipse cx="660.2" cy="468.0" rx="12.0" ry="10.8" fill="#30c4a8"/>
<ellipse cx="664.4" cy="484.0" rx="12.0" ry="10.6" fill="#30c4a8"/>
<ellipse cx="668.6" cy="500.0" rx="13.4" ry="11.0" fill="#30c4a8"/>
<ellipse cx="672.8" cy="516.0" rx="13.4" ry="9.9" fill="#30c4a8"/>
<ellipse cx="677.0" cy="532.0" rx="13.7" ry="11.4" fill="#30c4a8"/>
<ellipse cx="681.2" cy="548.0" rx="13.8" ry="10.2" fill="#30c4a8"/>
<ellipse cx="658.4" cy="307.5" rx="10.7" ry="7.2" fill="#2a5cb8"/>
<ellipse cx="662.6" cy="323.5" rx="10.9" ry="8.8" fill="#2a5cb8"/>
<ellipse cx="666.8" cy="339.5" rx="10.4" ry="7.8" fill="#2a5cb8"/>
<ellipse cx="671.0" cy="355.5" rx="10.6" ry="8.2" fill="#2a5cb8"/>
<ellipse cx="675.2" cy="371.5" rx="10.9" ry="8.9" fill="#2a5cb8"/>
<ellipse cx="679.4" cy="387.5" rx="11.2" ry="8.5" fill="#2a5cb8"/>
<ellipse cx="683.6" cy="403.5" rx="11.0" ry="7.7" fill="#2a5cb8"/>
<ellipse cx="687.8" cy="419.5" rx="11.2" ry="8.8" fill="#2a5cb8"/>
<ellipse cx="696.2" cy="451.5" rx="10.2" ry="7.6" fill="#2a5cb8"/>
<ellipse cx="700.4" cy="467.5" rx="11.2" ry="7.7" fill="#2a5cb8"/>
<ellipse cx="704.6" cy="483.5" rx="10.9" ry="8.8" fill="#2a5cb8"/>
<ellipse cx="708.8" cy="499.5" rx="9.3" ry="7.2" fill="#2a5cb8"/>
<ellipse cx="713.0" cy="515.5" rx="11.1" ry="7.5" fill="#2a5cb8"/>
<ellipse cx="717.2" cy="531.5" rx="9.1" ry="7.4" fill="#2a5cb8"/>
<ellipse cx="721.4" cy="547.5" rx="10.9" ry="8.0" fill="#2a5cb8"/>
<ellipse cx="702.8" cy="323.0" rx="12.6" ry="10.3" fill="#30c4a8"/>
<ellipse cx="707.0" cy="339.0" rx="11.5" ry="9.9" fill="#30c4a8"/>
<ellipse cx="711.2" cy="355.0" rx="13.5" ry="9.9" fill="#30c4a8"/>
<ellipse cx="715.4" cy="371.0" rx="14.5" ry="10.8" fill="#30c4a8"/>
<ellipse cx="719.6" cy="387.0" rx="13.8" ry="10.9" fill="#30c4a8"/>
<ellipse cx="723.8" cy="403.0" rx="13.2" ry="10.7" fill="#30c4a8"/>
<ellipse cx="728.0" cy="419.0" rx="12.8" ry="10.3" fill="#30c4a8"/>
<ellipse cx="732.2" cy="435.0" rx="12.6" ry="11.3" fill="#30c4a8"/>
<ellipse cx="736.4" cy="451.0" rx="11.8" ry="10.2" fill="#30c4a8"/>
<ellipse cx="740.6" cy="467.0" rx="11.6" ry="11.3" fill="#30c4a8"/>
<ellipse cx="744.8" cy="483.0" rx="11.6" ry="10.6" fill="#30c4a8"/>
<ellipse cx="749.0" cy="499.0" rx="12.9" ry="11.4" fill="#30c4a8"/>
<ellipse cx="757.4" cy="531.0" rx="13.8" ry="10.5" fill="#30c4a8"/>
<ellipse cx="761.6" cy="547.0" rx="12.7" ry="11.1" fill="#30c4a8"/>
<ellipse cx="743.0" cy="322.5" rx="13.7" ry="11.5" fill="#cf6a66"/>
<ellipse cx="747.2" cy="338.5" rx="13.6" ry="11.1" fill="#cf6a66"/>
<ellipse cx="755.6" cy="370.5" rx="14.1" ry="10.2" fill="#30c4a8"/>
<ellipse cx="759.8" cy="386.5" rx="13.4" ry="9.7" fill="#30c4a8"/>
<ellipse cx="764.0" cy="402.5" rx="12.6" ry="9.9" fill="#30c4a8"/>
<ellipse cx="768.2" cy="418.5" rx="13.5" ry="10.1" fill="#30c4a8"/>
<ellipse cx="772.4" cy="434.5" rx="13.9" ry="11.4" fill="#30c4a8"/>
<ellipse cx="776.6" cy="450.5" rx="13.6" ry="9.7" fill="#30c4a8"/>
<ellipse cx="780.8" cy="466.5" rx="12.0" ry="10.8" fill="#30c4a8"/>
<ellipse cx="785.0" cy="482.5" rx="14.0" ry="10.8" fill="#30c4a8"/>
<ellipse cx="789.2" cy="498.5" rx="14.1" ry="10.7" fill="#30c4a8"/>
<ellipse cx="793.4" cy="514.5" rx="12.0" ry="11.2" fill="#30c4a8"/>
<ellipse cx="797.6" cy="530.5" rx="13.4" ry="11.4" fill="#30c4a8"/>
<ellipse cx="801.8" cy="546.5" rx="12.7" ry="9.9" fill="#30c4a8"/>
<ellipse cx="783.2" cy="322.0" rx="11.3" ry="8.8" fill="#2a5cb8"/>
<ellipse cx="787.4" cy="338.0" rx="9.0" ry="7.9" fill="#2a5cb8"/>
<ellipse cx="795.8" cy="370.0" rx="11.1" ry="7.1" fill="#2a5cb8"/>
<ellipse cx="800.0" cy="386.0" rx="10.9" ry="7.9" fill="#2a5cb8"/>
<ellipse cx="804.2" cy="402.0" rx="11.4" ry="7.0" fill="#2a5cb8"/>
<ellipse cx="808.4" cy="418.0" rx="11.2" ry="8.4" fill="#2a5cb8"/>
<ellipse cx="812.6" cy="434.0" rx="9.7" ry="8.1" fill="#2a5cb8"/>
<ellipse cx="821.0" cy="466.0" rx="10.1" ry="9.0" fill="#2a5cb8"/>
<ellipse cx="825.2" cy="482.0" rx="10.9" ry="8.5" fill="#2a5cb8"/>
<ellipse cx="829.4" cy="498.0" rx="11.5" ry="8.6" fill="#2a5cb8"/>
<ellipse cx="833.6" cy="514.0" rx="11.5" ry="8.8" fill="#2a5cb8"/>
<ellipse cx="837.8" cy="530.0" rx="9.1" ry="8.6" fill="#2a5cb8"/>
<ellipse cx="823.4" cy="321.5" rx="13.7" ry="9.7" fill="#30c4a8"/>
<ellipse cx="827.6" cy="337.5" rx="13.9" ry="11.0" fill="#30c4a8"/>
<ellipse cx="831.8" cy="353.5" rx="12.5" ry="10.4" fill="#30c4a8"/>
<ellipse cx="836.0" cy="369.5" rx="14.5" ry="11.4" fill="#30c4a8"/>
<ellipse cx="840.2" cy="385.5" rx="13.4" ry="9.8" fill="#30c4a8"/>
<ellipse cx="844.4" cy="401.5" rx="13.1" ry="11.3" fill="#30c4a8"/>
<ellipse cx="857.0" cy="449.5" rx="11.7" ry="11.0" fill="#30c4a8"/>
<ellipse cx="861.2" cy="465.5" rx="13.8" ry="10.4" fill="#30c4a8"/>
<ellipse cx="865.4" cy="481.5" rx="13.7" ry="10.2" fill="#30c4a8"/>
<ellipse cx="869.6" cy="497.5" rx="12.7" ry="10.8" fill="#30c4a8"/>
<ellipse cx="873.8" cy="513.5" rx="12.9" ry="10.7" fill="#30c4a8"/>
<ellipse cx="878.0" cy="529.5" rx="14.2" ry="10.2" fill="#30c4a8"/>
<ellipse cx="867.8" cy="337.0" rx="12.7" ry="10.6" fill="#cf6a66"/>
<ellipse cx="872.0" cy="353.0" rx="13.5" ry="9.5" fill="#30c4a8"/>
<ellipse cx="876.2" cy="369.0" rx="12.6" ry="9.5" fill="#30c4a8"/>
<ellipse cx="880.4" cy="385.0" rx="12.5" ry="10.0" fill="#30c4a8"/>
<ellipse cx="884.6" cy="401.0" rx="12.6" ry="11.3" fill="#30c4a8"/>
<ellipse cx="888.8" cy="417.0" rx="12.5" ry="11.4" fill="#30c4a8"/>
<ellipse cx="893.0" cy="433.0" rx="14.3" ry="9.7" fill="#30c4a8"/>
<ellipse cx="897.2" cy="449.0" rx="13.6" ry="10.2" fill="#30c4a8"/>
<ellipse cx="901.4" cy="465.0" rx="11.8" ry="10.1" fill="#30c4a8"/>
<ellipse cx="905.6" cy="481.0" rx="13.5" ry="11.5" fill="#30c4a8"/>
<ellipse cx="909.8" cy="497.0" rx="13.9" ry="10.7" fill="#30c4a8"/>
<ellipse cx="914.0" cy="513.0" rx="14.5" ry="11.3" fill="#30c4a8"/>
<ellipse cx="912.2" cy="352.5" rx="10.8" ry="8.5" fill="#2a5cb8"/>
<ellipse cx="916.4" cy="368.5" rx="9.1" ry="8.5" fill="#2a5cb8"/>
<ellipse cx="920.6" cy="384.5" rx="10.9" ry="8.5" fill="#2a5cb8"/>
<ellipse cx="924.8" cy="400.5" rx="9.1" ry="8.9" fill="#2a5cb8"/>
<ellipse cx="933.2" cy="432.5" rx="11.0" ry="8.9" fill="#2a5cb8"/>
<ellipse cx="937.4" cy="448.5" rx="9.8" ry="8.2" fill="#2a5cb8"/>
<ellipse cx="941.6" cy="464.5" rx="10.0" ry="8.4" fill="#2a5cb8"/>
<ellipse cx="950.0" cy="496.5" rx="11.3" ry="7.3" fill="#2a5cb8"/>
<ellipse cx="954.2" cy="512.5" rx="11.1" ry="7.8" fill="#2a5cb8"/>
<ellipse cx="960.8" cy="384.0" rx="12.3" ry="10.2" fill="#30c4a8"/>
<ellipse cx="965.0" cy="400.0" rx="12.7" ry="10.0" fill="#30c4a8"/>
<ellipse cx="969.2" cy="416.0" rx="12.2" ry="10.0" fill="#30c4a8"/>
<ellipse cx="973.4" cy="432.0" rx="14.2" ry="10.1" fill="#30c4a8"/>
<ellipse cx="977.6" cy="448.0" rx="13.8" ry="10.7" fill="#30c4a8"/>
<ellipse cx="981.8" cy="464.0" rx="14.4" ry="9.9" fill="#30c4a8"/>
<ellipse cx="986.0" cy="480.0" rx="12.2" ry="11.2" fill="#30c4a8"/>
<ellipse cx="990.2" cy="496.0" rx="13.4" ry="11.1" fill="#30c4a8"/>
<ellipse cx="1013.6" cy="431.5" rx="12.4" ry="10.1" fill="#30c4a8"/>
<ellipse cx="1017.8" cy="447.5" rx="13.1" ry="10.9" fill="#30c4a8"/>
<ellipse cx="1022.0" cy="463.5" rx="11.7" ry="9.5" fill="#30c4a8"/>
<ellipse cx="1026.2" cy="479.5" rx="12.0" ry="11.0" fill="#30c4a8"/>
<ellipse cx="1030.4" cy="495.5" rx="14.4" ry="10.8" fill="#30c4a8"/>
<ellipse cx="285" cy="314" rx="10" ry="13" fill="#cf6a66"/>
<line x1="285" y1="304" x2="288" y2="286" stroke="#dadada" stroke-width="5"/>
<circle cx="288" cy="284" r="6.5" fill="#e2e2e2"/>
<ellipse cx="366" cy="310" rx="10" ry="13" fill="#cf6a66"/>
<line x1="366" y1="300" x2="369" y2="282" stroke="#dadada" stroke-width="5"/>
<circle cx="369" cy="280" r="6.5" fill="#e2e2e2"/>
<ellipse cx="453" cy="307" rx="10" ry="13" fill="#cf6a66"/>
<line x1="453" y1="297" x2="456" y2="279" stroke="#dadada" stroke-width="5"/>
<circle cx="456" cy="277" r="6.5" fill="#e2e2e2"/>
<ellipse cx="541" cy="310" rx="10" ry="13" fill="#cf6a66"/>
<line x1="541" y1="300" x2="544" y2="282" stroke="#dadada" stroke-width="5"/>
<circle cx="544" cy="280" r="6.5" fill="#e2e2e2"/>
<ellipse cx="615" cy="318" rx="10" ry="13" fill="#cf6a66"/>
<line x1="615" y1="308" x2="618" y2="290" stroke="#dadada" stroke-width="5"/>
<circle cx="618" cy="288" r="6.5" fill="#e2e2e2"/>
<ellipse cx="723" cy="325" rx="10" ry="13" fill="#cf6a66"/>
<line x1="723" y1="315" x2="726" y2="297" stroke="#dadada" stroke-width="5"/>
<circle cx="726" cy="295" r="6.5" fill="#e2e2e2"/>
<ellipse cx="790" cy="330" rx="10" ry="13" fill="#cf6a66"/>
<line x1="790" y1="320" x2="793" y2="302" stroke="#dadada" stroke-width="5"/>
<circle cx="793" cy="300" r="6.5" fill="#e2e2e2"/>
<ellipse cx="838" cy="339" rx="10" ry="13" fill="#cf6a66"/>
<line x1="838" y1="329" x2="841" y2="311" stroke="#dadada" stroke-width="5"/>
<circle cx="841" cy="309" r="6.5" fill="#e2e2e2"/>
<ellipse cx="900" cy="345" rx="10" ry="13" fill="#cf6a66"/>
<line x1="900" y1="335" x2="903" y2="317" stroke="#dadada" stroke-width="5"/>
<circle cx="903" cy="315" r="6.5" fill="#e2e2e2"/>
<ellipse cx="930" cy="352" rx="10" ry="13" fill="#cf6a66"/>
<line x1="930" y1="342" x2="933" y2="324" stroke="#dadada" stroke-width="5"/>
<circle cx="933" cy="322" r="6.5" fill="#e2e2e2"/>
<ellipse cx="467" cy="530" rx="10" ry="11" fill="#cf6a66"/>
<line x1="467" y1="540" x2="467" y2="556" stroke="#e6e6e6" stroke-width="4"/>
<circle cx="467" cy="559" r="5.5" fill="#ececec"/>
<ellipse cx="560" cy="545" rx="10" ry="11" fill="#cf6a66"/>
<line x1="560" y1="555" x2="560" y2="571" stroke="#e6e6e6" stroke-width="4"/>
<circle cx="560" cy="574" r="5.5" fill="#ececec"/>
<ellipse cx="640" cy="560" rx="10" ry="11" fill="#cf6a66"/>
<line x1="640" y1="570" x2="640" y2="586" stroke="#e6e6e6" stroke-width="4"/>
<circle cx="640" cy="589" r="5.5" fill="#ececec"/>
<ellipse cx="696" cy="560" rx="10" ry="11" fill="#cf6a66"/>
<line x1="696" y1="570" x2="696" y2="586" stroke="#e6e6e6" stroke-width="4"/>
<circle cx="696" cy="589" r="5.5" fill="#ececec"/>
<ellipse cx="760" cy="552" rx="10" ry="11" fill="#cf6a66"/>
<line x1="760" y1="562" x2="760" y2="578" stroke="#e6e6e6" stroke-width="4"/>
<circle cx="760" cy="581" r="5.5" fill="#ececec"/>
<ellipse cx="804" cy="552" rx="10" ry="11" fill="#cf6a66"/>
<line x1="804" y1="562" x2="804" y2="578" stroke="#e6e6e6" stroke-width="4"/>
<circle cx="804" cy="581" r="5.5" fill="#ececec"/>
<ellipse cx="880" cy="535" rx="10" ry="11" fill="#cf6a66"/>
<line x1="880" y1="545" x2="880" y2="561" stroke="#e6e6e6" stroke-width="4"/>
<circle cx="880" cy="564" r="5.5" fill="#ececec"/>
<ellipse cx="966" cy="512" rx="10" ry="11" fill="#cf6a66"/>
<line x1="966" y1="522" x2="966" y2="538" stroke="#e6e6e6" stroke-width="4"/>
<circle cx="966" cy="541" r="5.5" fill="#ececec"/>
<ellipse cx="1010" cy="495" rx="10" ry="11" fill="#cf6a66"/>
<line x1="1010" y1="505" x2="1010" y2="521" stroke="#e6e6e6" stroke-width="4"/>
<circle cx="1010" cy="524" r="5.5" fill="#ececec"/>
<line x1="231" y1="343" x2="301" y2="313" stroke="#3fb8b6" stroke-width="4.5"/>
<line x1="288" y1="386" x2="358" y2="356" stroke="#3fb8b6" stroke-width="4.5"/>
<line x1="258" y1="438" x2="328" y2="408" stroke="#3fb8b6" stroke-width="4.5"/>
<ellipse cx="231" cy="343" rx="13" ry="11" fill="#30c4a8"/>
<ellipse cx="288" cy="386" rx="13" ry="11" fill="#30c4a8"/>
<ellipse cx="258" cy="438" rx="13" ry="11" fill="#30c4a8"/>
<ellipse cx="1020" cy="410" rx="13" ry="11" fill="#30c4a8"/>
<ellipse cx="1010" cy="455" rx="13" ry="11" fill="#30c4a8"/>
<ellipse cx="1055" cy="495" rx="13" ry="11" fill="#30c4a8"/>
<text x="264" y="249" font-family='"Liberation Serif",serif' font-weight="bold" font-size="56" fill="#3b3238" transform="skewX(-8)" textLength="66" lengthAdjust="spacingAndGlyphs">Ag</text>
<text x="160" y="482" font-family='"Liberation Serif",serif' font-weight="bold" font-style="italic" font-size="52" fill="#45404c" transform="rotate(16 160 482)" textLength="243" lengthAdjust="spacingAndGlyphs">O-MXene</text>
<text x="200" y="553" font-family='"Liberation Serif",serif' font-weight="bold" font-style="italic" font-size="46" fill="#3e3848" transform="rotate(16 200 553)" textLength="82" lengthAdjust="spacingAndGlyphs">SiO</text>
<text x="288" y="590" font-family='"Liberation Serif",serif' font-weight="bold" font-style="italic" font-size="30" fill="#3e3848" transform="rotate(16 288 590)">2</text>
<text x="207" y="608" font-family='"Liberation Serif",serif' font-weight="bold" font-style="italic" font-size="50" fill="#3a3846" transform="rotate(15 207 608)" textLength="46" lengthAdjust="spacingAndGlyphs">Si</text>
<text x="85.4" y="133.0" font-family='"Liberation Serif","Times New Roman",serif' font-size="79.1" textLength="88.1" lengthAdjust="spacingAndGlyphs" fill="#000" >(a)</text>
<text x="1135.5" y="132.5" font-family='"Liberation Serif","Times New Roman",serif' font-size="76.9" textLength="91.6" lengthAdjust="spacingAndGlyphs" fill="#000" >(b)</text>
<text x="49.0" y="950.5" font-family='"Liberation Serif","Times New Roman",serif' font-size="76.9" textLength="87.4" lengthAdjust="spacingAndGlyphs" fill="#000" >(c)</text>
<text x="1164.5" y="971.2" font-family='"Liberation Serif","Times New Roman",serif' font-size="78.0" textLength="91.1" lengthAdjust="spacingAndGlyphs" fill="#000" >(d)</text>
<text x="49.5" y="1706.6" font-family='"Liberation Serif","Times New Roman",serif' font-size="76.3" textLength="87.1" lengthAdjust="spacingAndGlyphs" fill="#000" >(e)</text>
<text x="1177.6" y="1741.3" font-family='"Liberation Serif","Times New Roman",serif' font-size="76.2" textLength="78.2" lengthAdjust="spacingAndGlyphs" fill="#000" >(f)</text>
<text x="49.1" y="2533.4" font-family='"Liberation Serif","Times New Roman",serif' font-size="77.3" textLength="91.6" lengthAdjust="spacingAndGlyphs" fill="#000" >(g)</text>
<text x="1171.7" y="2513.0" font-family='"Liberation Serif","Times New Roman",serif' font-size="72.6" textLength="88.3" lengthAdjust="spacingAndGlyphs" fill="#000" >(h)</text>
<text x="53.6" y="3279.3" font-family='"Liberation Serif","Times New Roman",serif' font-size="75.9" textLength="75.8" lengthAdjust="spacingAndGlyphs" fill="#000" >(i)</text>
<text x="1192.3" y="3244.5" font-family='"Liberation Serif","Times New Roman",serif' font-size="77.8" textLength="73.6" lengthAdjust="spacingAndGlyphs" fill="#000" >(j)</text>
</svg>
</body></html>
